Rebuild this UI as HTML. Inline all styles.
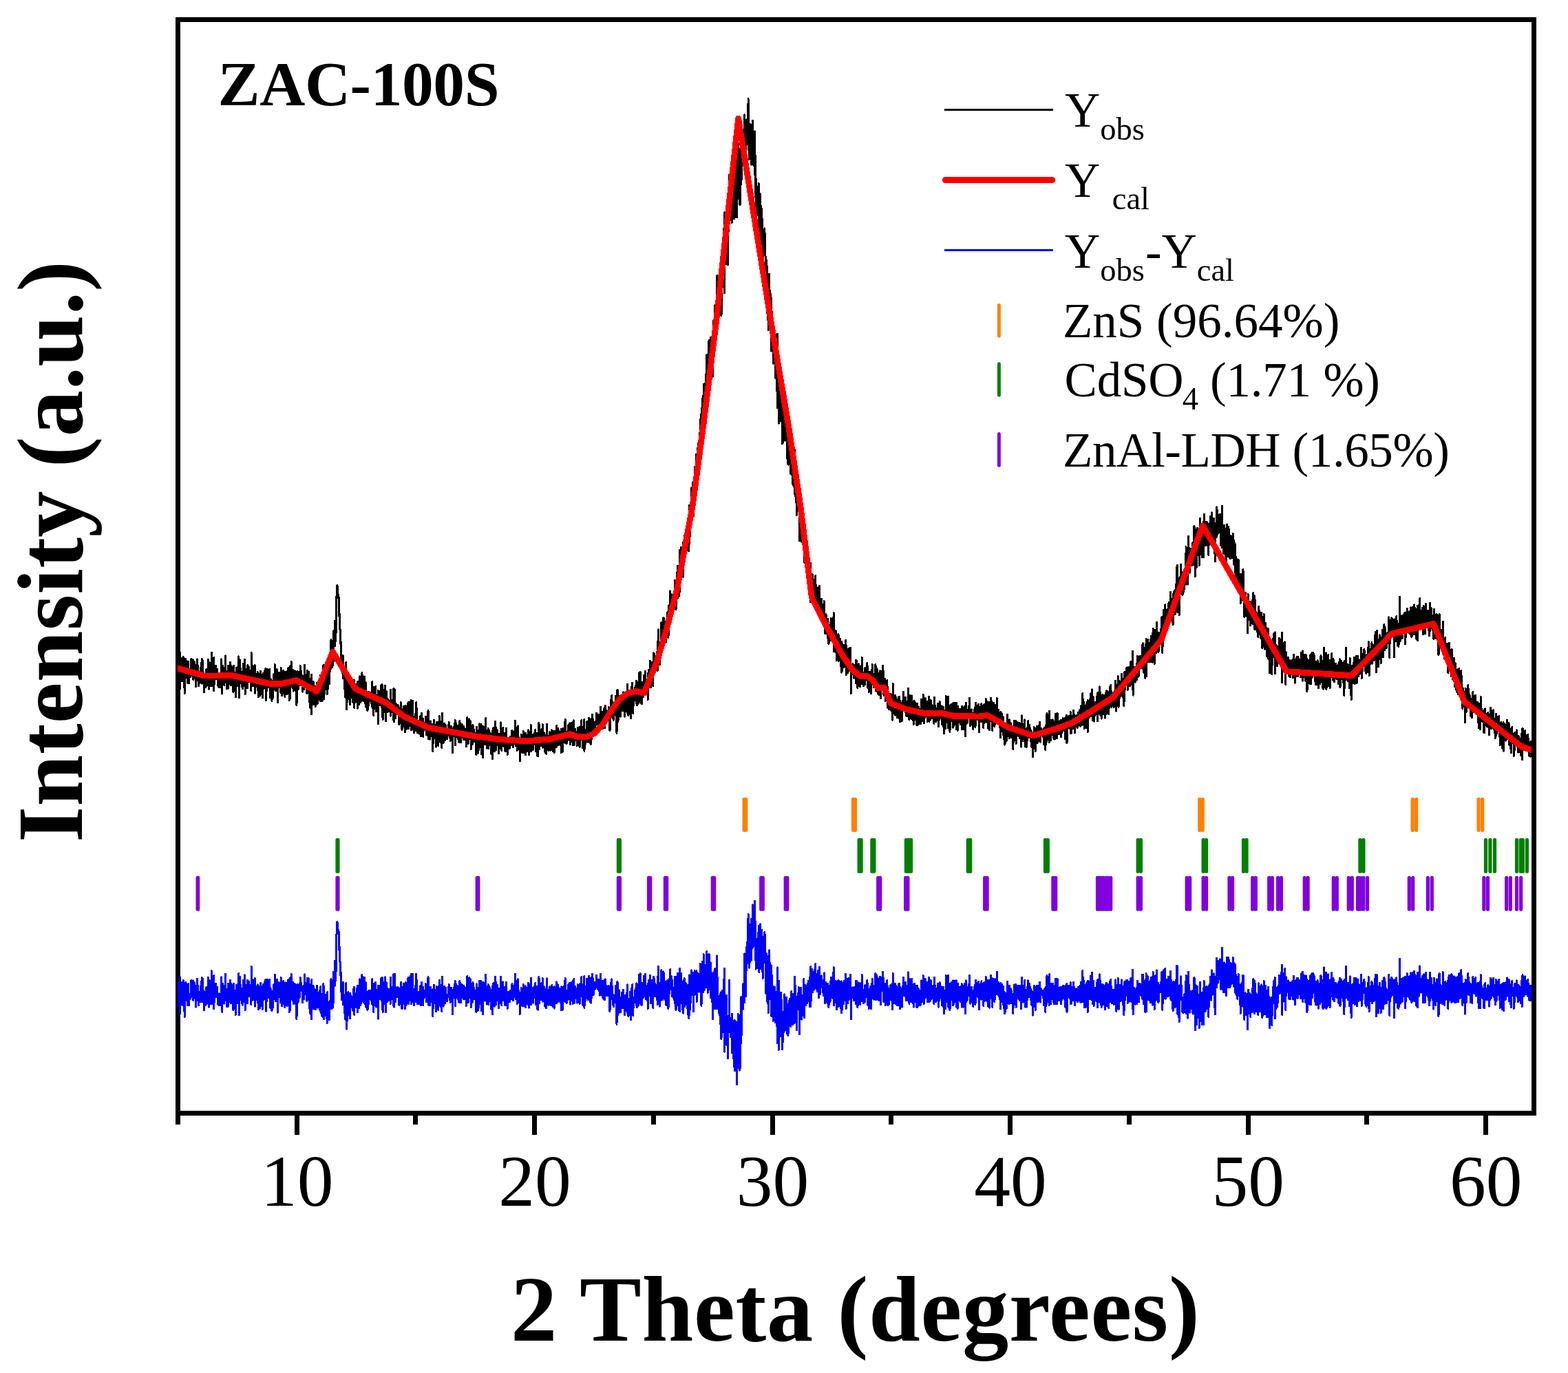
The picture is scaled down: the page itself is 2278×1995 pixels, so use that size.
<!DOCTYPE html>
<html lang="en"><head><meta charset="utf-8"><title>ZAC-100S Rietveld refinement</title>
<style>html,body{margin:0;padding:0;background:#fff}body{width:2278px;height:1995px;overflow:hidden}svg{display:block}text{font-family:"Liberation Serif","Times New Roman",serif;fill:#000}.b{font-weight:bold}</style></head><body>
<svg width="2278" height="1995" viewBox="0 0 2278 1995">
<rect x="0" y="0" width="2278" height="1995" fill="#fff"/>
<defs><clipPath id="cp"><rect x="258" y="29" width="1967" height="1588"/></clipPath></defs>
<rect x="258.5" y="28.5" width="1970" height="1589" fill="none" stroke="#000" stroke-width="7"/>
<g clip-path="url(#cp)" fill="none" stroke-linejoin="round" stroke-linecap="round" shape-rendering="crispEdges">
<polyline stroke="#000" stroke-width="3" points="258.2,954.2 258.5,987.9 258.9,959.2 259.2,968.9 259.6,971.4 259.9,961.9 260.3,954.8 260.6,978.9 261.0,976.6 261.3,948.0 261.7,1000.9 262.0,984.2 262.3,962.7 262.7,984.4 263.0,967.7 263.4,972.6 263.7,982.3 264.1,956.0 264.4,980.1 264.8,989.8 265.1,989.9 265.5,968.4 265.8,985.3 266.1,954.3 266.5,971.2 266.8,978.5 267.2,957.0 267.5,973.9 267.9,995.6 268.2,1007.7 268.6,983.8 268.9,983.9 269.3,962.4 269.6,960.1 269.9,957.8 270.3,981.9 270.6,984.4 271.0,967.7 271.3,960.6 271.7,977.5 272.0,980.0 272.4,973.0 272.7,992.3 273.1,975.6 273.4,975.7 273.7,961.4 274.1,978.3 274.4,992.8 274.8,976.1 275.1,976.2 275.5,981.1 275.8,978.8 276.2,983.7 276.5,983.8 276.9,983.9 277.2,967.2 277.5,981.7 277.9,957.8 278.2,979.5 278.6,962.8 278.9,977.3 279.3,982.2 279.6,972.7 280.0,980.0 280.3,958.5 280.7,968.2 281.0,987.5 281.3,963.6 281.7,985.3 282.0,961.4 282.4,966.3 282.7,964.0 283.1,978.5 283.4,985.8 283.8,966.7 284.1,976.3 284.5,998.0 284.8,974.1 285.1,969.4 285.5,983.9 285.8,976.8 286.2,969.7 286.5,957.8 286.9,989.1 287.2,972.4 287.6,979.7 287.9,967.8 288.3,996.7 288.6,989.5 288.9,992.0 289.3,977.7 289.6,985.0 290.0,992.3 290.3,992.4 290.7,985.3 291.0,980.6 291.4,975.9 291.7,971.1 292.1,968.8 292.4,985.7 292.7,978.6 293.1,957.1 293.4,978.8 293.8,993.2 294.1,978.9 294.5,959.8 294.8,979.1 295.2,991.2 295.5,984.1 295.9,976.9 296.2,1003.4 296.6,1005.9 296.9,979.6 297.2,991.6 297.6,986.8 297.9,991.6 298.3,998.8 298.6,991.6 299.0,982.0 299.3,974.8 299.7,972.4 300.0,982.0 300.4,996.4 300.7,986.8 301.0,982.0 301.4,984.4 301.7,982.0 302.1,989.2 302.4,967.6 302.8,958.0 303.1,977.2 303.5,967.6 303.8,1001.2 304.2,979.6 304.5,979.6 304.8,962.8 305.2,984.4 305.5,974.8 305.9,996.4 306.2,991.5 306.6,972.3 306.9,986.7 307.3,948.3 307.6,974.7 308.0,996.3 308.3,991.5 308.6,984.3 309.0,981.9 309.3,965.1 309.7,965.1 310.0,984.3 310.4,1003.5 310.7,955.5 311.1,989.1 311.4,989.1 311.8,993.9 312.1,972.3 312.4,974.7 312.8,981.9 313.1,969.9 313.5,967.5 313.8,969.9 314.2,981.9 314.5,986.7 314.9,981.9 315.2,981.8 315.6,974.6 315.9,972.2 316.2,996.2 316.6,981.8 316.9,981.8 317.3,993.8 317.6,996.2 318.0,998.6 318.3,986.6 318.7,981.8 319.0,984.2 319.4,984.2 319.7,998.6 320.0,984.2 320.4,989.0 320.7,981.8 321.1,998.6 321.4,957.8 321.8,986.5 322.1,991.3 322.5,967.3 322.8,1008.1 323.2,979.3 323.5,979.3 323.8,967.3 324.2,991.3 324.5,984.1 324.9,974.5 325.2,984.1 325.6,991.3 325.9,996.1 326.3,984.1 326.6,969.7 327.0,974.5 327.3,952.8 327.6,972.0 328.0,991.2 328.3,986.4 328.7,979.2 329.0,976.8 329.4,1000.8 329.7,984.0 330.1,993.6 330.4,986.4 330.8,974.4 331.1,1000.8 331.4,967.2 331.8,967.2 332.1,976.8 332.5,971.9 332.8,974.3 333.2,974.3 333.5,993.5 333.9,981.5 334.2,986.3 334.6,962.3 334.9,971.9 335.2,995.9 335.6,967.1 335.9,995.9 336.3,969.5 336.6,986.3 337.0,971.9 337.3,983.9 337.7,969.4 338.0,979.0 338.4,1003.1 338.7,976.7 339.0,1005.5 339.4,976.8 339.7,967.2 340.1,981.7 340.4,976.9 340.8,1003.3 341.1,991.4 341.5,996.2 341.8,989.1 342.2,1013.1 342.5,991.6 342.8,989.2 343.2,972.5 343.5,970.1 343.9,984.6 344.2,994.2 344.6,996.7 344.9,970.3 345.3,989.6 345.6,984.8 346.0,968.1 346.3,989.7 346.6,953.8 347.0,985.1 347.3,1013.9 347.7,970.8 348.0,982.9 348.4,958.9 348.7,973.4 349.1,992.6 349.4,971.1 349.8,983.2 350.1,978.5 350.4,978.5 350.8,985.8 351.1,988.3 351.5,997.9 351.8,993.2 352.2,976.5 352.5,1000.6 352.9,998.2 353.2,964.7 353.6,991.2 353.9,993.6 354.2,996.1 354.6,991.4 354.9,967.5 355.3,982.0 355.6,958.0 356.0,982.1 356.3,1008.6 356.7,991.9 357.0,994.4 357.4,977.6 357.7,972.9 358.0,973.0 358.4,987.5 358.7,975.6 359.1,978.0 359.4,999.7 359.8,966.2 360.1,968.7 360.5,978.4 360.8,983.3 361.2,983.3 361.5,969.0 361.8,988.3 362.2,983.6 362.5,990.9 362.9,974.2 363.2,988.7 363.6,988.7 363.9,979.2 364.3,984.1 364.6,979.4 365.0,1003.5 365.3,948.4 365.7,970.0 366.0,965.3 366.3,982.2 366.7,979.9 367.0,982.3 367.4,996.8 367.7,968.1 368.1,977.8 368.4,985.0 368.8,973.1 369.1,992.4 369.5,992.5 369.8,978.1 370.1,966.2 370.5,1007.1 370.8,992.7 371.2,992.8 371.5,988.1 371.9,988.2 372.2,997.8 372.6,988.3 372.9,981.2 373.3,998.1 373.6,988.5 373.9,979.0 374.3,976.7 374.6,1003.1 375.0,996.0 375.3,1012.9 375.7,981.8 376.0,979.4 376.4,993.9 376.7,1006.0 377.1,996.4 377.4,994.1 377.7,1011.0 378.1,979.8 378.4,975.1 378.8,980.0 379.1,984.9 379.5,994.5 379.8,1001.8 380.2,994.7 380.5,1009.1 380.9,980.4 381.2,1014.1 381.5,980.5 381.9,1004.6 382.2,978.3 382.6,995.1 382.9,990.4 383.3,997.7 383.6,1000.1 384.0,988.2 384.3,990.6 384.7,993.1 385.0,974.0 385.3,981.2 385.7,971.7 386.0,991.0 386.4,1017.4 386.7,1000.7 387.1,981.5 387.4,981.6 387.8,1003.3 388.1,986.5 388.5,972.2 388.8,979.4 389.1,979.5 389.5,979.6 389.8,998.8 390.2,991.7 390.5,974.9 390.9,984.6 391.2,977.4 391.6,977.5 391.9,972.7 392.3,1013.6 392.6,987.2 392.9,999.2 393.3,1001.6 393.6,987.2 394.0,999.2 394.3,999.2 394.7,994.4 395.0,1018.4 395.4,994.4 395.7,989.6 396.1,999.2 396.4,1013.6 396.7,1004.0 397.1,987.1 397.4,982.3 397.8,979.9 398.1,984.7 398.5,996.7 398.8,1001.5 399.2,965.5 399.5,991.9 399.9,977.5 400.2,999.1 400.5,1003.9 400.9,982.3 401.2,987.1 401.6,979.9 401.9,996.7 402.3,972.7 402.6,977.5 403.0,984.6 403.3,1006.2 403.7,1020.6 404.0,991.8 404.3,977.4 404.7,991.8 405.0,982.2 405.4,996.6 405.7,977.4 406.1,987.0 406.4,991.8 406.8,999.0 407.1,991.8 407.5,1006.2 407.8,994.2 408.1,970.2 408.5,1003.8 408.8,989.3 409.2,984.4 409.5,1010.8 409.9,979.5 410.2,991.4 410.6,981.7 410.9,1008.1 411.3,986.4 411.6,993.5 411.9,974.2 412.3,1007.8 412.6,978.9 413.0,1002.8 413.3,1005.1 413.7,1005.0 414.0,1012.2 414.4,976.1 414.7,995.2 415.1,992.7 415.4,995.0 415.7,1004.5 416.1,992.5 416.4,980.4 416.8,989.9 417.1,1009.0 417.5,975.3 417.8,989.6 418.2,977.5 418.5,1003.9 418.9,970.2 419.2,984.5 419.5,986.8 419.9,991.5 420.2,1017.8 420.6,1008.1 420.9,976.8 421.3,1015.1 421.6,974.2 422.0,966.9 422.3,969.2 422.7,990.7 423.0,995.4 423.3,961.7 423.7,992.8 424.0,985.6 424.4,997.5 424.7,983.0 425.1,999.7 425.4,994.8 425.8,973.1 426.1,1004.2 426.5,989.8 426.8,996.9 427.1,1001.6 427.5,975.2 427.8,987.1 428.2,977.4 428.5,975.0 428.9,989.3 429.2,991.6 429.6,1003.6 429.9,1003.5 430.3,986.7 430.6,977.0 430.9,1025.1 431.3,1013.2 431.6,984.5 432.0,975.0 432.3,982.3 432.7,989.6 433.0,1001.7 433.4,999.5 433.7,992.4 434.1,985.4 434.4,990.3 434.8,983.3 435.1,988.2 435.4,986.0 435.8,995.8 436.1,967.1 436.5,984.1 436.8,986.7 437.2,974.9 437.5,987.1 437.9,977.7 438.2,982.7 438.6,987.7 438.9,987.9 439.2,983.3 439.6,1005.1 439.9,993.3 440.3,995.9 440.6,993.7 441.0,984.4 441.3,982.2 441.7,1001.7 442.0,987.5 442.4,971.0 442.7,966.4 443.0,995.5 443.4,983.8 443.7,993.7 444.1,986.8 444.4,989.4 444.8,992.1 445.1,980.4 445.5,995.2 445.8,1007.4 446.2,1002.9 446.5,974.4 446.8,979.5 447.2,979.8 447.5,994.5 447.9,1006.8 448.2,1002.4 448.6,976.3 448.9,998.2 449.3,1008.1 449.6,994.0 450.0,1020.8 450.3,992.3 450.6,1014.2 451.0,1029.0 451.3,986.1 451.7,996.0 452.0,1008.4 452.4,1037.5 452.7,980.3 453.1,1009.4 453.4,1005.0 453.8,998.1 454.1,993.7 454.4,996.4 454.8,1001.6 455.1,989.9 455.5,1023.9 455.8,993.0 456.2,1000.6 456.5,998.6 456.9,1001.3 457.2,1006.5 457.6,997.2 457.9,1004.8 458.2,1026.7 458.6,1019.9 458.9,1005.9 459.3,1018.2 459.6,999.4 460.0,1011.7 460.3,992.6 460.7,994.5 461.0,998.8 461.4,1022.3 461.7,1009.7 462.0,1014.0 462.4,1008.6 462.7,1010.5 463.1,1009.9 463.4,1014.1 463.8,1006.3 464.1,991.3 464.5,993.1 464.8,1016.5 465.2,1018.2 465.5,1008.0 465.8,981.1 466.2,1018.9 466.5,1004.0 466.9,998.7 467.2,998.3 467.6,993.0 467.9,1019.0 468.3,1018.6 468.6,984.6 469.0,993.8 469.3,1000.6 469.6,1012.2 470.0,966.2 470.3,1006.7 470.7,1015.9 471.0,989.1 471.4,993.5 471.7,1007.5 472.1,997.4 472.4,975.2 472.8,977.0 473.1,978.9 473.4,973.4 473.8,989.6 474.1,981.7 474.5,988.3 474.8,997.2 475.2,1008.4 475.5,988.4 475.9,961.2 476.2,1001.2 476.6,981.1 476.9,997.0 477.2,976.9 477.6,985.4 477.9,977.1 478.3,978.2 478.6,993.7 479.0,965.9 479.3,976.4 479.7,974.9 480.0,966.0 480.4,940.3 480.7,972.2 481.0,929.6 481.4,944.5 481.7,954.6 482.1,964.6 482.4,969.7 482.8,965.3 483.1,960.8 483.5,946.8 483.8,966.9 484.2,943.7 484.5,961.3 484.8,916.5 485.2,931.5 485.5,933.7 485.9,937.6 486.2,902.3 486.6,938.4 486.9,935.5 487.3,927.3 487.6,904.2 488.0,923.3 488.3,885.4 488.6,890.9 489.0,866.3 489.3,857.8 489.7,851.4 490.0,850.5 490.4,862.7 490.7,867.2 491.1,868.9 491.4,865.0 491.8,864.7 492.1,867.7 492.4,894.8 492.8,882.4 493.1,894.6 493.5,913.8 493.8,900.1 494.2,926.3 494.5,935.3 494.9,926.9 495.2,939.6 495.6,961.2 495.9,953.6 496.2,959.7 496.6,974.7 496.9,958.4 497.3,954.0 497.6,971.2 498.0,978.6 498.3,952.4 498.7,986.0 499.0,976.4 499.4,978.6 499.7,973.4 500.0,984.9 500.4,1001.0 500.7,997.8 501.1,1001.5 501.4,988.3 501.8,1013.2 502.1,1011.6 502.5,995.4 502.8,962.4 503.2,996.6 503.5,1030.7 503.9,997.7 504.2,986.2 504.5,1020.2 504.9,991.9 505.2,1004.2 505.6,1009.4 505.9,980.9 506.3,1002.8 506.6,1015.1 507.0,996.2 507.3,1008.5 507.7,1001.6 508.0,1013.8 508.3,1023.7 508.7,988.0 509.0,1000.2 509.4,1007.7 509.7,996.0 510.1,993.8 510.4,998.9 510.8,1001.6 511.1,997.1 511.5,1009.4 511.8,1014.5 512.1,1014.8 512.5,1012.7 512.8,1020.2 513.2,989.3 513.5,1004.0 513.9,1009.1 514.2,1014.2 514.6,988.0 514.9,1029.1 515.3,998.1 515.6,1010.4 515.9,1017.8 516.3,1020.4 516.6,1001.2 517.0,1001.1 517.3,1013.0 517.7,1015.3 518.0,1017.6 518.4,1007.9 518.7,1000.6 519.1,990.9 519.4,1029.2 519.7,990.7 520.1,1014.6 520.4,1009.7 520.8,1016.8 521.1,1019.1 521.5,1023.8 521.8,1006.9 522.2,1011.7 522.5,982.8 522.9,1006.7 523.2,997.1 523.5,1004.2 523.9,1021.0 524.2,1008.9 524.6,1018.5 524.9,1004.1 525.3,1011.2 525.6,1001.6 526.0,977.6 526.3,999.3 526.7,1004.1 527.0,1008.9 527.3,1006.6 527.7,1004.2 528.0,1018.7 528.4,1014.0 528.7,1002.1 529.1,1016.6 529.4,983.1 529.8,1004.9 530.1,1005.0 530.5,1022.0 530.8,1000.5 531.1,991.1 531.5,1010.4 531.8,1027.4 532.2,1005.9 532.5,1008.5 532.9,1006.3 533.2,1008.8 533.6,1023.4 533.9,1033.1 534.3,1014.1 534.6,1009.4 534.9,1031.2 535.3,1012.1 535.6,1009.9 536.0,1005.2 536.3,1007.8 536.7,1012.7 537.0,1008.1 537.4,1015.4 537.7,1013.2 538.1,1018.2 538.4,1006.3 538.7,1008.9 539.1,1013.8 539.4,1011.6 539.8,1014.1 540.1,1026.3 540.5,1000.0 540.8,990.6 541.2,1021.9 541.5,1010.1 541.9,1029.4 542.2,1012.8 542.5,998.5 542.9,1039.5 543.2,1018.0 543.6,1008.6 543.9,1003.9 544.3,1020.9 544.6,1006.6 545.0,1018.8 545.3,1028.5 545.7,997.5 546.0,1009.6 546.3,1019.4 546.7,1034.0 547.0,1026.9 547.4,1010.3 547.7,1032.0 548.1,1010.5 548.4,1013.1 548.8,1020.4 549.1,1003.8 549.5,1051.9 549.8,1030.5 550.1,1018.6 550.5,1009.2 550.8,1004.5 551.2,1021.5 551.5,1024.0 551.9,1012.2 552.2,1014.7 552.6,1024.5 552.9,1017.4 553.3,996.0 553.6,1024.9 553.9,1020.3 554.3,1027.6 554.6,1008.6 555.0,994.4 555.3,1004.1 555.7,1021.1 556.0,1042.8 556.4,1045.4 556.7,1021.6 557.1,1002.5 557.4,1014.7 557.7,1024.5 558.1,1024.6 558.4,1020.0 558.8,1034.6 559.1,1010.7 559.5,996.5 559.8,1011.1 560.2,1008.9 560.5,1047.4 560.9,1018.8 561.2,1004.6 561.5,1028.8 561.9,1033.8 562.2,1022.0 562.6,1024.7 562.9,1034.5 563.3,1027.6 563.6,1015.8 564.0,1030.5 564.3,1033.1 564.7,1028.6 565.0,1033.6 565.3,1031.5 565.7,1022.1 566.0,1022.4 566.4,1032.3 566.7,1018.1 567.1,1037.6 567.4,1040.2 567.8,1002.1 568.1,1026.4 568.5,1017.0 568.8,1019.7 569.1,1029.6 569.5,1025.1 569.8,1034.9 570.2,1032.8 570.5,1033.1 570.9,1019.0 571.2,1024.0 571.6,1045.9 571.9,1000.6 572.3,1048.9 572.6,1022.8 573.0,1042.2 573.3,1001.7 573.6,1026.0 574.0,1040.7 574.3,1033.8 574.7,1043.6 575.0,1022.3 575.4,1025.0 575.7,1025.2 576.1,1037.5 576.4,1037.8 576.8,1030.8 577.1,1031.1 577.4,1031.4 577.8,1034.1 578.1,1024.7 578.5,1034.6 578.8,1032.5 579.2,1030.3 579.5,1028.2 579.9,1052.5 580.2,1028.7 580.6,1041.0 580.9,1050.9 581.2,1043.9 581.6,1037.0 581.9,1049.3 582.3,1020.7 582.6,1023.4 583.0,1033.2 583.3,1035.9 583.7,1038.6 584.0,1060.4 584.4,1058.3 584.7,1039.4 585.0,1042.0 585.4,1030.3 585.7,1042.5 586.1,1026.0 586.4,1055.0 586.8,1036.1 587.1,1048.3 587.5,1026.9 587.8,1055.9 588.2,1048.9 588.5,1063.4 588.8,1042.0 589.2,1025.4 589.5,1032.7 589.9,1028.1 590.2,1059.5 590.6,1035.6 590.9,1035.8 591.3,1050.4 591.6,1045.7 592.0,1048.3 592.3,1038.9 592.6,1022.2 593.0,1029.6 593.3,1020.2 593.7,1058.7 594.0,1054.1 594.4,1039.9 594.7,1052.0 595.1,1052.2 595.4,1052.4 595.8,1050.1 596.1,1055.1 596.4,1045.6 596.8,1021.8 597.1,1017.2 597.5,1060.5 597.8,1053.5 598.2,1020.1 598.5,1049.0 598.9,1037.2 599.2,1042.2 599.6,1018.3 599.9,1054.5 600.2,1047.4 600.6,1057.2 600.9,1059.8 601.3,1062.3 601.6,1064.9 602.0,1050.6 602.3,1050.8 602.7,1041.4 603.0,1053.5 603.4,1046.5 603.7,1037.0 604.0,1061.2 604.4,1056.6 604.7,1020.7 605.1,1030.5 605.4,1047.4 605.8,1035.6 606.1,1064.6 606.5,1052.7 606.8,1057.7 607.2,1060.2 607.5,1065.2 607.8,1048.5 608.2,1058.3 608.5,1053.6 608.9,1061.0 609.2,1058.7 609.6,1066.1 609.9,1056.6 610.3,1047.2 610.6,1054.5 611.0,1040.3 611.3,1054.8 611.6,1069.4 612.0,1045.5 612.3,1036.1 612.7,1053.0 613.0,1048.4 613.4,1053.3 613.7,1046.3 614.1,1053.6 614.4,1044.2 614.8,1070.7 615.1,1051.7 615.4,1059.0 615.8,1061.6 616.1,1052.1 616.5,1059.5 616.8,1052.4 617.2,1050.1 617.5,1052.7 617.9,1060.0 618.2,1041.0 618.6,1045.9 618.9,1048.5 619.2,1051.0 619.6,1067.9 619.9,1056.1 620.3,1053.8 620.6,1058.8 621.0,1068.5 621.3,1049.4 621.7,1068.7 622.0,1032.8 622.4,1047.3 622.7,1073.7 623.0,1073.8 623.4,1059.5 623.7,1052.3 624.1,1066.8 624.4,1052.4 624.8,1074.1 625.1,1069.4 625.5,1067.0 625.8,1047.9 626.2,1067.1 626.5,1055.2 626.8,1055.3 627.2,1052.9 627.5,1057.8 627.9,1062.6 628.2,1067.5 628.6,1067.6 628.9,1091.6 629.3,1055.7 629.6,1070.1 630.0,1051.0 630.3,1055.9 630.6,1046.3 631.0,1072.8 631.3,1060.8 631.7,1060.9 632.0,1058.5 632.4,1068.2 632.7,1053.9 633.1,1063.5 633.4,1085.2 633.8,1058.8 634.1,1054.1 634.4,1049.3 634.8,1068.6 635.1,1061.5 635.5,1051.9 635.8,1052.0 636.2,1059.2 636.5,1049.7 636.9,1083.3 637.2,1059.4 637.6,1059.4 637.9,1059.5 638.2,1040.4 638.6,1045.2 638.9,1057.3 639.3,1059.7 639.6,1047.8 640.0,1079.0 640.3,1064.7 640.7,1074.3 641.0,1072.0 641.4,1057.7 641.7,1086.5 642.1,1062.6 642.4,1041.0 642.7,1036.3 643.1,1060.3 643.4,1070.0 643.8,1062.8 644.1,1079.7 644.5,1058.1 644.8,1067.8 645.2,1070.3 645.5,1051.1 645.9,1065.6 646.2,1065.6 646.5,1072.9 646.9,1075.3 647.2,1073.0 647.6,1053.8 647.9,1070.7 648.3,1073.1 648.6,1063.6 649.0,1070.8 649.3,1070.9 649.7,1073.4 650.0,1063.8 650.3,1066.3 650.7,1063.9 651.0,1064.0 651.4,1056.8 651.7,1059.3 652.1,1049.7 652.4,1059.4 652.8,1069.0 653.1,1069.1 653.5,1071.5 653.8,1062.0 654.1,1076.4 654.5,1057.3 654.8,1071.7 655.2,1067.0 655.5,1055.1 655.9,1055.1 656.2,1072.0 656.6,1062.4 656.9,1064.9 657.3,1093.7 657.6,1069.8 657.9,1065.0 658.3,1069.9 658.6,1057.9 659.0,1062.8 659.3,1067.6 659.7,1055.7 660.0,1062.9 660.4,1063.0 660.7,1065.4 661.1,1046.3 661.4,1082.4 661.7,1063.2 662.1,1070.5 662.4,1053.7 662.8,1051.4 663.1,1063.4 663.5,1061.1 663.8,1070.7 664.2,1054.0 664.5,1054.0 664.9,1068.5 665.2,1070.9 665.5,1073.4 665.9,1063.8 666.2,1066.3 666.6,1056.8 666.9,1078.4 667.3,1076.1 667.6,1076.1 668.0,1047.4 668.3,1073.8 668.7,1057.1 669.0,1069.1 669.3,1069.2 669.7,1078.8 670.0,1062.1 670.4,1062.2 670.7,1055.0 671.1,1052.7 671.4,1071.9 671.8,1055.2 672.1,1072.0 672.5,1062.5 672.8,1060.1 673.1,1074.6 673.5,1074.6 673.8,1055.5 674.2,1065.2 674.5,1065.2 674.9,1072.5 675.2,1058.1 675.6,1060.6 675.9,1065.4 676.3,1072.7 676.6,1075.1 676.9,1060.8 677.3,1084.9 677.6,1070.5 678.0,1058.6 678.3,1051.4 678.7,1061.1 679.0,1041.9 679.4,1068.4 679.7,1073.3 680.1,1080.5 680.4,1071.0 680.7,1049.4 681.1,1063.9 681.4,1073.5 681.8,1044.8 682.1,1059.3 682.5,1073.7 682.8,1066.6 683.2,1047.4 683.5,1061.9 683.9,1066.7 684.2,1088.4 684.5,1062.1 684.9,1057.3 685.2,1069.4 685.6,1071.8 685.9,1074.3 686.3,1081.6 686.6,1067.2 687.0,1052.9 687.3,1067.3 687.7,1067.4 688.0,1077.1 688.3,1077.1 688.7,1060.4 689.0,1074.8 689.4,1077.3 689.7,1065.4 690.1,1077.4 690.4,1070.3 690.8,1070.3 691.1,1068.0 691.5,1077.6 691.8,1096.8 692.1,1070.5 692.5,1056.1 692.8,1065.8 693.2,1063.4 693.5,1073.1 693.9,1068.3 694.2,1094.8 694.6,1075.6 694.9,1087.7 695.3,1061.3 695.6,1066.2 695.9,1090.2 696.3,1051.9 696.6,1071.1 697.0,1054.4 697.3,1085.6 697.7,1054.5 698.0,1066.5 698.4,1066.6 698.7,1052.2 699.1,1095.5 699.4,1069.1 699.7,1086.0 700.1,1062.0 700.4,1054.9 700.8,1071.7 701.1,1071.8 701.5,1100.6 701.8,1059.9 702.2,1055.2 702.5,1062.4 702.9,1072.1 703.2,1076.9 703.5,1062.6 703.9,1067.4 704.2,1074.7 704.6,1081.9 704.9,1065.2 705.3,1072.5 705.6,1043.7 706.0,1060.6 706.3,1075.0 706.7,1070.3 707.0,1067.9 707.3,1087.2 707.7,1068.1 708.0,1060.9 708.4,1073.0 708.7,1073.0 709.1,1058.7 709.4,1080.3 709.8,1087.6 710.1,1066.1 710.5,1061.3 710.8,1071.0 711.2,1083.0 711.5,1066.3 711.8,1064.0 712.2,1066.4 712.5,1073.7 712.9,1073.7 713.2,1069.0 713.6,1083.5 713.9,1095.5 714.3,1066.8 714.6,1083.6 715.0,1074.1 715.3,1103.0 715.6,1062.2 716.0,1069.5 716.3,1074.3 716.7,1057.6 717.0,1069.6 717.4,1079.3 717.7,1057.8 718.1,1074.6 718.4,1091.5 718.8,1067.5 719.1,1062.8 719.4,1048.5 719.8,1072.5 720.1,1055.8 720.5,1079.8 720.8,1089.5 721.2,1080.0 721.5,1065.6 721.9,1080.1 722.2,1068.1 722.6,1061.0 722.9,1068.3 723.2,1075.5 723.6,1070.8 723.9,1078.0 724.3,1094.9 724.6,1080.6 725.0,1080.6 725.3,1066.3 725.7,1087.9 726.0,1078.4 726.4,1083.2 726.7,1066.5 727.0,1076.2 727.4,1049.8 727.7,1071.5 728.1,1066.7 728.4,1064.4 728.8,1090.8 729.1,1059.7 729.5,1071.8 729.8,1074.2 730.2,1079.1 730.5,1083.9 730.8,1057.6 731.2,1069.6 731.5,1067.3 731.9,1081.7 732.2,1084.2 732.6,1069.9 732.9,1069.9 733.3,1065.2 733.6,1079.6 734.0,1091.7 734.3,1079.7 734.6,1067.8 735.0,1067.8 735.3,1067.9 735.7,1058.3 736.0,1092.0 736.4,1075.2 736.7,1072.9 737.1,1096.9 737.4,1077.7 737.8,1089.8 738.1,1077.8 738.4,1087.4 738.8,1075.5 739.1,1073.1 739.5,1080.3 739.8,1082.7 740.2,1087.6 740.5,1078.0 740.9,1073.2 741.2,1070.8 741.6,1078.1 741.9,1070.9 742.2,1073.3 742.6,1080.5 742.9,1083.0 743.3,1080.6 743.6,1068.6 744.0,1061.5 744.3,1078.3 744.7,1078.3 745.0,1071.1 745.4,1078.4 745.7,1085.6 746.0,1073.6 746.4,1080.8 746.7,1066.5 747.1,1073.7 747.4,1068.9 747.8,1061.8 748.1,1081.0 748.5,1047.4 748.8,1076.2 749.2,1083.5 749.5,1081.1 749.8,1061.9 750.2,1078.7 750.5,1057.2 750.9,1066.8 751.2,1090.8 751.6,1078.9 751.9,1088.5 752.3,1064.5 752.6,1054.9 753.0,1069.4 753.3,1088.6 753.6,1086.2 754.0,1086.2 754.3,1074.3 754.7,1076.7 755.0,1074.3 755.4,1105.6 755.7,1076.8 756.1,1093.6 756.4,1074.4 756.8,1091.3 757.1,1067.3 757.4,1072.1 757.8,1081.7 758.1,1072.2 758.5,1072.2 758.8,1074.6 759.2,1072.2 759.5,1093.9 759.9,1089.1 760.2,1062.7 760.6,1093.9 760.9,1077.2 761.2,1077.2 761.6,1074.8 761.9,1086.8 762.3,1084.5 762.6,1072.5 763.0,1077.3 763.3,1065.3 763.7,1096.6 764.0,1070.2 764.4,1067.8 764.7,1070.2 765.0,1079.9 765.4,1084.7 765.7,1075.1 766.1,1077.5 766.4,1075.1 766.8,1091.9 767.1,1079.9 767.5,1060.7 767.8,1091.9 768.2,1082.3 768.5,1096.7 768.8,1072.7 769.2,1072.6 769.5,1075.0 769.9,1063.0 770.2,1075.0 770.6,1089.4 770.9,1084.6 771.3,1053.4 771.6,1091.8 772.0,1082.2 772.3,1087.0 772.6,1077.3 773.0,1079.7 773.3,1077.3 773.7,1077.3 774.0,1067.7 774.4,1089.3 774.7,1079.7 775.1,1082.1 775.4,1082.0 775.8,1074.8 776.1,1077.2 776.4,1065.2 776.8,1079.6 777.1,1079.6 777.5,1074.8 777.8,1060.3 778.2,1091.5 778.5,1074.7 778.9,1077.1 779.2,1074.7 779.6,1072.3 779.9,1072.3 780.3,1065.0 780.6,1072.2 780.9,1098.6 781.3,1089.0 781.6,1098.6 782.0,1072.2 782.3,1057.7 782.7,1062.5 783.0,1050.5 783.4,1088.9 783.7,1088.9 784.1,1079.3 784.4,1081.6 784.7,1081.6 785.1,1076.8 785.4,1084.0 785.8,1067.2 786.1,1072.0 786.5,1076.7 786.8,1059.9 787.2,1067.1 787.5,1081.5 787.9,1081.5 788.2,1052.6 788.5,1086.2 788.9,1081.4 789.2,1083.8 789.6,1076.6 789.9,1083.7 790.3,1064.5 790.6,1074.1 791.0,1066.9 791.3,1071.7 791.7,1088.4 792.0,1093.2 792.3,1076.4 792.7,1071.6 793.0,1083.6 793.4,1081.1 793.7,1095.5 794.1,1083.5 794.4,1052.3 794.8,1076.3 795.1,1073.8 795.5,1069.0 795.8,1078.6 796.1,1076.2 796.5,1073.7 796.8,1090.5 797.2,1080.9 797.5,1080.9 797.9,1078.4 798.2,1088.0 798.6,1063.9 798.9,1087.8 799.3,1073.4 799.6,1090.1 799.9,1090.0 800.3,1080.3 800.6,1070.7 801.0,1077.8 801.3,1080.1 801.7,1060.8 802.0,1072.8 802.4,1067.9 802.7,1089.4 803.1,1091.7 803.4,1067.6 803.7,1070.0 804.1,1062.7 804.4,1077.0 804.8,1084.1 805.1,1093.6 805.5,1062.3 805.8,1083.9 806.2,1074.2 806.5,1066.9 806.9,1071.6 807.2,1066.7 807.5,1078.6 807.9,1073.7 808.2,1085.7 808.6,1068.8 808.9,1054.3 809.3,1063.8 809.6,1078.1 810.0,1058.8 810.3,1065.9 810.7,1077.8 811.0,1058.5 811.3,1082.4 811.7,1077.5 812.0,1067.8 812.4,1072.5 812.7,1067.6 813.1,1067.5 813.4,1069.8 813.8,1072.1 814.1,1072.0 814.5,1064.7 814.8,1062.2 815.1,1093.3 815.5,1059.5 815.8,1069.0 816.2,1083.3 816.5,1080.8 816.9,1063.9 817.2,1092.6 817.6,1090.1 817.9,1068.4 818.3,1058.7 818.6,1077.8 818.9,1068.0 819.3,1067.9 819.6,1063.0 820.0,1065.3 820.3,1072.4 820.7,1079.5 821.0,1048.2 821.4,1045.7 821.7,1079.1 822.1,1062.2 822.4,1076.5 822.7,1071.6 823.1,1081.1 823.4,1078.6 823.8,1066.5 824.1,1066.4 824.5,1071.1 824.8,1075.7 825.2,1061.2 825.5,1053.9 825.9,1070.6 826.2,1068.1 826.5,1065.6 826.9,1058.3 827.2,1075.0 827.6,1050.9 827.9,1062.8 828.3,1081.9 828.6,1055.5 829.0,1072.3 829.3,1072.4 829.7,1072.4 830.0,1050.8 830.3,1077.3 830.7,1070.1 831.0,1072.6 831.4,1070.3 831.7,1067.9 832.1,1080.0 832.4,1082.5 832.8,1048.9 833.1,1061.0 833.5,1065.9 833.8,1046.8 834.1,1082.8 834.5,1061.3 834.8,1075.8 835.2,1071.0 835.5,1066.3 835.9,1059.1 836.2,1066.4 836.6,1071.2 836.9,1076.1 837.3,1066.5 837.6,1064.2 837.9,1066.6 838.3,1083.4 838.6,1071.5 839.0,1061.9 839.3,1057.1 839.7,1064.2 840.0,1059.4 840.4,1064.1 840.7,1083.2 841.1,1076.0 841.4,1071.1 841.7,1073.5 842.1,1085.4 842.4,1056.5 842.8,1073.3 843.1,1066.0 843.5,1070.7 843.8,1068.3 844.2,1065.8 844.5,1072.9 844.9,1046.4 845.2,1070.4 845.5,1075.1 845.9,1058.2 846.2,1058.2 846.6,1086.9 846.9,1058.0 847.3,1065.1 847.6,1060.3 848.0,1062.6 848.3,1060.1 848.7,1045.6 849.0,1091.2 849.4,1059.9 849.7,1071.8 850.0,1066.9 850.4,1081.3 850.7,1074.0 851.1,1078.7 851.4,1078.5 851.8,1075.9 852.1,1066.0 852.5,1075.3 852.8,1048.6 853.2,1074.7 853.5,1072.0 853.8,1066.9 854.2,1052.1 854.5,1078.2 854.9,1056.3 855.2,1070.3 855.6,1043.5 855.9,1060.0 856.3,1054.8 856.6,1054.4 857.0,1054.0 857.3,1080.1 857.6,1060.5 858.0,1064.9 858.3,1081.3 858.7,1044.9 859.0,1075.8 859.4,1056.2 859.7,1051.0 860.1,1053.0 860.4,1038.3 860.8,1042.7 861.1,1044.7 861.4,1051.6 861.8,1063.2 862.1,1067.7 862.5,1053.0 862.8,1059.8 863.2,1059.5 863.5,1052.0 863.9,1056.4 864.2,1048.8 864.6,1057.9 864.9,1050.3 865.2,1052.2 865.6,1054.2 865.9,1053.8 866.3,1043.8 866.6,1036.2 867.0,1050.2 867.3,1045.1 867.7,1044.7 868.0,1049.2 868.4,1041.7 868.7,1053.5 869.0,1053.2 869.4,1038.6 869.7,1052.8 870.1,1038.2 870.4,1054.8 870.8,1054.6 871.1,1047.3 871.5,1056.7 871.8,1059.0 872.2,1051.7 872.5,1027.6 872.8,1049.1 873.2,1049.1 873.5,1056.2 873.9,1037.0 874.2,1053.7 874.6,1051.3 874.9,1051.3 875.3,1034.4 875.6,1036.8 876.0,1058.4 876.3,1055.9 876.6,1046.1 877.0,1058.0 877.3,1048.3 877.7,1040.9 878.0,1028.8 878.4,1057.4 878.7,1042.9 879.1,1047.5 879.4,1025.7 879.8,1040.0 880.1,1047.0 880.4,1042.0 880.8,1037.0 881.1,1032.0 881.5,1046.2 881.8,1038.8 882.2,1038.6 882.5,1040.8 882.9,1035.7 883.2,1040.3 883.6,1035.2 883.9,1042.1 884.2,1027.4 884.6,1029.5 884.9,1041.2 885.3,1038.5 885.6,1042.9 886.0,1061.7 886.3,1046.9 886.7,1051.4 887.0,1043.8 887.4,1036.2 887.7,1028.6 888.0,1016.2 888.4,1020.7 888.7,1010.7 889.1,1024.8 889.4,1019.6 889.8,1026.5 890.1,1035.7 890.5,1030.5 890.8,1044.6 891.2,1044.2 891.5,1046.2 891.8,1043.5 892.2,1035.9 892.5,1028.3 892.9,1037.5 893.2,1029.9 893.6,1029.6 893.9,1036.4 894.3,1019.2 894.6,1011.6 895.0,1035.3 895.3,1049.3 895.6,1041.7 896.0,1065.4 896.3,1012.2 896.7,1021.4 897.0,1001.9 897.4,1018.3 897.7,1049.2 898.1,1046.4 898.4,1014.9 898.8,1021.8 899.1,1016.6 899.4,1011.5 899.8,1023.2 900.1,1020.5 900.5,1025.0 900.8,1027.3 901.2,1031.9 901.5,1041.3 901.9,1024.4 902.2,1021.8 902.6,1024.0 902.9,1028.6 903.2,1021.3 903.6,1011.5 903.9,1018.6 904.3,1032.8 904.6,1011.0 905.0,1032.5 905.3,1005.9 905.7,1029.8 906.0,1029.7 906.4,1019.9 906.7,1022.2 907.0,1019.7 907.4,1041.2 907.7,1017.1 908.1,1012.2 908.4,1026.4 908.8,1033.5 909.1,1026.2 909.5,1019.0 909.8,1033.3 910.2,1011.6 910.5,1011.5 910.8,1006.6 911.2,1035.3 911.5,994.4 911.9,1006.3 912.2,1023.0 912.6,1025.3 912.9,1039.7 913.3,1025.3 913.6,1015.7 914.0,1037.3 914.3,1032.4 914.6,1034.8 915.0,1032.3 915.3,1025.1 915.7,1003.4 916.0,1008.1 916.4,1044.0 916.7,1019.9 917.1,998.1 917.4,1019.5 917.8,1031.3 918.1,1023.9 918.5,1018.8 918.8,992.1 919.1,1018.2 919.5,1015.4 919.8,1036.7 920.2,1017.1 920.5,1016.7 920.9,1011.5 921.2,1013.4 921.6,1017.8 921.9,1010.1 922.3,1004.9 922.6,999.6 922.9,1015.9 923.3,1008.2 923.6,1007.7 924.0,995.2 924.3,1001.9 924.7,989.4 925.0,1022.6 925.4,1024.5 925.7,1014.5 926.1,1006.9 926.4,1013.7 926.7,991.7 927.1,993.7 927.4,1022.1 927.8,995.3 928.1,1006.9 928.5,999.4 928.8,977.4 929.2,998.7 929.5,1015.2 929.9,1019.7 930.2,976.2 930.5,985.5 930.9,997.2 931.2,1016.2 931.6,1018.4 931.9,1022.9 932.3,1022.8 932.6,998.6 933.0,991.2 933.3,1012.7 933.7,1000.6 934.0,1002.9 934.3,998.1 934.7,998.0 935.0,1012.4 935.4,990.9 935.7,981.3 936.1,995.1 936.4,1001.6 936.8,996.0 937.1,997.6 937.5,975.3 937.8,988.9 938.1,1009.7 938.5,994.5 938.8,988.9 939.2,1007.2 939.5,987.2 939.9,1003.2 940.2,995.1 940.6,996.7 940.9,1003.0 941.3,1016.5 941.6,1003.7 941.9,978.8 942.3,973.1 942.6,981.8 943.0,983.3 943.3,992.0 943.7,983.9 944.0,985.4 944.4,960.5 944.7,981.2 945.1,985.1 945.4,998.5 945.7,988.0 946.1,977.5 946.4,962.2 946.8,975.6 947.1,974.7 947.5,971.4 947.8,975.2 948.2,976.7 948.5,975.8 948.9,996.4 949.2,957.1 949.5,949.0 949.9,972.0 950.2,949.5 950.6,963.0 950.9,962.0 951.3,953.9 951.6,972.2 952.0,968.9 952.3,960.8 952.7,967.0 953.0,968.5 953.3,953.2 953.7,964.3 954.0,956.2 954.4,955.2 954.7,946.9 955.1,974.5 955.4,954.2 955.8,931.5 956.1,954.3 956.5,914.8 956.8,949.6 957.1,955.7 957.5,961.7 957.8,946.2 958.2,933.0 958.5,965.5 958.9,952.3 959.2,956.0 959.6,933.2 959.9,944.1 960.3,911.7 960.6,939.4 960.9,904.6 961.3,917.9 961.6,911.9 962.0,944.4 962.3,940.9 962.7,918.1 963.0,941.0 963.4,925.4 963.7,897.9 964.1,916.0 964.4,898.1 964.7,920.9 965.1,924.6 965.4,906.7 965.8,927.2 966.1,930.8 966.5,903.3 966.8,921.4 967.2,910.7 967.5,907.2 967.9,932.4 968.2,900.1 968.5,903.8 968.9,905.1 969.2,913.4 969.6,914.6 969.9,889.4 970.3,919.3 970.6,925.3 971.0,926.4 971.3,901.2 971.7,890.4 972.0,879.5 972.3,899.9 972.7,891.4 973.0,890.2 973.4,881.8 973.7,858.9 974.1,884.1 974.4,885.2 974.8,879.2 975.1,863.5 975.5,879.1 975.8,880.2 976.1,864.6 976.5,887.3 976.8,876.4 977.2,877.6 977.5,881.1 977.9,870.2 978.2,871.4 978.6,879.7 978.9,880.8 979.3,881.9 979.6,866.2 979.9,876.9 980.3,882.8 980.6,843.1 981.0,856.2 981.3,862.1 981.7,860.8 982.0,885.8 982.4,874.9 982.7,854.4 983.1,853.0 983.4,832.5 983.7,838.0 984.1,869.8 984.4,822.4 984.8,856.6 985.1,833.2 985.5,838.6 985.8,839.2 986.2,866.2 986.5,842.8 986.9,843.4 987.2,848.8 987.6,799.0 987.9,859.6 988.2,802.6 988.6,815.2 988.9,834.9 989.3,804.3 989.6,795.3 990.0,836.7 990.3,813.2 990.7,830.6 991.0,821.6 991.4,810.1 991.7,837.1 992.0,804.1 992.4,838.2 992.7,790.8 993.1,786.6 993.4,789.5 993.8,802.1 994.1,778.6 994.5,784.0 994.8,815.7 995.2,794.7 995.5,809.6 995.8,793.3 996.2,777.1 996.5,772.8 996.9,785.3 997.2,781.1 997.6,772.0 997.9,767.7 998.3,799.5 998.6,790.4 999.0,776.5 999.3,765.0 999.6,760.8 1000.0,799.7 1000.3,754.6 1000.7,800.6 1001.0,750.7 1001.4,734.3 1001.7,789.9 1002.1,751.9 1002.4,778.6 1002.8,757.3 1003.1,743.2 1003.4,762.7 1003.8,738.9 1004.1,748.8 1004.5,737.0 1004.8,708.4 1005.2,742.2 1005.5,723.2 1005.9,728.1 1006.2,735.1 1006.6,701.1 1006.9,731.9 1007.2,729.0 1007.6,750.1 1007.9,728.1 1008.3,715.6 1008.6,695.9 1009.0,705.0 1009.3,678.1 1009.7,706.5 1010.0,694.0 1010.4,686.3 1010.7,690.6 1011.0,694.9 1011.4,689.7 1011.7,660.4 1012.1,703.2 1012.4,676.3 1012.8,678.3 1013.1,670.6 1013.5,650.9 1013.8,669.6 1014.2,654.7 1014.5,644.5 1014.8,658.4 1015.2,665.1 1015.5,659.7 1015.9,649.6 1016.2,632.2 1016.6,634.0 1016.9,635.9 1017.3,608.9 1017.6,646.7 1018.0,629.4 1018.3,602.4 1018.6,649.9 1019.0,656.5 1019.3,593.5 1019.7,609.8 1020.0,594.9 1020.4,623.1 1020.7,579.4 1021.1,612.5 1021.4,607.2 1021.8,616.3 1022.1,558.2 1022.4,577.0 1022.8,583.7 1023.1,602.4 1023.5,582.7 1023.8,594.1 1024.2,584.0 1024.5,557.0 1024.9,568.5 1025.2,560.8 1025.6,558.0 1025.9,543.1 1026.2,573.9 1026.6,561.5 1026.9,515.5 1027.3,565.6 1027.6,536.5 1028.0,517.0 1028.3,564.8 1028.7,540.6 1029.0,545.3 1029.4,533.2 1029.7,530.7 1030.0,494.7 1030.4,542.7 1030.7,511.5 1031.1,523.6 1031.4,518.8 1031.8,499.7 1032.1,490.3 1032.5,509.6 1032.8,536.2 1033.2,495.6 1033.5,495.8 1033.8,505.6 1034.2,491.5 1034.5,527.7 1034.9,508.8 1035.2,547.5 1035.6,499.8 1035.9,538.5 1036.3,478.8 1036.6,493.5 1037.0,465.0 1037.3,474.9 1037.6,475.2 1038.0,492.3 1038.3,507.0 1038.7,471.4 1039.0,442.9 1039.4,472.0 1039.7,465.1 1040.1,458.1 1040.4,482.2 1040.8,487.0 1041.1,446.1 1041.4,443.6 1041.8,400.2 1042.1,440.9 1042.5,467.1 1042.8,428.4 1043.2,464.2 1043.5,456.7 1043.9,454.0 1044.2,451.3 1044.6,431.8 1044.9,453.1 1045.2,452.7 1045.6,433.2 1045.9,423.2 1046.3,449.2 1046.6,451.2 1047.0,402.8 1047.3,431.1 1047.7,411.5 1048.0,459.1 1048.4,396.2 1048.7,388.5 1049.0,378.5 1049.4,416.4 1049.7,370.3 1050.1,403.4 1050.4,376.5 1050.8,414.4 1051.1,416.3 1051.5,403.8 1051.8,331.4 1052.2,340.5 1052.5,308.8 1052.8,426.0 1053.2,351.1 1053.5,353.1 1053.9,359.8 1054.2,369.0 1054.6,344.6 1054.9,351.4 1055.3,346.2 1055.6,314.6 1056.0,383.9 1056.3,378.7 1056.7,337.6 1057.0,330.1 1057.3,375.4 1057.7,384.7 1058.0,326.9 1058.4,336.2 1058.7,312.0 1059.1,326.2 1059.4,254.1 1059.8,258.7 1060.1,321.0 1060.5,304.1 1060.8,316.0 1061.1,304.0 1061.5,315.9 1061.8,304.0 1062.2,292.0 1062.5,304.1 1062.9,275.5 1063.2,323.6 1063.6,263.9 1063.9,276.1 1064.3,305.3 1064.6,272.0 1064.9,301.3 1065.3,313.7 1065.6,295.1 1066.0,262.1 1066.3,318.0 1066.7,282.7 1067.0,245.1 1067.4,315.6 1067.7,271.1 1068.1,279.6 1068.4,285.8 1068.7,251.4 1069.1,284.2 1069.4,230.7 1069.8,237.3 1070.1,251.3 1070.5,316.0 1070.8,275.2 1071.2,289.5 1071.5,251.0 1071.9,274.9 1072.2,207.4 1072.5,252.6 1072.9,272.8 1073.2,248.4 1073.6,216.6 1073.9,224.7 1074.3,281.7 1074.6,296.6 1075.0,250.6 1075.3,297.5 1075.7,221.6 1076.0,263.2 1076.3,252.1 1076.7,267.9 1077.0,202.9 1077.4,260.7 1077.7,236.8 1078.1,210.7 1078.4,218.2 1078.8,223.3 1079.1,233.3 1079.5,202.5 1079.8,200.6 1080.1,222.7 1080.5,215.8 1080.8,228.2 1081.2,235.9 1081.5,166.9 1081.9,208.3 1082.2,213.8 1082.6,206.9 1082.9,178.3 1083.3,219.2 1083.6,240.8 1083.9,192.9 1084.3,173.9 1084.6,210.2 1085.0,191.7 1085.3,190.3 1085.7,194.2 1086.0,177.0 1086.4,186.8 1086.7,170.9 1087.1,143.8 1087.4,217.8 1087.7,200.6 1088.1,193.1 1088.4,231.3 1088.8,197.5 1089.1,228.5 1089.5,223.6 1089.8,199.5 1090.2,180.1 1090.5,223.0 1090.9,217.9 1091.2,239.2 1091.5,181.4 1091.9,217.1 1092.2,226.5 1092.6,231.0 1092.9,228.4 1093.3,235.3 1093.6,175.1 1094.0,225.2 1094.3,220.1 1094.7,200.5 1095.0,240.9 1095.3,231.0 1095.7,216.2 1096.0,213.4 1096.4,253.7 1096.7,190.9 1097.1,248.1 1097.4,226.1 1097.8,256.9 1098.1,299.8 1098.5,282.6 1098.8,260.7 1099.1,296.4 1099.5,308.1 1099.8,291.0 1100.2,312.4 1100.5,276.3 1100.9,288.2 1101.2,273.7 1101.6,271.3 1101.9,280.9 1102.3,266.6 1102.6,283.7 1102.9,339.4 1103.3,308.9 1103.6,290.5 1104.0,337.1 1104.3,335.8 1104.7,281.8 1105.0,295.1 1105.4,351.3 1105.7,318.8 1106.1,324.8 1106.4,311.6 1106.7,303.2 1107.1,357.3 1107.4,317.7 1107.8,350.1 1108.1,382.5 1108.5,357.2 1108.8,343.9 1109.2,366.5 1109.5,367.7 1109.9,349.7 1110.2,370.1 1110.5,340.2 1110.9,331.9 1111.2,362.0 1111.6,339.4 1111.9,367.2 1112.3,383.0 1112.6,394.0 1113.0,433.9 1113.3,377.7 1113.7,391.1 1114.0,394.9 1114.3,386.7 1114.7,455.2 1115.0,398.9 1115.4,414.6 1115.7,418.2 1116.1,479.4 1116.4,422.9 1116.8,416.8 1117.1,463.4 1117.5,426.0 1117.8,398.1 1118.1,470.9 1118.5,469.4 1118.8,422.1 1119.2,430.1 1119.5,459.6 1119.9,441.1 1120.2,432.2 1120.6,442.4 1120.9,510.2 1121.3,496.3 1121.6,453.6 1121.9,475.8 1122.3,485.9 1122.6,479.2 1123.0,486.9 1123.3,528.1 1123.7,480.6 1124.0,481.1 1124.4,498.4 1124.7,489.2 1125.1,497.0 1125.4,500.3 1125.8,491.6 1126.1,540.4 1126.4,505.3 1126.8,549.4 1127.1,507.0 1127.5,510.2 1127.8,537.4 1128.2,528.5 1128.5,555.6 1128.9,553.9 1129.2,592.9 1129.6,485.5 1129.9,529.3 1130.2,551.4 1130.6,551.8 1130.9,557.1 1131.3,615.1 1131.6,517.2 1132.0,580.1 1132.3,566.2 1132.7,573.8 1133.0,598.3 1133.4,577.2 1133.7,596.8 1134.0,611.6 1134.4,612.0 1134.7,552.4 1135.1,579.1 1135.4,567.4 1135.8,582.1 1136.1,596.7 1136.5,644.9 1136.8,592.2 1137.2,601.9 1137.5,606.7 1137.8,642.6 1138.2,604.1 1138.5,625.5 1138.9,634.8 1139.2,632.1 1139.6,583.6 1139.9,600.0 1140.3,640.2 1140.6,594.0 1141.0,624.5 1141.3,602.2 1141.6,639.9 1142.0,634.2 1142.3,604.6 1142.7,632.5 1143.0,617.2 1143.4,628.3 1143.7,665.7 1144.1,648.0 1144.4,651.8 1144.8,674.8 1145.1,649.8 1145.4,675.2 1145.8,657.4 1146.1,656.4 1146.5,646.0 1146.8,637.9 1147.2,637.1 1147.5,641.0 1147.9,669.1 1148.2,668.3 1148.6,645.9 1148.9,688.4 1149.2,654.2 1149.6,660.7 1149.9,643.4 1150.3,657.2 1150.6,690.3 1151.0,685.1 1151.3,665.5 1151.7,703.5 1152.0,681.5 1152.4,685.9 1152.7,704.8 1153.0,697.2 1153.4,684.9 1153.7,672.6 1154.1,717.9 1154.4,652.8 1154.8,686.1 1155.1,669.0 1155.5,692.7 1155.8,721.2 1156.2,701.7 1156.5,701.5 1156.8,710.8 1157.2,748.9 1157.5,739.1 1157.9,722.0 1158.2,707.3 1158.6,714.2 1158.9,730.7 1159.3,720.8 1159.6,725.3 1160.0,713.0 1160.3,707.9 1160.6,714.7 1161.0,740.7 1161.3,723.6 1161.7,785.6 1162.0,751.5 1162.4,755.9 1162.7,765.0 1163.1,731.0 1163.4,730.7 1163.8,749.7 1164.1,766.3 1164.4,766.2 1164.8,787.6 1165.1,785.1 1165.5,782.5 1165.8,787.2 1166.2,775.0 1166.5,786.8 1166.9,769.9 1167.2,769.7 1167.6,796.0 1167.9,755.0 1168.2,807.7 1168.6,817.1 1168.9,781.0 1169.3,802.5 1169.6,795.2 1170.0,780.7 1170.3,804.6 1170.7,809.3 1171.0,818.8 1171.4,799.4 1171.7,808.9 1172.0,799.0 1172.4,827.6 1172.7,812.9 1173.1,829.4 1173.4,807.5 1173.8,821.6 1174.1,809.2 1174.5,813.6 1174.8,844.4 1175.2,824.8 1175.5,829.1 1175.8,843.1 1176.2,821.0 1176.5,866.2 1176.9,827.3 1177.2,834.0 1177.6,874.4 1177.9,818.7 1178.3,871.0 1178.6,853.8 1179.0,858.1 1179.3,836.1 1179.6,855.5 1180.0,834.3 1180.3,868.2 1180.7,849.5 1181.0,842.7 1181.4,845.6 1181.7,851.0 1182.1,868.5 1182.4,862.0 1182.8,845.9 1183.1,844.3 1183.4,842.6 1183.8,869.8 1184.1,865.9 1184.5,845.1 1184.8,836.4 1185.2,861.2 1185.5,854.9 1185.9,870.2 1186.2,861.5 1186.6,869.7 1186.9,877.8 1187.2,881.1 1187.6,865.3 1187.9,878.3 1188.3,862.4 1188.6,853.8 1189.0,874.0 1189.3,889.4 1189.7,895.2 1190.0,874.6 1190.4,851.6 1190.7,881.5 1191.0,875.3 1191.4,888.3 1191.7,894.1 1192.1,873.5 1192.4,872.1 1192.8,877.9 1193.1,874.2 1193.5,870.4 1193.8,888.2 1194.2,877.2 1194.5,882.9 1194.9,883.9 1195.2,880.1 1195.5,897.8 1195.9,884.4 1196.2,890.1 1196.6,905.5 1196.9,892.0 1197.3,873.7 1197.6,889.0 1198.0,889.8 1198.3,907.5 1198.7,920.4 1199.0,902.1 1199.3,898.2 1199.7,920.6 1200.0,892.7 1200.4,907.9 1200.7,911.2 1201.1,904.9 1201.4,903.3 1201.8,909.0 1202.1,926.6 1202.5,915.5 1202.8,899.6 1203.1,912.4 1203.5,922.9 1203.8,935.7 1204.2,922.2 1204.5,915.9 1204.9,933.5 1205.2,927.2 1205.6,918.4 1205.9,907.3 1206.3,917.7 1206.6,930.6 1206.9,905.0 1207.3,898.6 1207.6,928.3 1208.0,900.3 1208.3,905.9 1208.7,921.1 1209.0,919.6 1209.4,925.2 1209.7,928.4 1210.1,934.0 1210.4,925.2 1210.7,916.4 1211.1,890.7 1211.4,946.7 1211.8,940.3 1212.1,938.7 1212.5,932.2 1212.8,921.0 1213.2,938.5 1213.5,932.0 1213.9,916.0 1214.2,947.9 1214.5,917.4 1214.9,930.1 1215.2,959.6 1215.6,926.7 1215.9,941.7 1216.3,952.0 1216.6,940.7 1217.0,922.1 1217.3,934.7 1217.7,940.2 1218.0,921.6 1218.3,960.6 1218.7,946.8 1219.0,952.2 1219.4,948.0 1219.7,951.0 1220.1,942.0 1220.4,928.1 1220.8,955.1 1221.1,948.5 1221.5,968.2 1221.8,932.8 1222.1,950.2 1222.5,977.1 1222.8,932.1 1223.2,935.0 1223.5,954.7 1223.9,974.4 1224.2,936.4 1224.6,953.7 1224.9,949.4 1225.3,945.0 1225.6,950.3 1225.9,969.9 1226.3,956.0 1226.6,937.2 1227.0,947.3 1227.3,957.3 1227.7,938.6 1228.0,948.6 1228.4,951.4 1228.7,930.3 1229.1,981.1 1229.4,938.4 1229.7,960.4 1230.1,956.1 1230.4,951.7 1230.8,976.1 1231.1,962.2 1231.5,950.6 1231.8,977.5 1232.2,968.3 1232.5,949.6 1232.9,942.8 1233.2,974.4 1233.5,962.9 1233.9,946.5 1234.2,971.0 1234.6,947.4 1234.9,957.5 1235.3,955.5 1235.6,941.6 1236.0,975.6 1236.3,1007.3 1236.7,976.5 1237.0,972.2 1237.3,965.4 1237.7,968.3 1238.0,973.5 1238.4,978.6 1238.7,964.5 1239.1,971.9 1239.4,967.4 1239.8,977.3 1240.1,982.4 1240.5,985.1 1240.8,966.2 1241.1,966.5 1241.5,981.2 1241.8,969.5 1242.2,972.2 1242.5,979.7 1242.9,980.1 1243.2,992.4 1243.6,959.1 1243.9,988.2 1244.3,969.3 1244.6,984.0 1244.9,960.3 1245.3,975.0 1245.6,970.5 1246.0,999.6 1246.3,966.3 1246.7,993.0 1247.0,969.3 1247.4,964.8 1247.7,981.9 1248.1,991.8 1248.4,980.1 1248.7,987.6 1249.1,983.1 1249.4,980.9 1249.8,998.0 1250.1,981.5 1250.5,991.2 1250.8,967.2 1251.2,979.2 1251.5,993.7 1251.9,976.9 1252.2,955.4 1252.5,991.4 1252.9,989.0 1253.2,977.1 1253.6,984.3 1253.9,977.2 1254.3,986.8 1254.6,996.5 1255.0,986.9 1255.3,982.1 1255.7,977.4 1256.0,979.8 1256.3,975.0 1256.7,994.3 1257.0,970.3 1257.4,975.2 1257.7,987.2 1258.1,987.2 1258.4,984.9 1258.8,977.7 1259.1,984.9 1259.5,965.7 1259.8,963.4 1260.1,968.3 1260.5,987.6 1260.8,999.8 1261.2,978.4 1261.5,976.2 1261.9,981.2 1262.2,1005.4 1262.6,986.4 1262.9,986.7 1263.3,977.3 1263.6,992.0 1264.0,1001.8 1264.3,987.7 1264.6,976.0 1265.0,1002.7 1265.3,986.1 1265.7,1008.0 1266.0,974.6 1266.4,984.4 1266.7,991.8 1267.1,965.6 1267.4,989.8 1267.8,994.9 1268.1,988.0 1268.4,993.1 1268.8,991.1 1269.1,979.4 1269.5,999.0 1269.8,980.1 1270.2,987.6 1270.5,980.7 1270.9,997.8 1271.2,986.1 1271.6,986.4 1271.9,965.1 1272.2,989.4 1272.6,1004.0 1272.9,968.3 1273.3,997.3 1273.6,992.7 1274.0,971.4 1274.3,988.4 1274.7,1005.3 1275.0,993.5 1275.4,998.5 1275.7,1008.2 1276.0,989.0 1276.4,1003.1 1276.7,978.8 1277.1,983.3 1277.4,1009.4 1277.8,1009.1 1278.1,1004.0 1278.5,974.9 1278.8,989.0 1279.2,981.5 1279.5,1014.9 1279.8,976.2 1280.2,976.0 1280.5,983.0 1280.9,994.7 1281.2,982.5 1281.6,987.1 1281.9,994.2 1282.3,989.2 1282.6,967.5 1283.0,974.5 1283.3,1008.1 1283.6,988.8 1284.0,1010.3 1284.3,1005.5 1284.7,1003.5 1285.0,992.1 1285.4,1009.6 1285.7,986.3 1286.1,1018.3 1286.4,1000.0 1286.8,1001.0 1287.1,990.1 1287.4,991.1 1287.8,994.7 1288.1,993.5 1288.5,989.9 1288.8,988.7 1289.2,1004.4 1289.5,1017.7 1289.9,1028.6 1290.2,1015.5 1290.6,1007.1 1290.9,1015.5 1291.2,1031.0 1291.6,1013.0 1291.9,1023.8 1292.3,1017.8 1292.6,1016.5 1293.0,1010.4 1293.3,1025.9 1293.7,1010.2 1294.0,1008.8 1294.4,1024.0 1294.7,1031.7 1295.0,1032.1 1295.4,1032.5 1295.7,1018.5 1296.1,1021.3 1296.4,1036.1 1296.8,1046.1 1297.1,993.6 1297.5,1037.2 1297.8,1027.9 1298.2,1023.4 1298.5,1016.4 1298.8,1019.1 1299.2,1012.1 1299.5,1029.1 1299.9,1014.8 1300.2,1024.6 1300.6,1010.3 1300.9,1039.2 1301.3,1034.6 1301.6,1013.1 1302.0,1032.5 1302.3,1023.0 1302.6,1015.9 1303.0,1028.1 1303.3,1035.4 1303.7,1042.7 1304.0,1030.9 1304.4,1040.6 1304.7,1035.9 1305.1,1036.0 1305.4,1038.6 1305.8,1012.3 1306.1,1024.4 1306.4,1043.8 1306.8,1012.7 1307.1,1020.0 1307.5,1048.9 1307.8,1017.9 1308.2,1030.0 1308.5,1032.5 1308.9,1025.4 1309.2,1040.0 1309.6,1037.7 1309.9,1021.0 1310.2,1047.5 1310.6,1021.3 1310.9,1023.8 1311.3,1028.7 1311.6,1031.2 1312.0,1017.0 1312.3,1031.5 1312.7,1005.2 1313.0,1024.5 1313.4,1019.9 1313.7,1022.4 1314.0,1029.7 1314.4,1032.2 1314.7,1022.8 1315.1,1030.1 1315.4,1013.4 1315.8,1025.5 1316.1,1040.1 1316.5,1023.4 1316.8,1025.8 1317.2,1030.7 1317.5,1040.4 1317.8,1035.7 1318.2,1028.6 1318.5,1019.1 1318.9,1033.5 1319.2,1000.0 1319.6,1036.1 1319.9,1021.8 1320.3,1038.7 1320.6,1031.5 1321.0,1046.0 1321.3,1024.5 1321.6,1010.2 1322.0,1031.9 1322.3,1027.2 1322.7,1029.6 1323.0,1044.1 1323.4,1022.6 1323.7,1039.5 1324.1,1042.0 1324.4,1044.4 1324.8,1010.9 1325.1,1032.6 1325.4,1025.5 1325.8,1030.4 1326.1,1023.2 1326.5,1028.1 1326.8,1042.6 1327.2,1052.3 1327.5,1040.4 1327.9,1018.8 1328.2,1045.3 1328.6,1019.0 1328.9,1028.7 1329.2,1045.6 1329.6,1026.4 1329.9,1040.9 1330.3,1031.4 1330.6,1021.9 1331.0,1036.4 1331.3,1026.8 1331.7,1053.3 1332.0,1053.4 1332.4,1051.1 1332.7,1022.3 1333.1,1053.6 1333.4,1036.9 1333.7,1039.4 1334.1,1037.0 1334.4,1027.5 1334.8,1034.8 1335.1,1044.5 1335.5,1051.7 1335.8,1039.8 1336.2,1035.1 1336.5,1030.4 1336.9,1030.4 1337.2,1052.1 1337.5,1042.6 1337.9,1037.8 1338.2,1016.3 1338.6,1016.4 1338.9,1042.9 1339.3,1042.9 1339.6,1047.8 1340.0,1038.3 1340.3,1028.7 1340.7,1016.8 1341.0,1026.4 1341.3,1009.6 1341.7,1038.5 1342.0,1040.9 1342.4,1050.5 1342.7,1016.9 1343.1,1019.4 1343.4,1043.4 1343.8,1038.6 1344.1,1014.6 1344.5,1029.0 1344.8,1036.3 1345.1,1031.5 1345.5,1038.7 1345.8,1036.3 1346.2,1029.2 1346.5,1041.2 1346.9,1034.0 1347.2,1048.4 1347.6,1019.6 1347.9,1034.1 1348.3,1029.3 1348.6,1034.1 1348.9,1041.3 1349.3,1043.7 1349.6,1012.6 1350.0,1048.6 1350.3,1041.4 1350.7,1041.4 1351.0,1036.6 1351.4,1046.3 1351.7,1041.5 1352.1,1017.5 1352.4,1029.5 1352.7,1034.3 1353.1,1032.0 1353.4,1032.0 1353.8,1044.0 1354.1,1024.8 1354.5,1027.2 1354.8,1024.9 1355.2,1036.9 1355.5,1041.7 1355.9,1027.3 1356.2,1041.7 1356.5,1029.7 1356.9,1051.4 1357.2,1013.0 1357.6,1037.0 1357.9,1049.0 1358.3,1032.2 1358.6,1024.9 1359.0,1027.3 1359.3,1041.7 1359.7,1029.6 1360.0,1048.8 1360.3,1036.7 1360.7,1029.5 1361.0,1031.9 1361.4,1041.4 1361.7,1046.2 1362.1,1027.0 1362.4,1022.1 1362.8,1022.1 1363.1,1041.2 1363.5,1055.6 1363.8,1029.1 1364.1,1043.5 1364.5,1031.5 1364.8,1045.8 1365.2,1019.4 1365.5,1043.4 1365.9,1021.7 1366.2,1026.5 1366.6,1038.5 1366.9,1033.6 1367.3,1036.0 1367.6,1040.8 1367.9,1038.5 1368.3,1052.9 1368.6,1043.4 1369.0,1026.6 1369.3,1036.3 1369.7,1029.2 1370.0,1031.6 1370.4,1055.7 1370.7,1027.0 1371.1,1051.1 1371.4,1053.6 1371.7,1065.7 1372.1,1036.9 1372.4,1039.4 1372.8,1039.5 1373.1,1032.4 1373.5,1056.5 1373.8,1059.0 1374.2,1011.1 1374.5,1032.8 1374.9,1049.7 1375.2,1025.8 1375.5,1030.8 1375.9,1038.1 1376.2,1038.2 1376.6,1035.9 1376.9,1036.0 1377.3,1057.7 1377.6,1012.2 1378.0,1033.9 1378.3,1026.8 1378.7,1041.2 1379.0,1034.1 1379.3,1043.8 1379.7,1039.1 1380.0,1063.2 1380.4,1024.9 1380.7,1034.6 1381.1,1049.1 1381.4,1034.8 1381.8,1042.1 1382.1,1022.9 1382.5,1047.0 1382.8,1037.5 1383.1,1044.8 1383.5,1030.5 1383.8,1032.9 1384.2,1030.6 1384.5,1057.1 1384.9,1021.1 1385.2,1045.1 1385.6,1042.7 1385.9,1054.7 1386.3,1042.7 1386.6,1028.3 1386.9,1045.2 1387.3,1021.2 1387.6,1052.4 1388.0,1038.0 1388.3,1030.8 1388.7,1033.2 1389.0,1045.2 1389.4,1021.2 1389.7,1059.6 1390.1,1033.2 1390.4,1057.2 1390.7,1042.8 1391.1,1062.0 1391.4,1026.1 1391.8,1050.1 1392.1,1040.5 1392.5,1033.3 1392.8,1050.1 1393.2,1038.1 1393.5,1030.9 1393.9,1038.1 1394.2,1030.9 1394.5,1038.1 1394.9,1040.5 1395.2,1052.5 1395.6,1038.1 1395.9,1030.9 1396.3,1047.8 1396.6,1035.8 1397.0,1028.6 1397.3,1026.2 1397.7,1059.8 1398.0,1038.2 1398.3,1057.4 1398.7,1028.6 1399.0,1028.6 1399.4,1059.8 1399.7,1038.2 1400.1,1038.2 1400.4,1038.2 1400.8,1028.6 1401.1,1050.2 1401.5,1026.3 1401.8,1047.9 1402.2,1028.7 1402.5,1069.5 1402.8,1047.9 1403.2,1052.7 1403.5,1021.5 1403.9,1043.1 1404.2,1033.5 1404.6,1031.1 1404.9,1031.1 1405.3,1050.3 1405.6,1040.7 1406.0,1033.5 1406.3,1033.5 1406.6,1033.5 1407.0,1033.4 1407.3,1035.8 1407.7,1026.2 1408.0,1028.6 1408.4,1014.2 1408.7,1040.6 1409.1,1045.4 1409.4,1033.4 1409.8,1055.0 1410.1,1031.0 1410.4,1040.6 1410.8,1052.6 1411.1,1042.9 1411.5,1030.9 1411.8,1042.9 1412.2,1035.7 1412.5,1052.5 1412.9,1047.7 1413.2,1038.1 1413.6,1045.3 1413.9,1059.6 1414.2,1052.4 1414.6,1050.0 1414.9,1038.0 1415.3,1033.2 1415.6,1030.8 1416.0,1049.9 1416.3,1028.3 1416.7,1045.1 1417.0,1057.1 1417.4,1021.1 1417.7,1042.6 1418.0,1028.2 1418.4,1037.8 1418.7,1045.0 1419.1,1028.1 1419.4,1025.7 1419.8,1035.3 1420.1,1042.5 1420.5,1035.2 1420.8,1028.0 1421.2,1047.2 1421.5,1027.9 1421.8,1023.1 1422.2,1039.8 1422.5,1063.7 1422.9,1032.5 1423.2,1037.2 1423.6,1027.5 1423.9,1032.3 1424.3,1027.4 1424.6,1041.7 1425.0,1032.0 1425.3,1029.5 1425.6,1048.7 1426.0,1022.2 1426.3,1048.5 1426.7,1036.4 1427.0,1029.1 1427.4,1038.7 1427.7,1033.8 1428.1,1040.9 1428.4,1036.0 1428.8,1057.5 1429.1,1050.2 1429.4,1050.1 1429.8,1023.6 1430.1,1033.1 1430.5,1049.8 1430.8,1044.9 1431.2,1037.6 1431.5,1035.0 1431.9,1049.2 1432.2,1015.4 1432.6,1027.2 1432.9,1019.8 1433.2,1048.4 1433.6,1019.4 1433.9,1033.5 1434.3,1050.1 1434.6,1030.6 1435.0,1037.6 1435.3,1035.1 1435.7,1042.2 1436.0,1058.8 1436.4,1020.3 1436.7,1034.5 1437.0,1051.2 1437.4,1060.7 1437.7,1031.7 1438.1,1048.4 1438.4,1041.1 1438.8,1041.0 1439.1,1016.9 1439.5,1014.4 1439.8,1035.9 1440.2,1031.1 1440.5,1031.0 1440.8,1019.0 1441.2,1050.1 1441.5,1030.9 1441.9,1062.1 1442.2,1031.0 1442.6,1038.2 1442.9,1040.7 1443.3,1028.7 1443.6,1021.6 1444.0,1026.6 1444.3,1033.9 1444.6,1029.3 1445.0,1055.9 1445.3,1029.7 1445.7,1042.0 1446.0,1044.7 1446.4,1037.9 1446.7,1024.0 1447.1,1041.2 1447.4,1046.6 1447.8,1039.9 1448.1,1038.1 1448.4,1014.7 1448.8,1027.4 1449.1,1037.7 1449.5,1043.2 1449.8,1048.7 1450.2,1039.9 1450.5,1045.4 1450.9,1031.8 1451.2,1051.8 1451.6,1052.6 1451.9,1043.8 1452.2,1056.6 1452.6,1045.5 1452.9,1043.9 1453.3,1047.1 1453.6,1071.9 1454.0,1034.3 1454.3,1054.3 1454.7,1047.9 1455.0,1053.4 1455.4,1037.4 1455.7,1062.1 1456.0,1062.8 1456.4,1053.9 1456.7,1052.1 1457.1,1057.5 1457.4,1067.7 1457.8,1041.9 1458.1,1073.6 1458.5,1057.2 1458.8,1069.6 1459.2,1050.8 1459.5,1082.3 1459.8,1063.3 1460.2,1080.4 1460.5,1054.1 1460.9,1054.3 1461.2,1073.7 1461.6,1069.0 1461.9,1066.8 1462.3,1076.5 1462.6,1067.0 1463.0,1059.9 1463.3,1043.2 1463.6,1038.5 1464.0,1069.8 1464.3,1069.9 1464.7,1053.1 1465.0,1070.0 1465.4,1060.4 1465.7,1062.8 1466.1,1072.4 1466.4,1045.9 1466.8,1067.5 1467.1,1069.9 1467.4,1060.2 1467.8,1065.0 1468.1,1050.5 1468.5,1064.9 1468.8,1069.6 1469.2,1071.9 1469.5,1055.1 1469.9,1071.8 1470.2,1067.0 1470.6,1069.3 1470.9,1062.1 1471.3,1069.2 1471.6,1064.4 1471.9,1088.3 1472.3,1059.5 1472.6,1073.8 1473.0,1061.8 1473.3,1047.3 1473.7,1066.5 1474.0,1076.1 1474.4,1071.2 1474.7,1071.2 1475.1,1054.4 1475.4,1066.4 1475.7,1047.2 1476.1,1080.8 1476.4,1078.4 1476.8,1052.0 1477.1,1056.9 1477.5,1049.7 1477.8,1054.6 1478.2,1057.0 1478.5,1049.9 1478.9,1057.2 1479.2,1069.2 1479.5,1059.7 1479.9,1069.5 1480.2,1060.0 1480.6,1064.9 1480.9,1050.6 1481.3,1072.3 1481.6,1050.9 1482.0,1060.6 1482.3,1051.1 1482.7,1068.0 1483.0,1053.7 1483.3,1070.7 1483.7,1085.2 1484.0,1068.5 1484.4,1039.8 1484.7,1073.5 1485.1,1066.5 1485.4,1071.4 1485.8,1069.1 1486.1,1076.4 1486.5,1076.5 1486.8,1064.6 1487.1,1052.8 1487.5,1064.9 1487.8,1074.6 1488.2,1045.9 1488.5,1067.6 1488.9,1046.1 1489.2,1077.4 1489.6,1084.8 1489.9,1075.3 1490.3,1061.0 1490.6,1075.5 1490.9,1080.4 1491.3,1085.3 1491.6,1080.6 1492.0,1078.3 1492.3,1056.8 1492.7,1066.6 1493.0,1071.5 1493.4,1066.8 1493.7,1047.7 1494.1,1067.0 1494.4,1059.9 1494.7,1069.6 1495.1,1072.1 1495.4,1053.0 1495.8,1060.3 1496.1,1070.0 1496.5,1058.1 1496.8,1067.8 1497.2,1060.7 1497.5,1060.8 1497.9,1077.7 1498.2,1068.2 1498.5,1063.5 1498.9,1085.2 1499.2,1066.1 1499.6,1068.6 1499.9,1068.7 1500.3,1100.0 1500.6,1076.1 1501.0,1078.4 1501.3,1066.4 1501.7,1078.3 1502.0,1080.6 1502.3,1056.5 1502.7,1073.2 1503.0,1085.1 1503.4,1087.4 1503.7,1070.5 1504.1,1092.1 1504.4,1060.8 1504.8,1079.9 1505.1,1075.0 1505.5,1058.1 1505.8,1079.6 1506.1,1055.5 1506.5,1060.2 1506.8,1067.3 1507.2,1055.2 1507.5,1079.1 1507.9,1062.2 1508.2,1054.9 1508.6,1069.2 1508.9,1066.7 1509.3,1057.0 1509.6,1061.7 1509.9,1076.0 1510.3,1075.9 1510.6,1049.4 1511.0,1078.1 1511.3,1078.0 1511.7,1077.9 1512.0,1061.0 1512.4,1058.5 1512.7,1065.6 1513.1,1060.7 1513.4,1063.0 1513.7,1060.5 1514.1,1062.8 1514.4,1060.3 1514.8,1067.4 1515.1,1067.3 1515.5,1062.3 1515.8,1059.8 1516.2,1081.3 1516.5,1074.0 1516.9,1069.1 1517.2,1057.0 1517.5,1071.3 1517.9,1064.0 1518.2,1071.1 1518.6,1066.2 1518.9,1090.1 1519.3,1063.5 1519.6,1053.8 1520.0,1075.3 1520.3,1075.2 1520.7,1077.5 1521.0,1036.6 1521.3,1053.3 1521.7,1055.6 1522.0,1045.9 1522.4,1065.0 1522.7,1069.6 1523.1,1074.3 1523.4,1071.8 1523.8,1062.1 1524.1,1078.8 1524.5,1064.3 1524.8,1033.0 1525.1,1059.3 1525.5,1054.4 1525.8,1066.3 1526.2,1056.6 1526.5,1058.8 1526.9,1075.5 1527.2,1053.8 1527.6,1046.5 1527.9,1063.2 1528.3,1067.9 1528.6,1058.2 1528.9,1060.5 1529.3,1053.2 1529.6,1045.9 1530.0,1053.0 1530.3,1048.1 1530.7,1072.0 1531.0,1057.5 1531.4,1074.1 1531.7,1057.2 1532.1,1049.9 1532.4,1061.8 1532.7,1061.7 1533.1,1073.6 1533.4,1037.4 1533.8,1054.1 1534.1,1063.6 1534.5,1051.5 1534.8,1058.6 1535.2,1056.0 1535.5,1072.7 1535.9,1070.2 1536.2,1036.5 1536.5,1041.2 1536.9,1048.3 1537.2,1057.7 1537.6,1055.2 1537.9,1052.7 1538.3,1064.6 1538.6,1066.9 1539.0,1057.2 1539.3,1054.6 1539.7,1056.9 1540.0,1047.2 1540.4,1066.3 1540.7,1066.2 1541.0,1046.8 1541.4,1070.7 1541.7,1056.2 1542.1,1065.7 1542.4,1056.0 1542.8,1053.5 1543.1,1062.9 1543.5,1046.0 1543.8,1053.1 1544.2,1043.4 1544.5,1060.1 1544.8,1052.7 1545.2,1052.6 1545.5,1050.1 1545.9,1062.0 1546.2,1057.1 1546.6,1052.1 1546.9,1049.6 1547.3,1073.5 1547.6,1071.0 1548.0,1042.1 1548.3,1065.9 1548.6,1058.6 1549.0,1056.1 1549.3,1058.4 1549.7,1039.1 1550.0,1079.7 1550.4,1074.8 1550.7,1053.1 1551.1,1053.0 1551.4,1055.2 1551.8,1045.5 1552.1,1057.4 1552.4,1052.5 1552.8,1040.4 1553.1,1047.4 1553.5,1044.9 1553.8,1044.8 1554.2,1047.1 1554.5,1058.9 1554.9,1046.8 1555.2,1034.7 1555.6,1065.8 1555.9,1044.0 1556.2,1065.4 1556.6,1053.2 1556.9,1055.4 1557.3,1040.8 1557.6,1050.2 1558.0,1045.2 1558.3,1049.8 1558.7,1054.4 1559.0,1044.6 1559.4,1058.8 1559.7,1032.2 1560.0,1036.8 1560.4,1053.4 1560.7,1053.2 1561.1,1060.2 1561.4,1064.8 1561.8,1052.6 1562.1,1054.8 1562.5,1049.7 1562.8,1049.5 1563.2,1044.5 1563.5,1046.7 1563.8,1039.3 1564.2,1043.9 1564.5,1055.7 1564.9,1050.7 1565.2,1057.7 1565.6,1040.7 1565.9,1040.5 1566.3,1049.9 1566.6,1035.3 1567.0,1035.1 1567.3,1051.7 1567.6,1041.9 1568.0,1053.6 1568.3,1043.8 1568.7,1038.8 1569.0,1031.4 1569.4,1055.2 1569.7,1040.6 1570.1,1033.2 1570.4,1025.8 1570.8,1028.0 1571.1,1037.4 1571.4,1054.0 1571.8,1032.2 1572.1,1044.0 1572.5,1043.8 1572.8,1007.5 1573.2,1026.5 1573.5,1047.9 1573.9,1016.5 1574.2,1052.3 1574.6,1040.1 1574.9,1020.7 1575.2,1058.9 1575.6,1037.1 1575.9,1056.1 1576.3,1041.5 1576.6,1029.3 1577.0,1050.7 1577.3,1057.7 1577.7,1050.3 1578.0,1023.7 1578.4,1042.7 1578.7,1023.3 1579.0,1030.3 1579.4,1051.7 1579.7,1020.3 1580.1,1063.3 1580.4,1017.5 1580.8,1019.6 1581.1,1043.4 1581.5,1033.6 1581.8,1033.4 1582.2,1023.6 1582.5,1042.6 1582.8,1037.6 1583.2,1032.6 1583.5,1025.2 1583.9,1015.4 1584.2,1032.0 1584.6,1007.8 1584.9,1024.4 1585.3,1038.6 1585.6,1040.8 1586.0,1028.6 1586.3,1001.9 1586.6,1037.7 1587.0,1042.3 1587.3,1032.5 1587.7,1046.7 1588.0,1041.7 1588.4,1012.7 1588.7,1026.9 1589.1,1024.3 1589.4,1048.1 1589.8,1043.1 1590.1,1030.9 1590.4,1035.5 1590.8,1040.1 1591.1,1020.7 1591.5,1027.7 1591.8,1027.5 1592.2,1024.9 1592.5,1024.7 1592.9,1031.7 1593.2,1012.3 1593.6,1014.5 1593.9,1035.9 1594.2,1045.3 1594.6,1047.5 1594.9,1006.5 1595.3,1030.3 1595.6,1015.7 1596.0,1020.2 1596.3,1022.4 1596.7,1029.4 1597.0,1031.6 1597.4,997.8 1597.7,1019.2 1598.0,1038.2 1598.4,1026.0 1598.7,1006.6 1599.1,1013.6 1599.4,1015.8 1599.8,1034.8 1600.1,1044.2 1600.5,1010.4 1600.8,1029.4 1601.2,1019.6 1601.5,1029.0 1601.8,1019.2 1602.2,1009.4 1602.5,1014.0 1602.9,1013.8 1603.2,1037.6 1603.6,1013.3 1603.9,1027.5 1604.3,1010.5 1604.6,1012.7 1605.0,1022.1 1605.3,1014.7 1605.6,1043.3 1606.0,1035.9 1606.3,1006.9 1606.7,1025.9 1607.0,1037.7 1607.4,1003.9 1607.7,1013.2 1608.1,1037.0 1608.4,1008.0 1608.8,1024.6 1609.1,1017.2 1609.5,1019.4 1609.8,1004.8 1610.1,1016.6 1610.5,1011.6 1610.8,1037.7 1611.2,1023.1 1611.5,1018.1 1611.9,1015.5 1612.2,1024.9 1612.6,998.3 1612.9,1002.9 1613.3,1005.0 1613.6,1004.8 1613.9,995.0 1614.3,1021.2 1614.6,1009.0 1615.0,1028.0 1615.3,1013.3 1615.7,1008.3 1616.0,1017.7 1616.4,1017.5 1616.7,1010.1 1617.1,1019.3 1617.4,1026.1 1617.7,1006.5 1618.1,1027.8 1618.4,1008.2 1618.8,1022.2 1619.1,1009.8 1619.5,1004.7 1619.8,1013.9 1620.2,996.7 1620.5,989.1 1620.9,1007.9 1621.2,1005.2 1621.5,995.2 1621.9,1033.2 1622.2,1011.2 1622.6,998.8 1622.9,1012.9 1623.3,1012.5 1623.6,1000.1 1624.0,1002.1 1624.3,982.5 1624.7,1006.2 1625.0,1027.4 1625.3,1017.4 1625.7,1014.6 1626.0,995.0 1626.4,989.8 1626.7,1013.5 1627.1,1005.9 1627.4,998.3 1627.8,997.9 1628.1,1011.9 1628.5,1006.7 1628.8,994.3 1629.1,998.8 1629.5,979.2 1629.8,983.6 1630.2,1004.8 1630.5,992.4 1630.9,987.2 1631.2,1001.2 1631.6,1012.8 1631.9,986.1 1632.3,992.9 1632.6,992.5 1632.9,1025.7 1633.3,1006.1 1633.6,998.5 1634.0,976.5 1634.3,1002.5 1634.7,999.7 1635.0,989.7 1635.4,982.1 1635.7,986.5 1636.1,971.7 1636.4,985.8 1636.7,985.4 1637.1,980.2 1637.4,987.0 1637.8,969.8 1638.1,1003.0 1638.5,985.8 1638.8,973.4 1639.2,997.0 1639.5,994.2 1639.9,981.8 1640.2,969.4 1640.5,985.8 1640.9,992.6 1641.2,992.2 1641.6,996.6 1641.9,996.1 1642.3,966.9 1642.6,985.7 1643.0,961.3 1643.3,994.5 1643.7,986.8 1644.0,993.6 1644.3,981.2 1644.7,980.7 1645.0,973.1 1645.4,946.3 1645.7,977.0 1646.1,1010.2 1646.4,995.3 1646.8,975.7 1647.1,982.4 1647.5,982.0 1647.8,969.5 1648.1,976.3 1648.5,980.6 1648.8,970.6 1649.2,982.1 1649.5,991.2 1649.9,986.0 1650.2,978.3 1650.6,970.6 1650.9,982.2 1651.3,964.9 1651.6,964.4 1651.9,988.0 1652.3,965.9 1652.6,953.4 1653.0,981.7 1653.3,978.8 1653.7,983.2 1654.0,968.3 1654.4,982.2 1654.7,967.3 1655.1,954.8 1655.4,963.9 1655.7,970.6 1656.1,953.3 1656.4,962.5 1656.8,969.2 1657.1,959.1 1657.5,965.8 1657.8,962.9 1658.2,952.8 1658.5,966.7 1658.9,968.6 1659.2,936.9 1659.5,953.2 1659.9,971.9 1660.2,966.6 1660.6,934.9 1660.9,963.2 1661.3,977.1 1661.6,969.4 1662.0,968.8 1662.3,956.3 1662.7,958.2 1663.0,940.9 1663.3,957.2 1663.7,985.5 1664.0,953.8 1664.4,943.7 1664.7,960.0 1665.1,928.3 1665.4,983.0 1665.8,960.9 1666.1,948.3 1666.5,947.8 1666.8,940.1 1667.1,951.6 1667.5,951.1 1667.8,929.0 1668.2,962.1 1668.5,944.8 1668.9,934.7 1669.2,960.6 1669.6,957.7 1669.9,940.3 1670.3,937.4 1670.6,960.9 1670.9,941.2 1671.3,947.9 1671.6,961.7 1672.0,927.6 1672.3,924.7 1672.7,931.3 1673.0,935.6 1673.4,942.2 1673.7,953.7 1674.1,933.9 1674.4,962.2 1674.7,942.4 1675.1,913.0 1675.4,938.9 1675.8,947.9 1676.1,952.1 1676.5,927.5 1676.8,934.2 1677.2,964.8 1677.5,937.8 1677.9,922.8 1678.2,915.0 1678.6,928.9 1678.9,937.9 1679.2,918.1 1679.6,948.7 1679.9,921.8 1680.3,904.4 1680.6,939.8 1681.0,929.6 1681.3,926.7 1681.7,945.3 1682.0,920.7 1682.4,936.9 1682.7,919.6 1683.0,947.8 1683.4,925.7 1683.7,925.1 1684.1,931.8 1684.4,924.0 1684.8,930.7 1685.1,920.5 1685.5,929.6 1685.8,921.9 1686.2,914.1 1686.5,928.0 1686.8,927.5 1687.2,905.2 1687.5,913.8 1687.9,896.1 1688.2,919.2 1688.6,927.8 1688.9,948.5 1689.3,918.8 1689.6,927.5 1690.0,931.4 1690.3,920.8 1690.6,886.3 1691.0,902.3 1691.3,913.4 1691.7,912.5 1692.0,909.2 1692.4,893.9 1692.7,878.7 1693.1,909.0 1693.4,920.2 1693.8,895.3 1694.1,908.9 1694.4,893.7 1694.8,897.6 1695.1,892.0 1695.5,910.4 1695.8,885.6 1696.2,899.2 1696.5,907.9 1696.9,895.1 1697.2,877.5 1697.6,898.3 1697.9,890.4 1698.2,875.2 1698.6,888.8 1698.9,885.6 1699.3,899.2 1699.6,881.6 1700.0,890.5 1700.3,896.9 1700.7,860.1 1701.0,900.1 1701.4,885.0 1701.7,869.8 1702.0,885.8 1702.4,897.1 1702.7,872.3 1703.1,873.9 1703.4,899.6 1703.8,901.2 1704.1,907.6 1704.5,877.9 1704.8,862.7 1705.2,861.8 1705.5,870.6 1705.8,860.1 1706.2,880.9 1706.5,892.0 1706.9,857.5 1707.2,892.7 1707.6,858.2 1707.9,859.7 1708.3,849.2 1708.6,877.2 1709.0,866.7 1709.3,865.8 1709.6,824.1 1710.0,854.4 1710.3,867.9 1710.7,821.4 1711.0,890.1 1711.4,865.2 1711.7,876.2 1712.1,853.7 1712.4,872.0 1712.8,875.9 1713.1,894.1 1713.4,840.4 1713.8,885.1 1714.1,838.5 1714.5,854.4 1714.8,846.3 1715.2,847.8 1715.5,820.5 1715.9,846.0 1716.2,830.8 1716.6,844.3 1716.9,850.6 1717.2,847.3 1717.6,844.1 1717.9,864.8 1718.3,849.6 1718.6,851.1 1719.0,862.3 1719.3,839.8 1719.7,841.4 1720.0,850.2 1720.4,834.9 1720.7,855.7 1721.0,828.5 1721.4,832.4 1721.7,834.0 1722.1,828.4 1722.4,832.4 1722.8,824.4 1723.1,794.8 1723.5,849.2 1723.8,824.3 1724.2,840.3 1724.5,813.1 1724.8,836.3 1725.2,806.7 1725.5,849.1 1725.9,824.3 1726.2,818.7 1726.6,779.5 1726.9,788.3 1727.3,813.9 1727.6,810.7 1728.0,809.9 1728.3,811.5 1728.6,832.3 1729.0,809.9 1729.3,809.1 1729.7,803.5 1730.0,797.8 1730.4,818.6 1730.7,805.8 1731.1,807.4 1731.4,816.2 1731.8,810.6 1732.1,821.7 1732.4,820.9 1732.8,788.9 1733.1,795.2 1733.5,820.8 1733.8,800.8 1734.2,814.3 1734.5,789.5 1734.9,764.6 1735.2,766.1 1735.6,789.3 1735.9,793.2 1736.2,837.9 1736.6,810.6 1736.9,809.7 1737.3,811.2 1737.6,769.4 1738.0,797.3 1738.3,794.0 1738.7,824.2 1739.0,782.5 1739.4,767.1 1739.7,792.6 1740.0,786.8 1740.4,790.6 1740.7,792.1 1741.1,788.7 1741.4,775.7 1741.8,777.2 1742.1,821.8 1742.5,772.8 1742.8,791.1 1743.2,766.1 1743.5,753.2 1743.8,795.4 1744.2,782.4 1744.5,800.7 1744.9,795.0 1745.2,779.6 1745.6,764.3 1745.9,806.6 1746.3,774.5 1746.6,809.6 1747.0,784.7 1747.3,786.2 1747.7,781.3 1748.0,778.8 1748.3,769.1 1748.7,809.8 1749.0,756.9 1749.4,747.2 1749.7,778.3 1750.1,761.5 1750.4,787.8 1750.8,768.5 1751.1,792.5 1751.5,773.2 1751.8,758.8 1752.1,766.0 1752.5,782.7 1752.8,761.1 1753.2,758.7 1753.5,768.3 1753.9,777.9 1754.2,792.4 1754.6,778.0 1754.9,785.1 1755.3,768.3 1755.6,801.9 1755.9,806.6 1756.3,760.9 1756.6,775.2 1757.0,770.3 1757.3,777.4 1757.7,765.3 1758.0,760.4 1758.4,750.6 1758.7,762.5 1759.1,769.6 1759.4,786.2 1759.7,778.9 1760.1,764.3 1760.4,759.4 1760.8,744.8 1761.1,780.7 1761.5,770.9 1761.8,778.0 1762.2,780.3 1762.5,777.8 1762.9,768.1 1763.2,763.2 1763.5,753.5 1763.9,758.2 1764.2,774.9 1764.6,803.7 1764.9,760.5 1765.3,772.5 1765.6,815.7 1766.0,770.1 1766.3,762.9 1766.7,767.8 1767.0,763.1 1767.3,736.8 1767.7,780.2 1768.0,739.5 1768.4,758.9 1768.7,761.6 1769.1,776.2 1769.4,764.5 1769.8,760.0 1770.1,755.6 1770.5,772.8 1770.8,763.6 1771.1,759.3 1771.5,747.8 1771.8,757.9 1772.2,772.9 1772.5,747.1 1772.9,774.1 1773.2,774.7 1773.6,792.1 1773.9,761.5 1774.3,759.7 1774.6,772.3 1774.9,768.1 1775.3,735.2 1775.6,795.8 1776.0,779.6 1776.3,780.2 1776.7,764.0 1777.0,783.9 1777.4,774.9 1777.7,804.3 1778.1,790.6 1778.4,803.2 1778.7,763.0 1779.1,768.5 1779.4,776.3 1779.8,774.6 1780.1,808.8 1780.5,790.1 1780.8,769.0 1781.2,781.5 1781.5,815.6 1781.9,782.6 1782.2,797.5 1782.5,762.0 1782.9,779.3 1783.2,787.1 1783.6,785.2 1783.9,790.5 1784.3,795.9 1784.6,808.4 1785.0,765.8 1785.3,792.7 1785.7,802.8 1786.0,796.2 1786.3,811.1 1786.7,792.5 1787.0,788.3 1787.4,781.8 1787.7,811.3 1788.1,778.5 1788.4,791.3 1788.8,797.0 1789.1,810.0 1789.5,796.5 1789.8,788.0 1790.1,810.7 1790.5,785.4 1790.8,793.7 1791.2,775.7 1791.5,810.6 1791.9,809.4 1792.2,784.3 1792.6,807.2 1792.9,820.5 1793.3,802.6 1793.6,789.6 1793.9,815.0 1794.3,825.9 1794.6,791.3 1795.0,833.5 1795.3,820.5 1795.7,836.3 1796.0,808.9 1796.4,839.1 1796.7,830.8 1797.1,839.4 1797.4,831.1 1797.7,846.8 1798.1,828.9 1798.4,827.8 1798.8,819.5 1799.1,813.5 1799.5,838.7 1799.8,832.7 1800.2,838.6 1800.5,837.4 1800.9,848.2 1801.2,844.5 1801.5,836.0 1801.9,856.3 1802.2,876.6 1802.6,834.5 1802.9,842.8 1803.3,858.3 1803.6,840.2 1804.0,867.8 1804.3,842.5 1804.7,836.4 1805.0,842.3 1805.3,872.2 1805.7,827.7 1806.0,860.1 1806.4,830.0 1806.7,871.9 1807.1,868.1 1807.4,874.0 1807.8,896.7 1808.1,864.2 1808.5,884.4 1808.8,878.3 1809.1,884.1 1809.5,861.2 1809.8,888.6 1810.2,868.0 1810.5,895.3 1810.9,889.0 1811.2,877.9 1811.6,886.0 1811.9,886.8 1812.3,882.9 1812.6,919.7 1812.9,870.1 1813.3,863.7 1813.6,864.5 1814.0,879.6 1814.3,885.1 1814.7,895.4 1815.0,900.9 1815.4,889.6 1815.7,890.2 1816.1,874.1 1816.4,903.5 1816.8,908.9 1817.1,887.9 1817.4,900.5 1817.8,881.9 1818.1,892.1 1818.5,895.1 1818.8,905.3 1819.2,872.3 1819.5,894.5 1819.9,907.1 1820.2,900.5 1820.6,905.9 1820.9,860.9 1821.2,885.5 1821.6,890.9 1821.9,886.7 1822.3,865.7 1822.6,914.3 1823.0,902.9 1823.3,872.3 1823.7,894.4 1824.0,902.2 1824.4,914.8 1824.7,913.0 1825.0,889.6 1825.4,895.0 1825.7,907.5 1826.1,917.7 1826.4,899.1 1826.8,897.3 1827.1,914.6 1827.5,908.0 1827.8,925.4 1828.2,914.0 1828.5,921.7 1828.8,881.5 1829.2,889.3 1829.5,887.4 1829.9,900.0 1830.2,915.0 1830.6,908.5 1830.9,918.8 1831.3,902.6 1831.6,927.3 1832.0,925.6 1832.3,890.3 1832.6,900.5 1833.0,908.4 1833.3,928.2 1833.7,928.9 1834.0,941.6 1834.4,896.6 1834.7,921.3 1835.1,919.5 1835.4,915.4 1835.8,918.4 1836.1,892.7 1836.4,926.9 1836.8,915.6 1837.1,906.6 1837.5,943.3 1837.8,915.1 1838.2,927.7 1838.5,916.4 1838.9,905.0 1839.2,920.0 1839.6,932.7 1839.9,914.1 1840.2,936.3 1840.6,953.8 1840.9,947.2 1841.3,926.2 1841.6,919.6 1842.0,944.2 1842.3,913.7 1842.7,919.1 1843.0,958.1 1843.4,939.5 1843.7,942.5 1844.0,931.1 1844.4,974.9 1844.7,977.9 1845.1,935.3 1845.4,950.3 1845.8,936.4 1846.1,946.5 1846.5,958.9 1846.8,959.3 1847.2,938.1 1847.5,948.0 1847.8,979.5 1848.2,955.7 1848.5,963.2 1848.9,951.4 1849.2,941.9 1849.6,927.7 1849.9,930.2 1850.3,920.8 1850.6,928.1 1851.0,933.0 1851.3,954.7 1851.6,921.1 1852.0,950.0 1852.3,918.9 1852.7,979.0 1853.0,935.8 1853.4,945.5 1853.7,967.2 1854.1,940.9 1854.4,945.8 1854.8,945.9 1855.1,953.2 1855.4,938.9 1855.8,967.9 1856.1,960.9 1856.5,946.7 1856.8,961.3 1857.2,944.8 1857.5,940.3 1857.9,945.4 1858.2,953.0 1858.6,927.0 1858.9,944.2 1859.2,954.3 1859.6,935.6 1859.9,953.0 1860.3,934.5 1860.6,954.3 1861.0,950.2 1861.3,955.7 1861.7,942.0 1862.0,928.2 1862.4,919.3 1862.7,992.0 1863.0,935.1 1863.4,945.3 1863.7,934.0 1864.1,975.5 1864.4,966.6 1864.8,969.7 1865.1,943.9 1865.5,973.4 1865.8,950.1 1866.2,977.1 1866.5,961.0 1866.8,932.9 1867.2,962.4 1867.5,953.4 1867.9,994.9 1868.2,947.6 1868.6,962.6 1868.9,963.3 1869.3,956.4 1869.6,956.6 1870.0,966.4 1870.3,971.4 1870.6,962.0 1871.0,964.6 1871.3,967.2 1871.7,955.4 1872.0,965.2 1872.4,967.8 1872.7,982.4 1873.1,977.8 1873.4,975.6 1873.8,980.6 1874.1,959.2 1874.4,983.5 1874.8,964.5 1875.1,967.0 1875.5,964.7 1875.8,979.1 1876.2,962.4 1876.5,976.9 1876.9,964.9 1877.2,962.6 1877.6,974.7 1877.9,957.9 1878.2,984.4 1878.6,960.5 1878.9,962.9 1879.3,984.6 1879.6,951.0 1880.0,982.3 1880.3,970.4 1880.7,970.4 1881.0,972.9 1881.4,958.5 1881.7,992.2 1882.0,977.8 1882.4,977.9 1882.7,980.4 1883.1,982.8 1883.4,973.3 1883.8,958.9 1884.1,954.2 1884.5,954.2 1884.8,963.9 1885.2,983.1 1885.5,954.4 1885.9,966.4 1886.2,978.5 1886.5,966.6 1886.9,966.6 1887.2,957.1 1887.6,973.9 1887.9,964.4 1888.3,962.0 1888.6,966.9 1889.0,976.6 1889.3,983.8 1889.7,957.5 1890.0,976.7 1890.3,957.6 1890.7,948.0 1891.0,962.5 1891.4,972.2 1891.7,969.8 1892.1,977.1 1892.4,945.9 1892.8,989.2 1893.1,982.0 1893.5,979.7 1893.8,951.0 1894.1,977.4 1894.5,965.5 1894.8,965.5 1895.2,972.8 1895.5,951.3 1895.9,984.9 1896.2,985.0 1896.6,982.6 1896.9,989.9 1897.3,951.5 1897.6,968.4 1897.9,968.5 1898.3,956.5 1898.6,983.0 1899.0,1004.6 1899.3,959.1 1899.7,980.8 1900.0,973.6 1900.4,976.1 1900.7,973.7 1901.1,981.0 1901.4,966.6 1901.7,969.1 1902.1,993.2 1902.4,974.0 1902.8,974.1 1903.1,952.5 1903.5,979.0 1903.8,981.5 1904.2,976.7 1904.5,993.6 1904.9,950.4 1905.2,984.1 1905.5,952.9 1905.9,960.2 1906.2,948.3 1906.6,984.3 1906.9,972.4 1907.3,967.6 1907.6,974.9 1908.0,948.5 1908.3,965.4 1908.7,977.4 1909.0,965.5 1909.3,972.8 1909.7,953.6 1910.0,975.3 1910.4,970.5 1910.7,977.8 1911.1,994.6 1911.4,975.5 1911.8,965.9 1912.1,978.0 1912.5,961.3 1912.8,994.9 1913.1,973.4 1913.5,973.4 1913.8,980.7 1914.2,959.1 1914.5,973.6 1914.9,971.2 1915.2,1000.1 1915.6,992.9 1915.9,997.8 1916.3,976.2 1916.6,976.3 1916.9,988.3 1917.3,966.8 1917.6,964.4 1918.0,993.3 1918.3,981.3 1918.7,981.4 1919.0,952.6 1919.4,969.5 1919.7,969.5 1920.1,967.2 1920.4,979.2 1920.7,962.5 1921.1,960.1 1921.4,998.6 1921.8,981.8 1922.1,962.7 1922.5,1001.1 1922.8,982.0 1923.2,979.6 1923.5,941.3 1923.9,994.1 1924.2,977.3 1924.5,991.8 1924.9,996.6 1925.2,960.7 1925.6,999.1 1925.9,987.2 1926.3,977.6 1926.6,948.8 1927.0,1001.7 1927.3,980.1 1927.7,985.0 1928.0,963.4 1928.3,985.1 1928.7,985.1 1929.0,997.1 1929.4,966.0 1929.7,951.6 1930.1,970.8 1930.4,966.1 1930.8,980.5 1931.1,975.8 1931.5,980.6 1931.8,992.6 1932.1,999.9 1932.5,978.3 1932.8,959.1 1933.2,978.4 1933.5,976.0 1933.9,976.0 1934.2,976.1 1934.6,978.5 1934.9,949.7 1935.3,983.4 1935.6,983.4 1935.9,981.0 1936.3,976.3 1936.6,988.3 1937.0,957.1 1937.3,976.3 1937.7,983.6 1938.0,971.6 1938.4,976.4 1938.7,990.9 1939.1,976.5 1939.4,966.9 1939.7,971.7 1940.1,981.4 1940.4,964.6 1940.8,976.6 1941.1,971.8 1941.5,979.0 1941.8,986.3 1942.2,986.3 1942.5,979.1 1942.9,981.5 1943.2,986.4 1943.5,967.2 1943.9,979.2 1944.2,964.8 1944.6,993.7 1944.9,979.3 1945.3,962.5 1945.6,972.1 1946.0,986.5 1946.3,981.8 1946.7,957.8 1947.0,998.6 1947.3,981.8 1947.7,981.9 1948.0,974.7 1948.4,967.5 1948.7,960.3 1949.1,979.6 1949.4,977.2 1949.8,974.8 1950.1,986.8 1950.5,982.0 1950.8,965.3 1951.1,972.5 1951.5,991.7 1951.8,962.9 1952.2,1003.8 1952.5,972.6 1952.9,1011.0 1953.2,984.6 1953.6,960.6 1953.9,984.7 1954.3,979.9 1954.6,975.1 1955.0,979.9 1955.3,979.9 1955.6,941.6 1956.0,987.2 1956.3,975.2 1956.7,980.0 1957.0,987.3 1957.4,980.1 1957.7,965.7 1958.1,989.7 1958.4,975.3 1958.8,982.6 1959.1,970.6 1959.4,977.8 1959.8,968.2 1960.1,999.4 1960.5,965.9 1960.8,992.3 1961.2,956.3 1961.5,982.7 1961.9,975.5 1962.2,992.4 1962.6,982.8 1962.9,1006.8 1963.2,1016.4 1963.6,973.2 1963.9,987.3 1964.3,967.8 1964.6,967.5 1965.0,979.2 1965.3,988.5 1965.7,985.8 1966.0,975.9 1966.4,992.4 1966.7,963.3 1967.0,965.4 1967.4,974.7 1967.7,955.2 1968.1,993.3 1968.4,973.8 1968.8,971.1 1969.1,980.4 1969.5,958.4 1969.8,972.5 1970.2,953.0 1970.5,971.9 1970.8,976.4 1971.2,992.8 1971.5,973.3 1971.9,989.8 1972.2,972.6 1972.6,953.1 1972.9,981.6 1973.3,971.6 1973.6,964.1 1974.0,983.0 1974.3,958.6 1974.6,965.5 1975.0,979.5 1975.3,979.2 1975.7,962.0 1976.0,973.7 1976.4,968.5 1976.7,975.4 1977.1,965.4 1977.4,941.1 1977.8,962.3 1978.1,986.0 1978.4,956.8 1978.8,963.7 1979.1,975.3 1979.5,962.9 1979.8,950.6 1980.2,964.6 1980.5,961.8 1980.9,951.9 1981.2,961.1 1981.6,946.3 1981.9,943.6 1982.2,948.0 1982.6,959.6 1982.9,961.7 1983.3,954.1 1983.6,975.3 1984.0,967.8 1984.3,960.2 1984.7,974.2 1985.0,978.6 1985.4,968.7 1985.7,951.5 1986.0,970.3 1986.4,972.3 1986.7,962.3 1987.1,954.8 1987.4,961.6 1987.8,961.2 1988.1,932.0 1988.5,977.2 1988.8,955.3 1989.2,981.3 1989.5,954.5 1989.8,944.5 1990.2,965.7 1990.5,955.7 1990.9,965.0 1991.2,947.8 1991.6,947.4 1991.9,942.2 1992.3,941.8 1992.6,955.8 1993.0,933.8 1993.3,952.7 1993.6,964.3 1994.0,937.5 1994.3,946.7 1994.7,939.1 1995.0,943.5 1995.4,950.3 1995.7,957.1 1996.1,959.2 1996.4,937.2 1996.8,956.0 1997.1,938.8 1997.4,931.2 1997.8,933.2 1998.1,918.4 1998.5,944.4 1998.8,920.1 1999.2,946.1 1999.5,976.9 1999.9,930.9 2000.2,916.0 2000.6,946.8 2000.9,927.2 2001.2,941.2 2001.6,940.7 2001.9,942.7 2002.3,968.7 2002.6,944.2 2003.0,941.4 2003.3,936.1 2003.7,928.5 2004.0,930.5 2004.4,922.8 2004.7,948.8 2005.0,933.9 2005.4,945.5 2005.7,940.3 2006.1,963.8 2006.4,934.6 2006.8,943.7 2007.1,926.5 2007.5,950.0 2007.8,930.4 2008.2,932.4 2008.5,915.1 2008.8,938.7 2009.2,955.0 2009.5,949.8 2009.9,915.8 2010.2,941.7 2010.6,919.7 2010.9,907.3 2011.3,911.6 2011.6,944.8 2012.0,925.2 2012.3,912.7 2012.6,931.5 2013.0,931.1 2013.3,923.5 2013.7,932.6 2014.0,920.2 2014.4,941.4 2014.7,936.2 2015.1,923.8 2015.4,928.2 2015.8,935.0 2016.1,922.6 2016.4,929.4 2016.8,921.8 2017.1,916.6 2017.5,897.0 2017.8,903.8 2018.2,908.2 2018.5,919.9 2018.9,955.5 2019.2,907.1 2019.6,913.9 2019.9,901.6 2020.2,913.2 2020.6,915.3 2020.9,926.9 2021.3,897.8 2021.6,923.8 2022.0,918.7 2022.3,911.3 2022.7,899.1 2023.0,901.3 2023.4,913.1 2023.7,922.5 2024.1,912.7 2024.4,905.3 2024.7,919.5 2025.1,900.1 2025.4,923.9 2025.8,955.0 2026.1,906.8 2026.5,928.2 2026.8,899.2 2027.2,913.4 2027.5,920.4 2027.9,929.8 2028.2,912.8 2028.5,931.9 2028.9,895.7 2029.2,909.9 2029.6,912.1 2029.9,914.3 2030.3,909.4 2030.6,938.0 2031.0,906.6 2031.3,925.6 2031.7,918.3 2032.0,939.7 2032.3,908.3 2032.7,920.2 2033.0,917.6 2033.4,867.0 2033.7,917.3 2034.1,924.3 2034.4,931.4 2034.8,895.2 2035.1,907.1 2035.5,926.1 2035.8,894.8 2036.1,899.4 2036.5,918.5 2036.8,918.3 2037.2,927.8 2037.5,925.2 2037.9,913.1 2038.2,893.8 2038.6,900.9 2038.9,907.9 2039.3,915.0 2039.6,910.1 2039.9,919.6 2040.3,897.8 2040.6,902.5 2041.0,890.4 2041.3,935.9 2041.7,907.0 2042.0,921.3 2042.4,925.9 2042.7,913.8 2043.1,906.5 2043.4,901.6 2043.7,903.9 2044.1,884.6 2044.4,901.3 2044.8,917.9 2045.1,910.6 2045.5,917.7 2045.8,917.6 2046.2,917.5 2046.5,907.8 2046.9,910.1 2047.2,919.6 2047.5,902.7 2047.9,888.2 2048.2,916.8 2048.6,907.1 2048.9,921.4 2049.3,897.3 2049.6,882.8 2050.0,904.3 2050.3,897.0 2050.7,892.1 2051.0,925.6 2051.3,908.7 2051.7,889.4 2052.0,882.1 2052.4,903.6 2052.7,913.1 2053.1,908.2 2053.4,920.1 2053.8,908.0 2054.1,910.3 2054.5,879.0 2054.8,922.1 2055.1,895.6 2055.5,917.1 2055.8,883.4 2056.2,890.5 2056.5,919.2 2056.9,885.5 2057.2,907.0 2057.6,897.3 2057.9,928.5 2058.3,909.2 2058.6,921.1 2058.9,901.8 2059.3,880.1 2059.6,930.4 2060.0,894.3 2060.3,903.8 2060.7,901.3 2061.0,879.7 2061.4,913.2 2061.7,896.3 2062.1,877.0 2062.4,881.7 2062.7,869.6 2063.1,891.2 2063.4,898.3 2063.8,888.6 2064.1,900.5 2064.5,895.7 2064.8,907.6 2065.2,900.3 2065.5,897.8 2065.9,890.5 2066.2,883.3 2066.5,888.0 2066.9,904.7 2067.2,892.7 2067.6,921.4 2067.9,911.7 2068.3,880.5 2068.6,906.8 2069.0,916.3 2069.3,889.9 2069.7,916.2 2070.0,889.7 2070.3,920.9 2070.7,906.4 2071.0,896.8 2071.4,877.6 2071.7,899.1 2072.1,889.5 2072.4,903.9 2072.8,887.1 2073.1,906.4 2073.5,892.0 2073.8,908.8 2074.1,911.3 2074.5,901.7 2074.8,906.6 2075.2,916.2 2075.5,887.5 2075.9,909.2 2076.2,904.5 2076.6,923.8 2076.9,897.5 2077.3,914.4 2077.6,876.1 2077.9,917.0 2078.3,907.5 2078.6,905.2 2079.0,912.5 2079.3,883.8 2079.7,898.4 2080.0,903.3 2080.4,896.2 2080.7,894.0 2081.1,915.7 2081.4,901.5 2081.7,899.2 2082.1,901.7 2082.4,921.1 2082.8,928.7 2083.1,919.7 2083.5,910.8 2083.8,885.1 2084.2,897.7 2084.5,893.6 2084.9,894.4 2085.2,923.9 2085.5,900.6 2085.9,927.8 2086.2,911.7 2086.6,907.7 2086.9,908.5 2087.3,892.5 2087.6,907.7 2088.0,925.3 2088.3,923.7 2088.7,917.4 2089.0,925.4 2089.3,919.1 2089.7,924.7 2090.0,952.0 2090.4,921.6 2090.7,896.1 2091.1,892.2 2091.4,912.3 2091.8,925.1 2092.1,938.0 2092.5,924.5 2092.8,927.8 2093.2,935.9 2093.5,915.2 2093.8,928.1 2094.2,933.8 2094.5,925.0 2094.9,921.1 2095.2,938.8 2095.6,946.9 2095.9,935.8 2096.3,903.1 2096.6,925.6 2097.0,931.3 2097.3,944.2 2097.6,933.0 2098.0,933.9 2098.3,954.0 2098.7,957.3 2099.0,943.8 2099.4,927.9 2099.7,926.4 2100.1,953.7 2100.4,935.3 2100.8,945.8 2101.1,944.3 2101.4,950.0 2101.8,953.3 2102.1,935.0 2102.5,940.7 2102.8,953.5 2103.2,952.0 2103.5,936.1 2103.9,977.8 2104.2,935.5 2104.6,970.0 2104.9,934.8 2105.2,969.3 2105.6,934.2 2105.9,971.1 2106.3,962.4 2106.6,970.5 2107.0,952.1 2107.3,965.0 2107.7,965.9 2108.0,966.8 2108.4,958.1 2108.7,983.0 2109.0,943.0 2109.4,948.7 2109.7,949.6 2110.1,986.5 2110.4,958.6 2110.8,961.8 2111.1,962.7 2111.5,968.4 2111.8,971.7 2112.2,967.7 2112.5,956.6 2112.8,981.4 2113.2,977.4 2113.5,997.4 2113.9,983.8 2114.2,977.4 2114.6,963.8 2114.9,981.4 2115.3,989.4 2115.6,1002.2 2116.0,988.6 2116.3,994.3 2116.6,992.7 2117.0,1005.5 2117.3,1001.5 2117.7,987.9 2118.0,972.0 2118.4,1008.8 2118.7,990.4 2119.1,981.7 2119.4,975.3 2119.8,971.4 2120.1,996.2 2120.4,992.3 2120.8,998.0 2121.1,1010.8 2121.5,990.1 2121.8,1000.6 2122.2,991.9 2122.5,990.3 2122.9,974.4 2123.2,992.1 2123.6,1014.6 2123.9,996.2 2124.2,1006.7 2124.6,1007.6 2124.9,1030.1 2125.3,1023.8 2125.6,1000.6 2126.0,1003.9 2126.3,1021.6 2126.7,1012.9 2127.0,1013.8 2127.4,1026.6 2127.7,1020.0 2128.0,1015.6 2128.4,1049.6 2128.7,1018.8 2129.1,1000.0 2129.4,1019.6 2129.8,1017.6 2130.1,1034.8 2130.5,1020.9 2130.8,1009.3 2131.2,1021.7 2131.5,1002.9 2131.8,1012.9 2132.2,1022.9 2132.5,1009.0 2132.9,995.0 2133.2,1007.4 2133.6,1010.2 2133.9,1027.4 2134.3,1015.9 2134.6,1021.1 2135.0,1009.5 2135.3,1021.9 2135.6,1015.1 2136.0,1030.0 2136.3,1025.6 2136.7,1040.4 2137.0,1031.2 2137.4,1019.6 2137.7,1015.3 2138.1,1027.7 2138.4,1032.9 2138.8,1042.9 2139.1,1019.3 2139.4,1012.5 2139.8,1005.7 2140.1,1015.7 2140.5,1025.8 2140.8,1023.8 2141.2,1024.2 2141.5,1026.9 2141.9,1032.1 2142.2,1010.9 2142.6,1030.5 2142.9,1028.5 2143.2,1028.9 2143.6,1026.9 2143.9,1010.4 2144.3,1037.2 2144.6,1025.6 2145.0,1030.7 2145.3,1035.9 2145.7,1033.8 2146.0,1036.6 2146.4,1036.9 2146.7,1022.9 2147.0,1020.8 2147.4,1042.7 2147.7,1026.3 2148.1,1057.8 2148.4,1022.1 2148.8,1036.8 2149.1,1034.7 2149.5,1039.8 2149.8,1025.7 2150.2,1040.4 2150.5,1059.9 2150.8,1031.4 2151.2,1012.4 2151.5,1043.9 2151.9,1041.8 2152.2,1044.5 2152.6,1030.4 2152.9,1042.6 2153.3,1047.7 2153.6,1033.6 2154.0,1041.1 2154.3,1046.2 2154.6,1048.9 2155.0,1037.1 2155.3,1042.2 2155.7,1061.7 2156.0,1064.4 2156.4,1031.0 2156.7,1064.9 2157.1,1038.8 2157.4,1053.5 2157.8,1029.8 2158.1,1042.0 2158.4,1037.5 2158.8,1052.2 2159.1,1045.3 2159.5,1047.9 2159.8,1048.2 2160.2,1046.1 2160.5,1056.0 2160.9,1046.6 2161.2,1044.5 2161.6,1040.0 2161.9,1035.5 2162.3,1040.5 2162.6,1050.4 2162.9,1057.9 2163.3,1046.2 2163.6,1068.0 2164.0,1061.1 2164.3,1049.4 2164.7,1052.0 2165.0,1047.5 2165.4,1028.6 2165.7,1057.7 2166.1,1050.7 2166.4,1031.8 2166.7,1058.5 2167.1,1044.3 2167.4,1047.0 2167.8,1032.9 2168.1,1049.9 2168.5,1055.0 2168.8,1045.7 2169.2,1050.7 2169.5,1031.8 2169.9,1058.5 2170.2,1051.5 2170.5,1051.8 2170.9,1059.3 2171.2,1064.3 2171.6,1052.6 2171.9,1062.4 2172.3,1072.3 2172.6,1043.8 2173.0,1056.0 2173.3,1037.1 2173.7,1059.0 2174.0,1068.8 2174.3,1054.7 2174.7,1042.9 2175.0,1050.4 2175.4,1060.3 2175.7,1041.3 2176.1,1041.6 2176.4,1061.0 2176.8,1042.1 2177.1,1059.1 2177.5,1047.4 2177.8,1040.5 2178.1,1067.1 2178.5,1069.8 2178.8,1050.8 2179.2,1082.3 2179.5,1060.9 2179.9,1066.0 2180.2,1061.4 2180.6,1049.7 2180.9,1071.6 2181.3,1062.2 2181.6,1067.3 2181.9,1062.7 2182.3,1058.2 2182.6,1087.2 2183.0,1065.9 2183.3,1058.9 2183.7,1068.8 2184.0,1049.8 2184.4,1066.9 2184.7,1091.1 2185.1,1057.8 2185.4,1070.0 2185.7,1051.1 2186.1,1065.7 2186.4,1075.5 2186.8,1054.2 2187.1,1056.8 2187.5,1076.3 2187.8,1069.3 2188.2,1072.0 2188.5,1072.2 2188.9,1053.3 2189.2,1048.7 2189.5,1046.5 2189.9,1073.2 2190.2,1051.8 2190.6,1049.7 2190.9,1061.9 2191.3,1067.0 2191.6,1072.0 2192.0,1050.6 2192.3,1082.1 2192.7,1058.3 2193.0,1070.5 2193.3,1068.4 2193.7,1059.0 2194.0,1073.7 2194.4,1073.9 2194.7,1081.3 2195.1,1091.2 2195.4,1093.8 2195.8,1082.0 2196.1,1077.5 2196.5,1068.1 2196.8,1056.3 2197.1,1075.8 2197.5,1066.4 2197.8,1069.0 2198.2,1069.3 2198.5,1076.7 2198.9,1069.7 2199.2,1098.8 2199.6,1082.2 2199.9,1068.0 2200.3,1077.8 2200.6,1090.1 2200.9,1063.9 2201.3,1078.5 2201.6,1069.1 2202.0,1076.6 2202.3,1072.0 2202.7,1077.0 2203.0,1082.0 2203.4,1082.3 2203.7,1060.9 2204.1,1085.1 2204.4,1078.1 2204.7,1071.2 2205.1,1076.2 2205.4,1093.2 2205.8,1076.6 2206.1,1069.6 2206.5,1086.7 2206.8,1077.3 2207.2,1087.1 2207.5,1082.5 2207.9,1092.3 2208.2,1073.4 2208.5,1076.0 2208.9,1090.6 2209.2,1098.0 2209.6,1083.8 2209.9,1093.6 2210.3,1086.6 2210.6,1082.0 2211.0,1065.3 2211.3,1103.8 2211.7,1094.3 2212.0,1058.4 2212.3,1089.7 2212.7,1075.3 2213.0,1073.0 2213.4,1075.5 2213.7,1090.0 2214.1,1082.9 2214.4,1080.6 2214.8,1080.6 2215.1,1078.3 2215.5,1088.0 2215.8,1061.7 2216.1,1069.0 2216.5,1081.0 2216.8,1071.5 2217.2,1083.6 2217.5,1078.9 2217.9,1086.1 2218.2,1081.4 2218.6,1088.7 2218.9,1084.0 2219.3,1091.2 2219.6,1079.3 2219.9,1067.4 2220.3,1084.2 2220.6,1084.3 2221.0,1079.6 2221.3,1094.0 2221.7,1089.3 2222.0,1099.0 2222.4,1079.8 2222.7,1079.9 2223.1,1089.6 2223.4,1099.2 2223.7,1077.7 2224.1,1089.8 2224.4,1085.0 2224.8,1082.7 2225.1,1094.8 2225.5,1094.8 2225.8,1092.5 2226.2,1080.5"/>
<polyline stroke="#f00" stroke-width="8.8" points="257.0,970.6 297.0,982.0 338.0,981.8 392.5,993.5 408.5,993.5 430.8,988.6 460.2,1004.5 483.4,947.1 516.4,1000.8 561.6,1021.6 587.2,1041.2 621.5,1057.0 689.9,1069.8 736.7,1075.4 766.0,1076.6 797.8,1074.2 828.3,1066.8 839.3,1070.5 851.5,1071.0 863.7,1065.6 876.0,1052.2 888.2,1032.6 900.4,1015.5 912.6,1007.0 924.8,1004.5 935.8,1007.0 954.2,961.7 968.8,912.9 983.5,856.7 1006.0,736.0 1023.0,609.0 1040.2,470.0 1072.7,172.0 1120.5,470.0 1146.0,621.6 1163.0,736.0 1179.3,868.0 1198.9,907.0 1223.3,951.0 1238.0,973.0 1250.2,982.8 1260.0,982.8 1267.3,987.7 1275.9,1000.0 1284.4,998.7 1294.2,1022.0 1316.2,1030.5 1340.6,1036.0 1357.7,1037.0 1367.5,1036.0 1384.6,1040.3 1421.3,1041.0 1434.7,1039.5 1465.2,1057.0 1500.7,1068.9 1531.2,1059.8 1555.7,1051.3 1580.1,1036.6 1616.7,1013.6 1687.0,930.0 1747.3,763.6 1869.0,975.7 1963.5,981.6 2022.0,921.0 2082.6,906.4 2127.5,1019.7 2210.5,1085.0 2226.0,1090.3"/>
<polyline stroke="#00f" stroke-width="3" points="258.2,1427.2 258.5,1460.8 258.9,1432.0 259.2,1441.6 259.6,1444.0 259.9,1434.4 260.3,1427.2 260.6,1451.2 261.0,1448.8 261.3,1420.0 261.7,1472.8 262.0,1456.0 262.3,1434.4 262.7,1456.0 263.0,1439.2 263.4,1444.0 263.7,1453.6 264.1,1427.2 264.4,1451.2 264.8,1460.8 265.1,1460.8 265.5,1439.2 265.8,1456.0 266.1,1424.8 266.5,1441.6 266.8,1448.8 267.2,1427.2 267.5,1444.0 267.9,1465.6 268.2,1477.6 268.6,1453.6 268.9,1453.6 269.3,1432.0 269.6,1429.6 269.9,1427.2 270.3,1451.2 270.6,1453.6 271.0,1436.8 271.3,1429.6 271.7,1446.4 272.0,1448.8 272.4,1441.6 272.7,1460.8 273.1,1444.0 273.4,1444.0 273.7,1429.6 274.1,1446.4 274.4,1460.8 274.8,1444.0 275.1,1444.0 275.5,1448.8 275.8,1446.4 276.2,1451.2 276.5,1451.2 276.9,1451.2 277.2,1434.4 277.5,1448.8 277.9,1424.8 278.2,1446.4 278.6,1429.6 278.9,1444.0 279.3,1448.8 279.6,1439.2 280.0,1446.4 280.3,1424.8 280.7,1434.4 281.0,1453.6 281.3,1429.6 281.7,1451.2 282.0,1427.2 282.4,1432.0 282.7,1429.6 283.1,1444.0 283.4,1451.2 283.8,1432.0 284.1,1441.6 284.5,1463.2 284.8,1439.2 285.1,1434.4 285.5,1448.8 285.8,1441.6 286.2,1434.4 286.5,1422.4 286.9,1453.6 287.2,1436.8 287.6,1444.0 287.9,1432.0 288.3,1460.8 288.6,1453.6 288.9,1456.0 289.3,1441.6 289.6,1448.8 290.0,1456.0 290.3,1456.0 290.7,1448.8 291.0,1444.0 291.4,1439.2 291.7,1434.4 292.1,1432.0 292.4,1448.8 292.7,1441.6 293.1,1420.0 293.4,1441.6 293.8,1456.0 294.1,1441.6 294.5,1422.4 294.8,1441.6 295.2,1453.6 295.5,1446.4 295.9,1439.2 296.2,1465.6 296.6,1468.0 296.9,1441.6 297.2,1453.6 297.6,1448.8 297.9,1453.6 298.3,1460.8 298.6,1453.6 299.0,1444.0 299.3,1436.8 299.7,1434.4 300.0,1444.0 300.4,1458.4 300.7,1448.8 301.0,1444.0 301.4,1446.4 301.7,1444.0 302.1,1451.2 302.4,1429.6 302.8,1420.0 303.1,1439.2 303.5,1429.6 303.8,1463.2 304.2,1441.6 304.5,1441.6 304.8,1424.8 305.2,1446.4 305.5,1436.8 305.9,1458.4 306.2,1453.6 306.6,1434.4 306.9,1448.8 307.3,1410.4 307.6,1436.8 308.0,1458.4 308.3,1453.6 308.6,1446.4 309.0,1444.0 309.3,1427.2 309.7,1427.2 310.0,1446.4 310.4,1465.6 310.7,1417.6 311.1,1451.2 311.4,1451.2 311.8,1456.0 312.1,1434.4 312.4,1436.8 312.8,1444.0 313.1,1432.0 313.5,1429.5 313.8,1431.9 314.2,1443.9 314.5,1448.7 314.9,1443.9 315.2,1443.9 315.6,1436.7 315.9,1434.3 316.2,1458.3 316.6,1443.9 316.9,1443.9 317.3,1455.9 317.6,1458.3 318.0,1460.7 318.3,1448.7 318.7,1443.9 319.0,1446.3 319.4,1446.3 319.7,1460.7 320.0,1446.3 320.4,1451.1 320.7,1443.9 321.1,1460.7 321.4,1419.9 321.8,1448.7 322.1,1453.5 322.5,1429.5 322.8,1470.3 323.2,1441.5 323.5,1441.4 323.8,1429.4 324.2,1453.4 324.5,1446.2 324.9,1436.6 325.2,1446.2 325.6,1453.4 325.9,1458.2 326.3,1446.2 326.6,1431.8 327.0,1436.6 327.3,1415.0 327.6,1434.2 328.0,1453.4 328.3,1448.6 328.7,1441.4 329.0,1439.0 329.4,1463.0 329.7,1446.2 330.1,1455.8 330.4,1448.6 330.8,1436.6 331.1,1462.9 331.4,1429.3 331.8,1429.3 332.1,1438.9 332.5,1434.1 332.8,1436.5 333.2,1436.5 333.5,1455.7 333.9,1443.7 334.2,1448.5 334.6,1424.5 334.9,1434.1 335.2,1458.1 335.6,1429.3 335.9,1458.1 336.3,1431.7 336.6,1448.5 337.0,1434.1 337.3,1446.0 337.7,1431.6 338.0,1441.2 338.4,1465.2 338.7,1438.8 339.0,1467.6 339.4,1438.8 339.7,1429.2 340.1,1443.6 340.4,1438.8 340.8,1465.2 341.1,1453.2 341.5,1458.0 341.8,1450.8 342.2,1474.8 342.5,1453.2 342.8,1450.8 343.2,1433.9 343.5,1431.5 343.9,1445.9 344.2,1455.5 344.6,1457.9 344.9,1431.5 345.3,1450.7 345.6,1445.9 346.0,1429.1 346.3,1450.7 346.6,1414.7 347.0,1445.9 347.3,1474.7 347.7,1431.5 348.0,1443.5 348.4,1419.4 348.7,1433.8 349.1,1453.0 349.4,1431.4 349.8,1443.4 350.1,1438.6 350.4,1438.6 350.8,1445.8 351.1,1448.2 351.5,1457.8 351.8,1453.0 352.2,1436.2 352.5,1460.2 352.9,1457.8 353.2,1424.2 353.6,1450.5 353.9,1452.9 354.2,1455.3 354.6,1450.5 354.9,1426.5 355.3,1440.9 355.6,1416.9 356.0,1440.9 356.3,1467.3 356.7,1450.5 357.0,1452.9 357.4,1436.1 357.7,1431.3 358.0,1431.3 358.4,1445.6 358.7,1433.6 359.1,1436.0 359.4,1457.6 359.8,1424.0 360.1,1426.4 360.5,1436.0 360.8,1440.8 361.2,1440.8 361.5,1426.4 361.8,1445.6 362.2,1440.8 362.5,1448.0 362.9,1431.2 363.2,1445.5 363.6,1445.5 363.9,1435.9 364.3,1440.7 364.6,1435.9 365.0,1459.9 365.3,1404.7 365.7,1426.3 366.0,1421.5 366.3,1438.3 366.7,1435.9 367.0,1438.3 367.4,1452.7 367.7,1423.8 368.1,1433.4 368.4,1440.6 368.8,1428.6 369.1,1447.8 369.5,1447.8 369.8,1433.4 370.1,1421.4 370.5,1462.2 370.8,1447.8 371.2,1447.8 371.5,1443.0 371.9,1443.0 372.2,1452.6 372.6,1442.9 372.9,1435.7 373.3,1452.5 373.6,1442.9 373.9,1433.3 374.3,1430.9 374.6,1457.3 375.0,1450.1 375.3,1466.9 375.7,1435.7 376.0,1433.3 376.4,1447.7 376.7,1459.7 377.1,1450.0 377.4,1447.6 377.7,1464.4 378.1,1433.2 378.4,1428.4 378.8,1433.2 379.1,1438.0 379.5,1447.6 379.8,1454.8 380.2,1447.6 380.5,1462.0 380.9,1433.2 381.2,1466.8 381.5,1433.2 381.9,1457.1 382.2,1430.7 382.6,1447.5 382.9,1442.7 383.3,1449.9 383.6,1452.3 384.0,1440.3 384.3,1442.7 384.7,1445.1 385.0,1425.9 385.3,1433.1 385.7,1423.5 386.0,1442.7 386.4,1469.1 386.7,1452.2 387.1,1433.0 387.4,1433.0 387.8,1454.6 388.1,1437.8 388.5,1423.4 388.8,1430.6 389.1,1430.6 389.5,1430.6 389.8,1449.8 390.2,1442.6 390.5,1425.8 390.9,1435.4 391.2,1428.2 391.6,1428.2 391.9,1423.3 392.3,1464.1 392.6,1437.7 392.9,1449.7 393.3,1452.1 393.6,1437.7 394.0,1449.7 394.3,1449.7 394.7,1444.9 395.0,1468.9 395.4,1444.9 395.7,1440.1 396.1,1449.7 396.4,1464.1 396.7,1454.5 397.1,1437.6 397.4,1432.8 397.8,1430.4 398.1,1435.2 398.5,1447.2 398.8,1452.0 399.2,1416.0 399.5,1442.4 399.9,1428.0 400.2,1449.6 400.5,1454.4 400.9,1432.8 401.2,1437.6 401.6,1430.4 401.9,1447.2 402.3,1423.2 402.6,1428.0 403.0,1435.1 403.3,1456.7 403.7,1471.1 404.0,1442.3 404.3,1427.9 404.7,1442.3 405.0,1432.7 405.4,1447.1 405.7,1427.9 406.1,1437.5 406.4,1442.3 406.8,1449.5 407.1,1442.3 407.5,1456.7 407.8,1444.7 408.1,1420.7 408.5,1454.3 408.8,1439.9 409.2,1435.0 409.5,1461.4 409.9,1430.2 410.2,1442.2 410.6,1432.6 410.9,1459.0 411.3,1437.4 411.6,1444.6 411.9,1425.4 412.3,1459.0 412.6,1430.2 413.0,1454.2 413.3,1456.6 413.7,1456.6 414.0,1463.8 414.4,1427.8 414.7,1447.0 415.1,1444.6 415.4,1447.0 415.7,1456.6 416.1,1444.6 416.4,1432.6 416.8,1442.1 417.1,1461.3 417.5,1427.7 417.8,1442.1 418.2,1430.1 418.5,1456.5 418.9,1422.9 419.2,1437.3 419.5,1439.7 419.9,1444.5 420.2,1470.9 420.6,1461.3 420.9,1430.1 421.3,1468.5 421.6,1427.7 422.0,1420.5 422.3,1422.9 422.7,1444.5 423.0,1449.3 423.3,1415.7 423.7,1446.9 424.0,1439.7 424.4,1451.7 424.7,1437.3 425.1,1454.1 425.4,1449.3 425.8,1427.7 426.1,1458.9 426.5,1444.5 426.8,1451.6 427.1,1456.4 427.5,1430.0 427.8,1442.0 428.2,1432.4 428.5,1430.0 428.9,1444.4 429.2,1446.8 429.6,1458.8 429.9,1458.8 430.3,1442.0 430.6,1432.4 430.9,1480.4 431.3,1468.4 431.6,1439.6 432.0,1430.0 432.3,1437.2 432.7,1444.4 433.0,1456.4 433.4,1454.0 433.7,1446.8 434.1,1439.6 434.4,1444.4 434.8,1437.2 435.1,1442.0 435.4,1439.6 435.8,1449.2 436.1,1420.4 436.5,1437.2 436.8,1439.6 437.2,1427.6 437.5,1439.6 437.9,1430.0 438.2,1434.8 438.6,1439.6 438.9,1439.6 439.2,1434.8 439.6,1456.4 439.9,1444.4 440.3,1446.8 440.6,1444.4 441.0,1434.8 441.3,1432.4 441.7,1451.7 442.0,1437.3 442.4,1420.5 442.7,1415.8 443.0,1444.6 443.4,1432.7 443.7,1442.3 444.1,1435.2 444.4,1437.6 444.8,1440.1 445.1,1428.2 445.5,1442.6 445.8,1454.7 446.2,1450.0 446.5,1421.3 446.8,1426.2 447.2,1426.3 447.5,1440.8 447.9,1452.9 448.2,1448.2 448.6,1421.9 448.9,1443.6 449.3,1453.3 449.6,1439.1 450.0,1465.6 450.3,1436.9 450.6,1458.6 451.0,1473.2 451.3,1430.1 451.7,1439.9 452.0,1452.0 452.4,1481.0 452.7,1423.5 453.1,1452.5 453.4,1447.8 453.8,1440.8 454.1,1436.2 454.4,1438.7 454.8,1443.7 455.1,1431.9 455.5,1465.6 455.8,1434.6 456.2,1442.0 456.5,1439.8 456.9,1442.4 457.2,1447.4 457.6,1437.9 457.9,1445.3 458.2,1467.1 458.6,1460.1 458.9,1445.9 459.3,1458.1 459.6,1439.1 460.0,1451.3 460.3,1432.3 460.7,1434.9 461.0,1439.9 461.4,1464.1 461.7,1452.4 462.0,1457.4 462.4,1452.8 462.7,1455.4 463.1,1455.6 463.4,1460.6 463.8,1453.6 464.1,1439.4 464.5,1442.1 464.8,1466.3 465.2,1468.9 465.5,1459.6 465.8,1433.5 466.2,1472.2 466.5,1458.2 466.9,1453.8 467.2,1454.2 467.6,1449.9 467.9,1476.7 468.3,1477.2 468.6,1444.2 469.0,1454.3 469.3,1462.0 469.6,1474.6 470.0,1429.5 470.3,1470.9 470.7,1481.0 471.0,1455.2 471.4,1460.5 471.7,1475.5 472.1,1466.4 472.4,1445.3 472.8,1448.2 473.1,1451.1 473.4,1446.7 473.8,1463.9 474.1,1457.1 474.5,1464.7 474.8,1474.6 475.2,1486.9 475.5,1467.9 475.9,1441.7 476.2,1482.7 476.6,1463.6 476.9,1480.4 477.2,1461.2 477.6,1470.6 477.9,1463.2 478.3,1465.2 478.6,1481.6 479.0,1454.6 479.3,1465.9 479.7,1465.2 480.0,1457.1 480.4,1432.1 480.7,1464.7 481.0,1422.7 481.4,1438.3 481.7,1449.0 482.1,1459.6 482.4,1465.3 482.8,1461.3 483.1,1457.3 483.5,1443.6 483.8,1463.4 484.2,1440.0 484.5,1457.3 484.8,1412.1 485.2,1426.7 485.5,1428.6 485.9,1432.1 486.2,1396.4 486.6,1432.1 486.9,1428.8 487.3,1420.2 487.6,1396.6 488.0,1415.3 488.3,1376.9 488.6,1382.0 489.0,1356.9 489.3,1347.9 489.7,1341.0 490.0,1339.5 490.4,1351.3 490.7,1355.2 491.1,1356.4 491.4,1352.0 491.8,1351.1 492.1,1353.5 492.4,1380.0 492.8,1367.1 493.1,1378.7 493.5,1397.3 493.8,1383.0 494.2,1408.6 494.5,1416.9 494.9,1407.9 495.2,1420.0 495.6,1441.1 495.9,1432.7 496.2,1438.2 496.6,1452.6 496.9,1435.7 497.3,1430.6 497.6,1447.1 498.0,1453.9 498.3,1427.0 498.7,1460.0 499.0,1449.7 499.4,1451.2 499.7,1445.4 500.0,1456.2 500.4,1471.7 500.7,1467.7 501.1,1470.8 501.4,1456.9 501.8,1481.2 502.1,1478.8 502.5,1462.0 502.8,1428.3 503.2,1461.8 503.5,1495.3 503.9,1461.6 504.2,1449.4 504.5,1482.8 504.9,1453.8 505.2,1465.5 505.6,1470.1 505.9,1441.0 506.3,1462.3 506.6,1474.1 507.0,1454.6 507.3,1466.2 507.7,1458.7 508.0,1470.4 508.3,1479.7 508.7,1443.4 509.0,1455.0 509.4,1461.9 509.7,1449.6 510.1,1446.9 510.4,1451.4 510.8,1453.5 511.1,1448.4 511.5,1460.2 511.8,1464.7 512.1,1464.5 512.5,1461.9 512.8,1468.8 513.2,1437.4 513.5,1451.5 513.9,1456.1 514.2,1460.6 514.6,1434.0 514.9,1474.5 515.3,1443.0 515.6,1454.7 515.9,1461.7 516.3,1463.8 516.6,1444.3 517.0,1444.0 517.3,1455.7 517.7,1457.9 518.0,1460.0 518.4,1450.1 518.7,1442.6 519.1,1432.7 519.4,1470.9 519.7,1432.2 520.1,1455.9 520.4,1450.9 520.8,1457.8 521.1,1459.9 521.5,1464.5 521.8,1447.4 522.2,1452.0 522.5,1422.9 522.9,1446.7 523.2,1436.9 523.5,1443.9 523.9,1460.4 524.2,1448.2 524.6,1457.6 524.9,1443.1 525.3,1450.1 525.6,1440.3 526.0,1416.2 526.3,1437.6 526.7,1442.3 527.0,1446.9 527.3,1444.4 527.7,1441.9 528.0,1456.2 528.4,1451.4 528.7,1439.3 529.1,1453.7 529.4,1420.0 529.8,1441.6 530.1,1441.6 530.5,1458.4 530.8,1436.8 531.1,1427.2 531.5,1446.4 531.8,1463.2 532.2,1441.6 532.5,1444.0 532.9,1441.6 533.2,1444.0 533.6,1458.4 533.9,1468.0 534.3,1448.8 534.6,1444.0 534.9,1465.6 535.3,1446.4 535.6,1444.0 536.0,1439.2 536.3,1441.6 536.7,1446.4 537.0,1441.6 537.4,1448.8 537.7,1446.4 538.1,1451.2 538.4,1439.2 538.7,1441.6 539.1,1446.4 539.4,1444.0 539.8,1446.4 540.1,1458.4 540.5,1432.0 540.8,1422.4 541.2,1453.6 541.5,1441.6 541.9,1460.8 542.2,1444.0 542.5,1429.6 542.9,1470.4 543.2,1448.8 543.6,1439.2 543.9,1434.4 544.3,1451.2 544.6,1436.8 545.0,1448.8 545.3,1458.4 545.7,1427.2 546.0,1439.2 546.3,1448.8 546.7,1463.2 547.0,1456.0 547.4,1439.2 547.7,1460.8 548.1,1439.2 548.4,1441.6 548.8,1448.8 549.1,1432.0 549.5,1480.0 549.8,1458.4 550.1,1446.4 550.5,1436.8 550.8,1432.0 551.2,1448.8 551.5,1451.2 551.9,1439.2 552.2,1441.6 552.6,1451.2 552.9,1444.0 553.3,1422.4 553.6,1451.2 553.9,1446.4 554.3,1453.6 554.6,1434.4 555.0,1420.0 555.3,1429.6 555.7,1446.4 556.0,1468.0 556.4,1470.4 556.7,1446.4 557.1,1427.2 557.4,1439.2 557.7,1448.8 558.1,1448.8 558.4,1444.0 558.8,1458.4 559.1,1434.4 559.5,1420.0 559.8,1434.4 560.2,1432.0 560.5,1470.4 560.9,1441.6 561.2,1427.2 561.5,1451.2 561.9,1456.0 562.2,1444.0 562.6,1446.4 562.9,1456.0 563.3,1448.8 563.6,1436.8 564.0,1451.2 564.3,1453.6 564.7,1448.8 565.0,1453.6 565.3,1451.2 565.7,1441.6 566.0,1441.6 566.4,1451.2 566.7,1436.8 567.1,1456.0 567.4,1458.4 567.8,1420.0 568.1,1444.0 568.5,1434.4 568.8,1436.8 569.1,1446.4 569.5,1441.6 569.8,1451.2 570.2,1448.8 570.5,1448.8 570.9,1434.4 571.2,1439.2 571.6,1460.8 571.9,1415.2 572.3,1463.2 572.6,1436.8 573.0,1456.0 573.3,1415.2 573.6,1439.2 574.0,1453.6 574.3,1446.4 574.7,1456.0 575.0,1434.4 575.4,1436.8 575.7,1436.8 576.1,1448.8 576.4,1448.8 576.8,1441.6 577.1,1441.6 577.4,1441.6 577.8,1444.0 578.1,1434.4 578.5,1444.0 578.8,1441.6 579.2,1439.2 579.5,1436.8 579.9,1460.8 580.2,1436.8 580.6,1448.8 580.9,1458.4 581.2,1451.2 581.6,1444.0 581.9,1456.0 582.3,1427.2 582.6,1429.6 583.0,1439.2 583.3,1441.6 583.7,1444.0 584.0,1465.6 584.4,1463.2 584.7,1444.0 585.0,1446.4 585.4,1434.4 585.7,1446.4 586.1,1429.6 586.4,1458.4 586.8,1439.2 587.1,1451.2 587.5,1429.6 587.8,1458.4 588.2,1451.2 588.5,1465.6 588.8,1444.0 589.2,1427.2 589.5,1434.4 589.9,1429.6 590.2,1460.8 590.6,1436.8 590.9,1436.8 591.3,1451.2 591.6,1446.4 592.0,1448.8 592.3,1439.2 592.6,1422.4 593.0,1429.6 593.3,1420.0 593.7,1458.4 594.0,1453.6 594.4,1439.2 594.7,1451.2 595.1,1451.2 595.4,1451.2 595.8,1448.8 596.1,1453.6 596.4,1444.0 596.8,1420.0 597.1,1415.2 597.5,1458.4 597.8,1451.2 598.2,1417.6 598.5,1446.4 598.9,1434.4 599.2,1439.2 599.6,1415.2 599.9,1451.2 600.2,1444.0 600.6,1453.6 600.9,1456.0 601.3,1458.4 601.6,1460.8 602.0,1446.4 602.3,1446.4 602.7,1436.8 603.0,1448.8 603.4,1441.6 603.7,1432.0 604.0,1456.0 604.4,1451.2 604.7,1415.2 605.1,1424.8 605.4,1441.6 605.8,1429.6 606.1,1458.4 606.5,1446.4 606.8,1451.2 607.2,1453.6 607.5,1458.4 607.8,1441.6 608.2,1451.2 608.5,1446.3 608.9,1453.5 609.2,1451.1 609.6,1458.3 609.9,1448.7 610.3,1439.1 610.6,1446.3 611.0,1431.9 611.3,1446.3 611.6,1460.7 612.0,1436.7 612.3,1427.1 612.7,1443.9 613.0,1439.1 613.4,1443.9 613.7,1436.7 614.1,1443.9 614.4,1434.3 614.8,1460.7 615.1,1441.4 615.4,1448.6 615.8,1451.0 616.1,1441.4 616.5,1448.6 616.8,1441.4 617.2,1439.0 617.5,1441.4 617.9,1448.6 618.2,1429.4 618.6,1434.2 618.9,1436.6 619.2,1439.0 619.6,1455.8 619.9,1443.7 620.3,1441.3 620.6,1446.1 621.0,1455.7 621.3,1436.5 621.7,1455.7 622.0,1419.7 622.4,1434.1 622.7,1460.5 623.0,1460.5 623.4,1446.1 623.7,1438.9 624.1,1453.2 624.4,1438.8 624.8,1460.4 625.1,1455.6 625.5,1453.2 625.8,1434.0 626.2,1453.2 626.5,1441.2 626.8,1441.2 627.2,1438.8 627.5,1443.6 627.9,1448.3 628.2,1453.1 628.6,1453.1 628.9,1477.1 629.3,1441.1 629.6,1455.5 630.0,1436.3 630.3,1441.1 630.6,1431.5 631.0,1457.9 631.3,1445.8 631.7,1445.8 632.0,1443.4 632.4,1453.0 632.7,1438.6 633.1,1448.2 633.4,1469.8 633.8,1443.4 634.1,1438.6 634.4,1433.7 634.8,1452.9 635.1,1445.7 635.5,1436.1 635.8,1436.1 636.2,1443.3 636.5,1433.7 636.9,1467.3 637.2,1443.3 637.6,1443.2 637.9,1443.2 638.2,1424.0 638.6,1428.8 638.9,1440.8 639.3,1443.2 639.6,1431.2 640.0,1462.4 640.3,1448.0 640.7,1457.5 641.0,1455.1 641.4,1440.7 641.7,1469.5 642.1,1445.5 642.4,1423.9 642.7,1419.1 643.1,1443.1 643.4,1452.7 643.8,1445.4 644.1,1462.2 644.5,1440.6 644.8,1450.2 645.2,1452.6 645.5,1433.4 645.9,1447.8 646.2,1447.8 646.5,1454.9 646.9,1457.3 647.2,1454.9 647.6,1435.7 647.9,1452.5 648.3,1454.9 648.6,1445.3 649.0,1452.5 649.3,1452.5 649.7,1454.8 650.0,1445.2 650.3,1447.6 650.7,1445.2 651.0,1445.2 651.4,1438.0 651.7,1440.4 652.1,1430.8 652.4,1440.4 652.8,1449.9 653.1,1449.9 653.5,1452.3 653.8,1442.7 654.1,1457.1 654.5,1437.9 654.8,1452.3 655.2,1447.5 655.5,1435.5 655.9,1435.4 656.2,1452.2 656.6,1442.6 656.9,1445.0 657.3,1473.8 657.6,1449.8 657.9,1445.0 658.3,1449.8 658.6,1437.8 659.0,1442.5 659.3,1447.3 659.7,1435.3 660.0,1442.5 660.4,1442.5 660.7,1444.9 661.1,1425.7 661.4,1461.7 661.7,1442.5 662.1,1449.7 662.4,1432.8 662.8,1430.4 663.1,1442.4 663.5,1440.0 663.8,1449.6 664.2,1432.8 664.5,1432.8 664.9,1447.2 665.2,1449.6 665.5,1452.0 665.9,1442.4 666.2,1444.7 666.6,1435.1 666.9,1456.7 667.3,1454.3 667.6,1454.3 668.0,1425.5 668.3,1451.9 668.7,1435.1 669.0,1447.1 669.3,1447.1 669.7,1456.7 670.0,1439.9 670.4,1439.8 670.7,1432.6 671.1,1430.2 671.4,1449.4 671.8,1432.6 672.1,1449.4 672.5,1439.8 672.8,1437.4 673.1,1451.8 673.5,1451.8 673.8,1432.6 674.2,1442.2 674.5,1442.2 674.9,1449.4 675.2,1434.9 675.6,1437.3 675.9,1442.1 676.3,1449.3 676.6,1451.7 676.9,1437.3 677.3,1461.3 677.6,1446.9 678.0,1434.9 678.3,1427.7 678.7,1437.3 679.0,1418.1 679.4,1444.5 679.7,1449.3 680.1,1456.5 680.4,1446.9 680.7,1425.3 681.1,1439.7 681.4,1449.3 681.8,1420.4 682.1,1434.8 682.5,1449.2 682.8,1442.0 683.2,1422.8 683.5,1437.2 683.9,1442.0 684.2,1463.6 684.5,1437.2 684.9,1432.4 685.2,1444.4 685.6,1446.8 685.9,1449.2 686.3,1456.4 686.6,1442.0 687.0,1427.6 687.3,1442.0 687.7,1442.0 688.0,1451.6 688.3,1451.6 688.7,1434.8 689.0,1449.2 689.4,1451.6 689.7,1439.6 690.1,1451.6 690.4,1444.4 690.8,1444.4 691.1,1442.0 691.5,1451.6 691.8,1470.8 692.1,1444.4 692.5,1430.0 692.8,1439.6 693.2,1437.2 693.5,1446.8 693.9,1442.0 694.2,1468.4 694.6,1449.2 694.9,1461.2 695.3,1434.8 695.6,1439.7 695.9,1463.7 696.3,1425.3 696.6,1444.5 697.0,1427.7 697.3,1458.9 697.7,1427.7 698.0,1439.7 698.4,1439.7 698.7,1425.3 699.1,1468.5 699.4,1442.1 699.7,1458.9 700.1,1435.0 700.4,1427.8 700.8,1444.6 701.1,1444.6 701.5,1473.4 701.8,1432.6 702.2,1427.8 702.5,1435.0 702.9,1444.6 703.2,1449.5 703.5,1435.1 703.9,1439.9 704.2,1447.1 704.6,1454.3 704.9,1437.5 705.3,1444.7 705.6,1416.0 706.0,1432.8 706.3,1447.2 706.7,1442.4 707.0,1440.0 707.3,1459.2 707.7,1440.0 708.0,1432.9 708.4,1444.9 708.7,1444.9 709.1,1430.5 709.4,1452.1 709.8,1459.3 710.1,1437.8 710.5,1433.0 710.8,1442.6 711.2,1454.6 711.5,1437.8 711.8,1435.4 712.2,1437.9 712.5,1445.1 712.9,1445.1 713.2,1440.3 713.6,1454.7 713.9,1466.7 714.3,1438.0 714.6,1454.8 715.0,1445.2 715.3,1474.0 715.6,1433.2 716.0,1440.4 716.3,1445.3 716.7,1428.5 717.0,1440.5 717.4,1450.1 717.7,1428.5 718.1,1445.4 718.4,1462.2 718.8,1438.2 719.1,1433.4 719.4,1419.0 719.8,1443.0 720.1,1426.3 720.5,1450.3 720.8,1459.9 721.2,1450.3 721.5,1435.9 721.9,1450.4 722.2,1438.4 722.6,1431.2 722.9,1438.4 723.2,1445.6 723.6,1440.9 723.9,1448.1 724.3,1464.9 724.6,1450.5 725.0,1450.5 725.3,1436.1 725.7,1457.8 726.0,1448.2 726.4,1453.0 726.7,1436.2 727.0,1445.8 727.4,1419.5 727.7,1441.1 728.1,1436.3 728.4,1433.9 728.8,1460.3 729.1,1429.1 729.5,1441.2 729.8,1443.6 730.2,1448.4 730.5,1453.2 730.8,1426.8 731.2,1438.8 731.5,1436.5 731.9,1450.9 732.2,1453.3 732.6,1438.9 732.9,1438.9 733.3,1434.1 733.6,1448.6 734.0,1460.6 734.3,1448.6 734.6,1436.6 735.0,1436.6 735.3,1436.6 735.7,1427.0 736.0,1460.7 736.4,1443.9 736.7,1441.5 737.1,1465.5 737.4,1446.3 737.8,1458.3 738.1,1446.3 738.4,1455.9 738.8,1444.0 739.1,1441.6 739.5,1448.8 739.8,1451.2 740.2,1456.0 740.5,1446.4 740.9,1441.6 741.2,1439.2 741.6,1446.5 741.9,1439.3 742.2,1441.7 742.6,1448.9 742.9,1451.3 743.3,1448.9 743.6,1436.9 744.0,1429.7 744.3,1446.5 744.7,1446.6 745.0,1439.4 745.4,1446.6 745.7,1453.8 746.0,1441.8 746.4,1449.0 746.7,1434.6 747.1,1441.8 747.4,1437.1 747.8,1429.9 748.1,1449.1 748.5,1415.5 748.8,1444.3 749.2,1451.5 749.5,1449.1 749.8,1429.9 750.2,1446.8 750.5,1425.2 750.9,1434.8 751.2,1458.8 751.6,1446.8 751.9,1456.4 752.3,1432.4 752.6,1422.8 753.0,1437.3 753.3,1456.5 753.6,1454.1 754.0,1454.1 754.3,1442.1 754.7,1444.5 755.0,1442.1 755.4,1473.3 755.7,1444.6 756.1,1461.4 756.4,1442.2 756.8,1459.0 757.1,1435.0 757.4,1439.8 757.8,1449.4 758.1,1439.8 758.5,1439.9 758.8,1442.3 759.2,1439.9 759.5,1461.5 759.9,1456.7 760.2,1430.3 760.6,1461.5 760.9,1444.7 761.2,1444.8 761.6,1442.4 761.9,1454.4 762.3,1452.0 762.6,1440.0 763.0,1444.8 763.3,1432.8 763.7,1464.0 764.0,1437.7 764.4,1435.3 764.7,1437.7 765.0,1447.3 765.4,1452.1 765.7,1442.5 766.1,1444.9 766.4,1442.6 766.8,1459.4 767.1,1447.4 767.5,1428.2 767.8,1459.4 768.2,1449.8 768.5,1464.2 768.8,1440.2 769.2,1440.2 769.5,1442.7 769.9,1430.7 770.2,1442.7 770.6,1457.1 770.9,1452.3 771.3,1421.1 771.6,1459.5 772.0,1449.9 772.3,1454.8 772.6,1445.2 773.0,1447.6 773.3,1445.2 773.7,1445.2 774.0,1435.6 774.4,1457.2 774.7,1447.6 775.1,1450.1 775.4,1450.1 775.8,1442.9 776.1,1445.3 776.4,1433.3 776.8,1447.7 777.1,1447.7 777.5,1442.9 777.8,1428.5 778.2,1459.8 778.5,1443.0 778.9,1445.4 779.2,1443.0 779.6,1440.6 779.9,1440.6 780.3,1433.4 780.6,1440.6 780.9,1467.0 781.3,1457.5 781.6,1467.1 782.0,1440.7 782.3,1426.3 782.7,1431.1 783.0,1419.1 783.4,1457.5 783.7,1457.5 784.1,1447.9 784.4,1450.3 784.7,1450.4 785.1,1445.6 785.4,1452.8 785.8,1436.0 786.1,1440.8 786.5,1445.6 786.8,1428.8 787.2,1436.0 787.5,1450.4 787.9,1450.4 788.2,1421.6 788.5,1455.3 788.9,1450.5 789.2,1452.9 789.6,1445.7 789.9,1452.9 790.3,1433.7 790.6,1443.3 791.0,1436.1 791.3,1440.9 791.7,1457.7 792.0,1462.5 792.3,1445.7 792.7,1441.0 793.0,1453.0 793.4,1450.6 793.7,1465.0 794.1,1453.0 794.4,1421.8 794.8,1445.8 795.1,1443.4 795.5,1438.6 795.8,1448.2 796.1,1445.8 796.5,1443.4 796.8,1460.2 797.2,1450.6 797.5,1450.7 797.9,1448.3 798.2,1457.9 798.6,1433.9 798.9,1457.9 799.3,1443.5 799.6,1460.3 799.9,1460.3 800.3,1450.7 800.6,1441.1 801.0,1448.3 801.3,1450.7 801.7,1431.5 802.0,1443.5 802.4,1438.7 802.7,1460.3 803.1,1462.7 803.4,1438.7 803.7,1441.1 804.1,1433.9 804.4,1448.4 804.8,1455.6 805.1,1465.2 805.5,1434.0 805.8,1455.6 806.2,1446.0 806.5,1438.8 806.9,1443.6 807.2,1438.8 807.5,1450.8 807.9,1446.0 808.2,1458.0 808.6,1441.2 808.9,1426.8 809.3,1436.4 809.6,1450.8 810.0,1431.6 810.3,1438.8 810.7,1450.8 811.0,1431.6 811.3,1455.6 811.7,1450.8 812.0,1441.2 812.4,1446.0 812.7,1441.2 813.1,1441.2 813.4,1443.6 813.8,1446.0 814.1,1446.0 814.5,1438.8 814.8,1436.4 815.1,1467.6 815.5,1434.0 815.8,1443.6 816.2,1457.9 816.5,1455.5 816.9,1438.7 817.2,1467.5 817.6,1465.1 817.9,1443.5 818.3,1433.8 818.6,1453.0 818.9,1443.4 819.3,1443.4 819.6,1438.5 820.0,1440.9 820.3,1448.1 820.7,1455.3 821.0,1424.0 821.4,1421.6 821.7,1455.2 822.1,1438.3 822.4,1452.7 822.7,1447.9 823.1,1457.4 823.4,1455.0 823.8,1442.9 824.1,1442.9 824.5,1447.7 824.8,1452.4 825.2,1438.0 825.5,1430.7 825.9,1447.5 826.2,1445.0 826.5,1442.6 826.9,1435.3 827.2,1452.1 827.6,1428.0 827.9,1440.0 828.3,1459.1 828.6,1432.7 829.0,1449.4 829.3,1449.4 829.7,1449.3 830.0,1427.6 830.3,1454.0 830.7,1446.7 831.0,1449.1 831.4,1446.6 831.7,1444.1 832.1,1456.1 832.4,1458.4 832.8,1424.8 833.1,1436.7 833.5,1441.4 833.8,1422.2 834.1,1458.1 834.5,1436.4 834.8,1450.8 835.2,1445.9 835.5,1441.0 835.9,1433.7 836.2,1440.9 836.6,1445.6 836.9,1450.3 837.3,1440.7 837.6,1438.2 837.9,1440.5 838.3,1457.2 838.6,1445.1 839.0,1435.5 839.3,1430.6 839.7,1437.7 840.0,1432.8 840.4,1437.6 840.7,1456.7 841.1,1449.4 841.4,1444.5 841.7,1446.8 842.1,1458.8 842.4,1429.9 842.8,1446.6 843.1,1439.3 843.5,1444.0 843.8,1441.5 844.2,1439.1 844.5,1446.2 844.9,1419.7 845.2,1443.6 845.5,1448.3 845.9,1431.4 846.2,1431.4 846.6,1460.1 846.9,1431.2 847.3,1438.3 847.6,1433.4 848.0,1435.7 848.3,1433.2 848.7,1418.7 849.0,1464.3 849.4,1433.0 849.7,1444.9 850.0,1440.0 850.4,1454.3 850.7,1447.0 851.1,1451.7 851.4,1451.5 851.8,1449.0 852.1,1439.2 852.5,1448.7 852.8,1422.1 853.2,1448.3 853.5,1445.8 853.8,1440.8 854.2,1426.2 854.5,1452.4 854.9,1430.6 855.2,1444.8 855.6,1418.1 855.9,1434.7 856.3,1429.7 856.6,1429.5 857.0,1429.3 857.3,1455.4 857.6,1436.0 858.0,1440.6 858.3,1457.2 858.7,1420.9 859.0,1451.9 859.4,1432.5 859.7,1427.5 860.1,1429.7 860.4,1415.1 860.8,1419.7 861.1,1421.9 861.4,1428.9 861.8,1440.7 862.1,1445.3 862.5,1430.8 862.8,1437.8 863.2,1437.7 863.5,1430.3 863.9,1435.0 864.2,1427.7 864.6,1437.2 864.9,1429.9 865.2,1432.2 865.6,1434.5 865.9,1434.5 866.3,1424.8 866.6,1417.6 867.0,1432.0 867.3,1427.2 867.7,1427.2 868.0,1432.1 868.4,1425.0 868.7,1437.1 869.0,1437.2 869.4,1423.0 869.7,1437.5 870.1,1423.3 870.4,1440.3 870.8,1440.5 871.1,1433.6 871.5,1443.4 871.8,1446.1 872.2,1439.2 872.5,1415.5 872.8,1437.4 873.2,1437.7 873.5,1445.2 873.9,1426.4 874.2,1443.5 874.6,1441.5 874.9,1441.8 875.3,1425.4 875.6,1428.2 876.0,1450.2 876.3,1448.2 876.6,1438.9 877.0,1451.3 877.3,1442.1 877.7,1435.3 878.0,1423.7 878.4,1452.9 878.7,1438.9 879.1,1444.1 879.4,1422.9 879.8,1437.7 880.1,1445.3 880.4,1440.9 880.8,1436.4 881.1,1432.0 881.5,1446.8 881.8,1439.9 882.2,1440.3 882.5,1443.0 882.9,1438.5 883.2,1443.6 883.6,1439.1 883.9,1446.6 884.2,1432.5 884.6,1435.1 884.9,1447.4 885.3,1445.2 885.6,1450.2 886.0,1469.6 886.3,1455.4 886.7,1460.3 887.0,1453.3 887.4,1446.3 887.7,1439.2 888.0,1427.4 888.4,1432.4 888.7,1422.9 889.1,1437.5 889.4,1432.8 889.8,1440.2 890.1,1449.9 890.5,1445.3 890.8,1459.8 891.2,1460.0 891.5,1462.5 891.8,1460.2 892.2,1453.2 892.5,1446.1 892.9,1455.8 893.2,1448.8 893.6,1448.9 893.9,1456.2 894.3,1439.5 894.6,1432.5 895.0,1456.6 895.3,1471.1 895.6,1464.0 896.0,1488.2 896.3,1435.5 896.7,1445.2 897.0,1426.1 897.4,1443.0 897.7,1474.3 898.1,1472.0 898.4,1441.0 898.8,1448.3 899.1,1443.6 899.4,1438.9 899.8,1451.0 900.1,1448.7 900.5,1453.6 900.8,1456.1 901.2,1461.0 901.5,1470.7 901.9,1454.0 902.2,1451.7 902.6,1454.2 902.9,1459.2 903.2,1452.1 903.6,1442.6 903.9,1449.9 904.3,1464.4 904.6,1442.9 905.0,1464.6 905.3,1438.3 905.7,1462.4 906.0,1462.5 906.4,1453.0 906.7,1455.6 907.0,1453.3 907.4,1475.0 907.7,1451.1 908.1,1446.5 908.4,1461.0 908.8,1468.3 909.1,1461.2 909.5,1454.2 909.8,1468.7 910.2,1447.2 910.5,1447.3 910.8,1442.6 911.2,1471.5 911.5,1430.9 911.9,1443.0 912.2,1459.8 912.6,1462.3 912.9,1476.8 913.3,1462.5 913.6,1453.0 914.0,1474.6 914.3,1469.9 914.6,1472.3 915.0,1470.0 915.3,1462.8 915.7,1441.2 916.0,1446.0 916.4,1482.0 916.7,1457.9 917.1,1436.2 917.4,1457.7 917.8,1469.6 918.1,1462.2 918.5,1457.2 918.8,1430.6 919.1,1456.8 919.5,1454.1 919.8,1475.4 920.2,1455.9 920.5,1455.6 920.9,1450.4 921.2,1452.4 921.6,1456.9 921.9,1449.3 922.3,1444.0 922.6,1438.8 922.9,1455.2 923.3,1447.6 923.6,1447.1 924.0,1434.6 924.3,1441.4 924.7,1428.9 925.0,1462.0 925.4,1464.0 925.7,1453.9 926.1,1446.2 926.4,1452.9 926.7,1430.8 927.1,1432.8 927.4,1461.1 927.8,1434.2 928.1,1445.8 928.5,1438.1 928.8,1416.1 929.2,1437.3 929.5,1453.7 929.9,1458.1 930.2,1414.5 930.5,1423.7 930.9,1435.4 931.2,1454.2 931.6,1456.3 931.9,1460.8 932.3,1460.5 932.6,1436.3 933.0,1428.8 933.3,1450.2 933.7,1438.0 934.0,1440.3 934.3,1435.4 934.7,1435.3 935.0,1449.6 935.4,1427.9 935.7,1418.3 936.1,1432.6 936.4,1439.8 936.8,1434.9 937.1,1437.3 937.5,1415.6 937.8,1430.0 938.1,1451.5 938.5,1437.1 938.8,1432.3 939.2,1451.4 939.5,1432.2 939.9,1448.9 940.2,1441.7 940.6,1444.0 940.9,1451.2 941.3,1465.5 941.6,1453.5 941.9,1429.5 942.3,1424.6 942.6,1434.2 943.0,1436.6 943.3,1446.1 943.7,1438.9 944.0,1441.2 944.4,1417.2 944.7,1438.8 945.1,1443.5 945.4,1457.9 945.7,1448.3 946.1,1438.6 946.4,1424.2 946.8,1438.6 947.1,1438.6 947.5,1436.1 947.8,1440.9 948.2,1443.3 948.5,1443.2 948.9,1464.8 949.2,1426.4 949.5,1419.2 949.9,1443.1 950.2,1421.5 950.6,1435.9 950.9,1435.9 951.3,1428.7 951.6,1447.8 952.0,1445.4 952.3,1438.2 952.7,1445.4 953.0,1447.8 953.3,1433.4 953.7,1445.3 954.0,1438.1 954.4,1438.1 954.7,1430.9 955.1,1459.7 955.4,1440.5 955.8,1418.9 956.1,1442.9 956.5,1404.4 956.8,1440.4 957.1,1447.6 957.5,1454.8 957.8,1440.4 958.2,1428.4 958.5,1462.0 958.9,1450.0 959.2,1454.8 959.6,1433.2 959.9,1445.2 960.3,1414.0 960.6,1442.8 960.9,1409.2 961.3,1423.6 961.6,1418.8 962.0,1452.5 962.3,1450.1 962.7,1428.5 963.0,1452.5 963.4,1438.2 963.7,1411.8 964.1,1431.0 964.4,1414.3 964.7,1438.3 965.1,1443.1 965.4,1426.4 965.8,1448.0 966.1,1452.9 966.5,1426.5 966.8,1445.8 967.2,1436.2 967.5,1433.9 967.9,1460.4 968.2,1429.2 968.5,1434.1 968.9,1436.5 969.2,1446.2 969.6,1448.7 969.9,1424.7 970.3,1456.0 970.6,1463.2 971.0,1465.7 971.3,1441.8 971.7,1432.2 972.0,1422.7 972.3,1444.4 972.7,1437.2 973.0,1437.3 973.4,1430.2 973.7,1408.6 974.1,1435.1 974.4,1437.5 974.8,1432.8 975.1,1418.5 975.5,1435.3 975.8,1437.8 976.1,1423.4 976.5,1447.5 976.8,1438.0 977.2,1440.4 977.5,1445.3 977.9,1435.7 978.2,1438.2 978.6,1447.8 978.9,1450.3 979.3,1452.7 979.6,1438.3 979.9,1450.4 980.3,1457.6 980.6,1419.2 981.0,1433.7 981.3,1440.9 981.7,1440.9 982.0,1467.3 982.4,1457.8 982.7,1438.6 983.1,1438.6 983.4,1419.4 983.7,1426.6 984.1,1460.2 984.4,1414.6 984.8,1450.6 985.1,1429.0 985.5,1436.2 985.8,1438.6 986.2,1467.4 986.5,1445.8 986.9,1448.2 987.2,1455.4 987.6,1407.4 987.9,1469.8 988.2,1414.6 988.6,1429.0 988.9,1450.6 989.3,1421.8 989.6,1414.6 990.0,1457.8 990.3,1436.2 990.7,1455.4 991.0,1448.2 991.4,1438.6 991.7,1467.4 992.0,1436.2 992.4,1472.2 992.7,1426.6 993.1,1424.2 993.4,1429.0 993.8,1443.4 994.1,1421.8 994.5,1429.0 994.8,1462.6 995.2,1443.4 995.5,1460.2 995.8,1445.8 996.2,1431.4 996.5,1429.0 996.9,1443.4 997.2,1441.0 997.6,1433.8 997.9,1431.4 998.3,1465.0 998.6,1457.8 999.0,1445.8 999.3,1436.2 999.6,1433.8 1000.0,1474.6 1000.3,1431.4 1000.7,1479.3 1001.0,1431.3 1001.4,1416.8 1001.7,1474.3 1002.1,1438.1 1002.4,1466.8 1002.8,1447.4 1003.1,1435.2 1003.4,1456.5 1003.8,1434.7 1004.1,1446.4 1004.5,1436.6 1004.8,1409.9 1005.2,1445.6 1005.5,1428.5 1005.9,1435.4 1006.2,1444.6 1006.6,1413.1 1006.9,1446.4 1007.2,1446.0 1007.6,1469.7 1007.9,1450.2 1008.3,1440.2 1008.6,1423.1 1009.0,1434.7 1009.3,1410.4 1009.7,1441.2 1010.0,1431.3 1010.4,1426.2 1010.7,1433.1 1011.0,1440.0 1011.4,1437.3 1011.7,1410.6 1012.1,1455.9 1012.4,1431.7 1012.8,1436.2 1013.1,1431.1 1013.5,1414.0 1013.8,1435.3 1014.2,1422.9 1014.5,1415.4 1014.8,1431.9 1015.2,1441.1 1015.5,1438.4 1015.9,1430.8 1016.2,1416.1 1016.6,1420.5 1016.9,1425.0 1017.3,1400.6 1017.6,1441.0 1018.0,1426.3 1018.3,1401.9 1018.6,1452.0 1019.0,1461.2 1019.3,1400.9 1019.7,1419.8 1020.0,1407.4 1020.4,1438.3 1020.7,1397.2 1021.1,1432.9 1021.4,1430.2 1021.8,1441.9 1022.1,1386.5 1022.4,1407.8 1022.8,1417.2 1023.1,1438.5 1023.5,1421.5 1023.8,1435.7 1024.2,1428.4 1024.5,1404.2 1024.9,1418.5 1025.2,1413.6 1025.6,1413.5 1025.9,1401.4 1026.2,1434.9 1026.6,1425.3 1026.9,1382.1 1027.3,1434.9 1027.6,1408.6 1028.0,1392.0 1028.3,1442.5 1028.7,1421.1 1029.0,1428.6 1029.4,1419.3 1029.7,1419.6 1030.0,1386.3 1030.4,1437.1 1030.7,1408.7 1031.1,1423.5 1031.4,1421.6 1031.8,1405.3 1032.1,1398.6 1032.5,1420.8 1032.8,1450.1 1033.2,1412.3 1033.5,1415.3 1033.8,1428.0 1034.2,1416.6 1034.5,1455.7 1034.9,1439.5 1035.2,1481.0 1035.6,1436.1 1035.9,1477.6 1036.3,1420.7 1036.6,1438.2 1037.0,1412.6 1037.3,1425.3 1037.6,1428.4 1038.0,1448.3 1038.3,1465.9 1038.7,1433.0 1039.0,1407.3 1039.4,1439.2 1039.7,1435.1 1040.1,1431.0 1040.4,1458.1 1040.8,1466.0 1041.1,1428.3 1041.4,1428.9 1041.8,1388.8 1042.1,1432.6 1042.5,1462.1 1042.8,1426.8 1043.2,1465.8 1043.5,1461.7 1043.9,1462.4 1044.2,1463.1 1044.6,1447.0 1044.9,1471.8 1045.2,1474.9 1045.6,1458.9 1045.9,1452.4 1046.3,1482.0 1046.6,1487.5 1047.0,1442.7 1047.3,1474.7 1047.7,1458.6 1048.0,1509.8 1048.4,1450.6 1048.7,1446.6 1049.0,1440.2 1049.4,1481.8 1049.7,1439.4 1050.1,1476.1 1050.4,1452.9 1050.8,1494.5 1051.1,1500.1 1051.5,1491.3 1051.8,1422.6 1052.2,1435.4 1052.5,1407.4 1052.8,1528.2 1053.2,1457.1 1053.5,1462.7 1053.9,1473.2 1054.2,1486.0 1054.6,1465.3 1054.9,1475.7 1055.3,1474.2 1055.6,1446.2 1056.0,1519.1 1056.3,1517.6 1056.7,1480.0 1057.0,1476.1 1057.3,1525.0 1057.7,1537.8 1058.0,1483.5 1058.4,1496.3 1058.7,1475.6 1059.1,1493.3 1059.4,1424.5 1059.8,1432.6 1060.1,1498.2 1060.5,1484.7 1060.8,1499.9 1061.1,1491.1 1061.5,1506.4 1061.8,1497.6 1062.2,1488.9 1062.5,1504.1 1062.9,1478.6 1063.2,1529.9 1063.6,1473.1 1063.9,1488.4 1064.3,1520.5 1064.6,1490.2 1064.9,1522.3 1065.3,1537.6 1065.6,1521.8 1066.0,1491.5 1066.3,1550.1 1066.7,1517.4 1067.0,1482.4 1067.4,1555.5 1067.7,1513.5 1068.1,1524.5 1068.4,1533.1 1068.7,1500.9 1069.1,1536.1 1069.4,1484.8 1069.8,1493.5 1070.1,1509.4 1070.5,1575.7 1070.8,1536.3 1071.2,1552.1 1071.5,1514.9 1071.9,1540.0 1072.2,1473.7 1072.5,1520.1 1072.9,1539.9 1073.2,1513.9 1073.6,1480.4 1073.9,1486.8 1074.3,1542.1 1074.6,1555.3 1075.0,1507.5 1075.3,1552.5 1075.7,1474.8 1076.0,1514.5 1076.3,1501.6 1076.7,1515.5 1077.0,1448.5 1077.4,1504.2 1077.7,1478.4 1078.1,1450.2 1078.4,1455.7 1078.8,1458.7 1079.1,1466.6 1079.5,1433.7 1079.8,1429.6 1080.1,1449.6 1080.5,1440.8 1080.8,1451.3 1081.2,1457.0 1081.5,1386.0 1081.9,1425.4 1082.2,1428.8 1082.6,1419.9 1082.9,1389.2 1083.3,1427.9 1083.6,1447.4 1083.9,1397.3 1084.3,1376.1 1084.6,1410.3 1085.0,1389.6 1085.3,1386.0 1085.7,1387.6 1086.0,1368.2 1086.4,1375.7 1086.7,1357.5 1087.1,1328.0 1087.4,1399.7 1087.7,1380.2 1088.1,1370.3 1088.4,1406.1 1088.8,1369.8 1089.1,1398.5 1089.5,1391.1 1089.8,1364.5 1090.2,1342.8 1090.5,1383.5 1090.9,1376.1 1091.2,1395.2 1091.5,1335.1 1091.9,1368.5 1092.2,1375.6 1092.6,1377.8 1092.9,1372.9 1093.3,1377.5 1093.6,1314.9 1094.0,1362.6 1094.3,1355.1 1094.7,1333.2 1095.0,1371.2 1095.3,1358.9 1095.7,1341.7 1096.0,1336.4 1096.4,1374.4 1096.7,1309.2 1097.1,1363.9 1097.4,1339.5 1097.8,1367.8 1098.1,1408.2 1098.5,1388.6 1098.8,1364.2 1099.1,1397.4 1099.5,1406.6 1099.8,1387.1 1100.2,1406.0 1100.5,1367.4 1100.9,1376.8 1101.2,1359.8 1101.6,1354.9 1101.9,1362.0 1102.3,1345.2 1102.6,1359.8 1102.9,1413.0 1103.3,1379.9 1103.6,1359.1 1104.0,1403.1 1104.3,1399.3 1104.7,1342.8 1105.0,1353.6 1105.4,1407.7 1105.7,1373.1 1106.1,1376.9 1106.4,1361.6 1106.7,1351.0 1107.1,1403.0 1107.4,1361.3 1107.8,1391.5 1108.1,1421.8 1108.5,1394.4 1108.8,1379.0 1109.2,1399.5 1109.5,1398.6 1109.9,1378.5 1110.2,1396.8 1110.5,1364.8 1110.9,1354.4 1111.2,1382.5 1111.6,1357.8 1111.9,1383.6 1112.3,1397.3 1112.6,1406.3 1113.0,1444.1 1113.3,1385.9 1113.7,1397.3 1114.0,1399.1 1114.3,1388.8 1114.7,1455.4 1115.0,1397.1 1115.4,1410.9 1115.7,1412.5 1116.1,1471.8 1116.4,1413.4 1116.8,1405.3 1117.1,1450.0 1117.5,1410.7 1117.8,1380.9 1118.1,1451.9 1118.5,1448.5 1118.8,1399.5 1119.2,1405.7 1119.5,1433.4 1119.9,1413.1 1120.2,1402.4 1120.6,1410.9 1120.9,1477.0 1121.3,1461.5 1121.6,1417.2 1121.9,1437.6 1122.3,1446.1 1122.6,1437.7 1123.0,1443.7 1123.3,1483.4 1123.7,1434.2 1124.0,1433.0 1124.4,1448.6 1124.7,1437.8 1125.1,1443.9 1125.4,1445.1 1125.8,1434.3 1126.1,1481.2 1126.4,1444.0 1126.8,1486.0 1127.1,1441.6 1127.5,1442.7 1127.8,1467.9 1128.2,1457.0 1128.5,1482.1 1128.9,1478.3 1129.2,1515.3 1129.6,1405.9 1129.9,1447.6 1130.2,1467.7 1130.6,1466.1 1130.9,1469.3 1131.3,1525.3 1131.6,1425.4 1132.0,1486.2 1132.3,1470.3 1132.7,1475.9 1133.0,1498.4 1133.4,1475.2 1133.7,1492.8 1134.0,1505.6 1134.4,1503.9 1134.7,1442.3 1135.1,1467.0 1135.4,1453.3 1135.8,1465.9 1136.1,1478.5 1136.5,1524.6 1136.8,1469.9 1137.2,1477.5 1137.5,1480.3 1137.8,1514.2 1138.2,1473.6 1138.5,1492.9 1138.9,1500.2 1139.2,1495.4 1139.6,1444.9 1139.9,1459.1 1140.3,1497.3 1140.6,1449.1 1141.0,1477.5 1141.3,1453.1 1141.6,1488.7 1142.0,1481.0 1142.3,1449.3 1142.7,1475.1 1143.0,1457.7 1143.4,1466.7 1143.7,1502.1 1144.1,1482.2 1144.4,1483.9 1144.8,1504.8 1145.1,1477.7 1145.4,1501.0 1145.8,1481.1 1146.1,1477.9 1146.5,1465.2 1146.8,1454.9 1147.2,1451.8 1147.5,1453.5 1147.9,1479.3 1148.2,1476.2 1148.6,1451.6 1148.9,1491.8 1149.2,1455.3 1149.6,1459.6 1149.9,1439.9 1150.3,1451.5 1150.6,1482.4 1151.0,1474.8 1151.3,1452.9 1151.7,1488.6 1152.0,1464.4 1152.4,1466.5 1152.7,1483.0 1153.0,1473.2 1153.4,1458.6 1153.7,1444.0 1154.1,1486.9 1154.4,1419.5 1154.8,1450.5 1155.1,1431.1 1155.5,1452.5 1155.8,1478.7 1156.2,1456.9 1156.5,1454.3 1156.8,1461.3 1157.2,1497.1 1157.5,1484.8 1157.9,1465.4 1158.2,1448.4 1158.6,1452.9 1158.9,1467.1 1159.3,1454.8 1159.6,1456.9 1160.0,1442.2 1160.3,1434.7 1160.6,1439.2 1161.0,1462.8 1161.3,1443.2 1161.7,1502.8 1162.0,1466.3 1162.4,1468.3 1162.7,1475.0 1163.1,1438.5 1163.4,1435.5 1163.8,1451.8 1164.1,1465.6 1164.4,1462.6 1164.8,1481.2 1165.1,1475.8 1165.5,1470.4 1165.8,1472.2 1166.2,1457.1 1166.5,1466.1 1166.9,1446.2 1167.2,1443.2 1167.6,1466.5 1167.9,1422.7 1168.2,1472.4 1168.6,1479.0 1168.9,1439.9 1169.3,1458.5 1169.6,1448.3 1170.0,1430.9 1170.3,1451.9 1170.7,1453.7 1171.0,1460.3 1171.4,1438.0 1171.7,1444.6 1172.0,1431.9 1172.4,1457.6 1172.7,1440.0 1173.1,1453.7 1173.4,1428.9 1173.8,1440.2 1174.1,1425.0 1174.5,1426.6 1174.8,1454.6 1175.2,1432.2 1175.5,1433.8 1175.8,1445.1 1176.2,1420.3 1176.5,1462.8 1176.9,1421.2 1177.2,1425.3 1177.6,1463.0 1177.9,1404.8 1178.3,1454.5 1178.6,1434.7 1179.0,1436.6 1179.3,1412.0 1179.6,1430.8 1180.0,1408.7 1180.3,1441.9 1180.7,1422.4 1181.0,1414.9 1181.4,1417.1 1181.7,1421.7 1182.1,1438.4 1182.4,1431.2 1182.8,1414.4 1183.1,1412.1 1183.4,1409.7 1183.8,1436.2 1184.1,1431.5 1184.5,1410.1 1184.8,1400.6 1185.2,1424.8 1185.5,1417.8 1185.9,1432.4 1186.2,1423.0 1186.6,1430.4 1186.9,1437.9 1187.2,1440.6 1187.6,1424.1 1187.9,1436.4 1188.3,1419.9 1188.6,1410.6 1189.0,1430.1 1189.3,1444.8 1189.7,1450.0 1190.0,1428.7 1190.4,1405.1 1190.7,1434.2 1191.0,1427.4 1191.4,1439.7 1191.7,1444.9 1192.1,1423.6 1192.4,1421.6 1192.8,1426.7 1193.1,1422.3 1193.5,1417.8 1193.8,1435.0 1194.2,1423.3 1194.5,1428.4 1194.9,1428.8 1195.2,1424.3 1195.5,1441.4 1195.9,1427.2 1196.2,1432.3 1196.6,1447.0 1196.9,1432.8 1197.3,1413.9 1197.6,1428.5 1198.0,1428.7 1198.3,1445.7 1198.7,1457.9 1199.0,1438.9 1199.3,1434.4 1199.7,1456.2 1200.0,1427.6 1200.4,1442.2 1200.7,1444.9 1201.1,1437.9 1201.4,1435.7 1201.8,1440.8 1202.1,1457.8 1202.5,1446.0 1202.8,1429.5 1203.1,1441.7 1203.5,1451.5 1203.8,1463.8 1204.2,1449.6 1204.5,1442.6 1204.9,1459.7 1205.2,1452.7 1205.6,1443.3 1205.9,1431.5 1206.3,1441.3 1206.6,1453.6 1206.9,1427.4 1207.3,1420.4 1207.6,1449.4 1208.0,1420.8 1208.3,1425.8 1208.7,1440.4 1209.0,1438.2 1209.4,1443.2 1209.7,1445.7 1210.1,1450.7 1210.4,1441.3 1210.7,1431.8 1211.1,1405.6 1211.4,1461.0 1211.8,1453.9 1212.1,1451.6 1212.5,1444.6 1212.8,1432.7 1213.2,1449.6 1213.5,1442.5 1213.9,1425.8 1214.2,1457.1 1214.5,1426.0 1214.9,1438.1 1215.2,1467.0 1215.6,1433.4 1215.9,1447.9 1216.3,1457.5 1216.6,1445.6 1217.0,1426.4 1217.3,1438.4 1217.7,1443.2 1218.0,1424.0 1218.3,1462.4 1218.7,1448.0 1219.0,1452.8 1219.4,1447.9 1219.7,1450.3 1220.1,1440.7 1220.4,1426.2 1220.8,1452.6 1221.1,1445.4 1221.5,1464.5 1221.8,1428.5 1222.1,1445.2 1222.5,1471.6 1222.8,1425.9 1223.2,1428.2 1223.5,1447.4 1223.9,1466.5 1224.2,1428.0 1224.6,1444.8 1224.9,1439.9 1225.3,1435.0 1225.6,1439.8 1225.9,1458.9 1226.3,1444.4 1226.6,1425.1 1227.0,1434.6 1227.3,1444.2 1227.7,1424.9 1228.0,1434.4 1228.4,1436.7 1228.7,1415.0 1229.1,1465.3 1229.4,1422.1 1229.7,1443.6 1230.1,1438.7 1230.4,1433.8 1230.8,1457.7 1231.1,1443.2 1231.5,1431.2 1231.8,1457.5 1232.2,1447.8 1232.5,1428.5 1232.9,1421.3 1233.2,1452.4 1233.5,1440.3 1233.9,1423.5 1234.2,1447.4 1234.6,1423.3 1234.9,1432.9 1235.3,1430.4 1235.6,1416.0 1236.0,1449.5 1236.3,1480.7 1236.7,1449.4 1237.0,1444.6 1237.3,1437.3 1237.7,1439.7 1238.0,1444.5 1238.4,1449.3 1238.7,1434.8 1239.1,1442.0 1239.4,1437.2 1239.8,1446.8 1240.1,1451.6 1240.5,1454.0 1240.8,1434.8 1241.1,1434.8 1241.5,1449.2 1241.8,1437.2 1242.2,1439.6 1242.5,1446.9 1242.9,1446.9 1243.2,1458.9 1243.6,1425.3 1243.9,1454.1 1244.3,1435.0 1244.6,1449.4 1244.9,1425.4 1245.3,1439.8 1245.6,1435.1 1246.0,1463.9 1246.3,1430.3 1246.7,1456.8 1247.0,1432.8 1247.4,1428.0 1247.7,1444.9 1248.1,1454.5 1248.4,1442.5 1248.7,1449.8 1249.1,1445.0 1249.4,1442.6 1249.8,1459.5 1250.1,1442.7 1250.5,1452.4 1250.8,1428.4 1251.2,1440.4 1251.5,1454.9 1251.9,1438.1 1252.2,1416.6 1252.5,1452.6 1252.9,1450.2 1253.2,1438.3 1253.6,1445.5 1253.9,1438.4 1254.3,1448.0 1254.6,1457.7 1255.0,1448.1 1255.3,1443.3 1255.7,1438.6 1256.0,1441.0 1256.3,1436.2 1256.7,1455.5 1257.0,1431.5 1257.4,1436.4 1257.7,1448.4 1258.1,1448.4 1258.4,1446.1 1258.8,1438.9 1259.1,1446.1 1259.5,1426.9 1259.8,1424.6 1260.1,1429.4 1260.5,1448.6 1260.8,1460.7 1261.2,1439.1 1261.5,1436.7 1261.9,1441.5 1262.2,1465.5 1262.6,1446.3 1262.9,1446.4 1263.3,1436.8 1263.6,1451.2 1264.0,1460.8 1264.3,1446.4 1264.6,1434.4 1265.0,1460.8 1265.3,1444.0 1265.7,1465.6 1266.0,1431.9 1266.4,1441.5 1266.7,1448.6 1267.1,1422.1 1267.4,1446.0 1267.8,1450.6 1268.1,1443.3 1268.4,1447.9 1268.8,1445.4 1269.1,1433.2 1269.5,1452.2 1269.8,1432.8 1270.2,1439.8 1270.5,1432.4 1270.9,1448.9 1271.2,1436.7 1271.6,1436.5 1271.9,1414.6 1272.2,1438.3 1272.6,1452.5 1272.9,1416.2 1273.3,1444.8 1273.6,1439.7 1274.0,1417.8 1274.3,1434.3 1274.7,1450.9 1275.0,1438.6 1275.4,1443.1 1275.7,1452.5 1276.0,1433.0 1276.4,1447.1 1276.7,1422.9 1277.1,1427.4 1277.4,1453.6 1277.8,1453.3 1278.1,1448.3 1278.5,1419.3 1278.8,1433.4 1279.2,1426.0 1279.5,1459.4 1279.8,1420.8 1280.2,1420.6 1280.5,1427.7 1280.9,1439.5 1281.2,1427.4 1281.6,1432.0 1281.9,1439.1 1282.3,1434.2 1282.6,1412.6 1283.0,1419.7 1283.3,1453.2 1283.6,1434.0 1284.0,1455.6 1284.3,1450.8 1284.7,1448.5 1285.0,1436.5 1285.4,1453.4 1285.7,1429.5 1286.1,1460.9 1286.4,1441.8 1286.8,1442.0 1287.1,1430.2 1287.4,1430.4 1287.8,1433.0 1288.1,1430.9 1288.5,1426.3 1288.8,1424.2 1289.2,1438.9 1289.5,1451.1 1289.9,1461.0 1290.2,1446.9 1290.6,1437.7 1290.9,1445.2 1291.2,1459.9 1291.6,1441.0 1291.9,1450.9 1292.3,1444.1 1292.6,1442.0 1293.0,1435.1 1293.3,1449.8 1293.7,1433.3 1294.0,1431.2 1294.4,1445.9 1294.7,1453.4 1295.0,1453.7 1295.4,1454.0 1295.7,1439.8 1296.1,1442.5 1296.4,1457.1 1296.8,1466.9 1297.1,1414.3 1297.5,1457.7 1297.8,1448.3 1298.2,1443.6 1298.5,1436.6 1298.8,1439.1 1299.2,1431.9 1299.5,1448.8 1299.9,1434.4 1300.2,1444.0 1300.6,1429.6 1300.9,1458.4 1301.3,1453.6 1301.6,1432.0 1302.0,1451.2 1302.3,1441.6 1302.6,1434.4 1303.0,1446.4 1303.3,1453.6 1303.7,1460.8 1304.0,1448.8 1304.4,1458.4 1304.7,1453.6 1305.1,1453.6 1305.4,1456.0 1305.8,1429.6 1306.1,1441.6 1306.4,1460.8 1306.8,1429.6 1307.1,1436.8 1307.5,1465.6 1307.8,1434.4 1308.2,1446.4 1308.5,1448.8 1308.9,1441.6 1309.2,1456.0 1309.6,1453.6 1309.9,1436.8 1310.2,1463.2 1310.6,1436.8 1310.9,1439.2 1311.3,1444.0 1311.6,1446.4 1312.0,1432.0 1312.3,1446.4 1312.7,1420.0 1313.0,1439.2 1313.4,1434.4 1313.7,1436.8 1314.0,1444.0 1314.4,1446.4 1314.7,1436.8 1315.1,1444.0 1315.4,1427.2 1315.8,1439.2 1316.1,1453.6 1316.5,1436.8 1316.8,1439.2 1317.2,1444.0 1317.5,1453.6 1317.8,1448.8 1318.2,1441.6 1318.5,1432.0 1318.9,1446.4 1319.2,1412.8 1319.6,1448.8 1319.9,1434.4 1320.3,1451.2 1320.6,1444.0 1321.0,1458.4 1321.3,1436.8 1321.6,1422.4 1322.0,1444.0 1322.3,1439.2 1322.7,1441.6 1323.0,1456.0 1323.4,1434.4 1323.7,1451.2 1324.1,1453.6 1324.4,1456.0 1324.8,1422.4 1325.1,1444.0 1325.4,1436.8 1325.8,1441.6 1326.1,1434.4 1326.5,1439.2 1326.8,1453.6 1327.2,1463.2 1327.5,1451.2 1327.9,1429.6 1328.2,1456.0 1328.6,1429.6 1328.9,1439.2 1329.2,1456.0 1329.6,1436.8 1329.9,1451.2 1330.3,1441.6 1330.6,1432.0 1331.0,1446.4 1331.3,1436.8 1331.7,1463.2 1332.0,1463.2 1332.4,1460.8 1332.7,1432.0 1333.1,1463.2 1333.4,1446.4 1333.7,1448.8 1334.1,1446.4 1334.4,1436.8 1334.8,1444.0 1335.1,1453.6 1335.5,1460.8 1335.8,1448.8 1336.2,1444.0 1336.5,1439.2 1336.9,1439.2 1337.2,1460.8 1337.5,1451.2 1337.9,1446.4 1338.2,1424.8 1338.6,1424.8 1338.9,1451.2 1339.3,1451.2 1339.6,1456.0 1340.0,1446.4 1340.3,1436.8 1340.7,1424.8 1341.0,1434.4 1341.3,1417.6 1341.7,1446.4 1342.0,1448.8 1342.4,1458.4 1342.7,1424.8 1343.1,1427.2 1343.4,1451.2 1343.8,1446.4 1344.1,1422.4 1344.5,1436.8 1344.8,1444.0 1345.1,1439.2 1345.5,1446.4 1345.8,1444.0 1346.2,1436.8 1346.5,1448.8 1346.9,1441.6 1347.2,1456.0 1347.6,1427.2 1347.9,1441.6 1348.3,1436.8 1348.6,1441.6 1348.9,1448.8 1349.3,1451.2 1349.6,1420.0 1350.0,1456.0 1350.3,1448.8 1350.7,1448.8 1351.0,1444.0 1351.4,1453.6 1351.7,1448.8 1352.1,1424.8 1352.4,1436.8 1352.7,1441.6 1353.1,1439.2 1353.4,1439.2 1353.8,1451.2 1354.1,1432.0 1354.5,1434.4 1354.8,1432.0 1355.2,1444.0 1355.5,1448.8 1355.9,1434.4 1356.2,1448.8 1356.5,1436.8 1356.9,1458.4 1357.2,1420.0 1357.6,1444.0 1357.9,1456.0 1358.3,1439.2 1358.6,1432.0 1359.0,1434.4 1359.3,1448.8 1359.7,1436.8 1360.0,1456.0 1360.3,1444.0 1360.7,1436.8 1361.0,1439.2 1361.4,1448.8 1361.7,1453.6 1362.1,1434.4 1362.4,1429.6 1362.8,1429.6 1363.1,1448.8 1363.5,1463.2 1363.8,1436.8 1364.1,1451.2 1364.5,1439.2 1364.8,1453.6 1365.2,1427.2 1365.5,1451.2 1365.9,1429.6 1366.2,1434.4 1366.6,1446.4 1366.9,1441.6 1367.3,1444.0 1367.6,1448.8 1367.9,1446.4 1368.3,1460.8 1368.6,1451.2 1369.0,1434.4 1369.3,1444.0 1369.7,1436.8 1370.0,1439.2 1370.4,1463.2 1370.7,1434.4 1371.1,1458.4 1371.4,1460.8 1371.7,1472.8 1372.1,1444.0 1372.4,1446.4 1372.8,1446.4 1373.1,1439.2 1373.5,1463.2 1373.8,1465.6 1374.2,1417.6 1374.5,1439.2 1374.9,1456.0 1375.2,1432.0 1375.5,1436.8 1375.9,1444.0 1376.2,1444.0 1376.6,1441.6 1376.9,1441.6 1377.3,1463.2 1377.6,1417.6 1378.0,1439.2 1378.3,1432.0 1378.7,1446.4 1379.0,1439.2 1379.3,1448.8 1379.7,1444.0 1380.0,1468.0 1380.4,1429.6 1380.7,1439.2 1381.1,1453.6 1381.4,1439.2 1381.8,1446.4 1382.1,1427.2 1382.5,1451.2 1382.8,1441.6 1383.1,1448.8 1383.5,1434.4 1383.8,1436.8 1384.2,1434.4 1384.5,1460.8 1384.9,1424.8 1385.2,1448.8 1385.6,1446.4 1385.9,1458.4 1386.3,1446.4 1386.6,1432.0 1386.9,1448.8 1387.3,1424.8 1387.6,1456.0 1388.0,1441.6 1388.3,1434.4 1388.7,1436.8 1389.0,1448.8 1389.4,1424.8 1389.7,1463.2 1390.1,1436.8 1390.4,1460.8 1390.7,1446.4 1391.1,1465.6 1391.4,1429.6 1391.8,1453.6 1392.1,1444.0 1392.5,1436.8 1392.8,1453.6 1393.2,1441.6 1393.5,1434.4 1393.9,1441.6 1394.2,1434.4 1394.5,1441.6 1394.9,1444.0 1395.2,1456.0 1395.6,1441.6 1395.9,1434.4 1396.3,1451.2 1396.6,1439.2 1397.0,1432.0 1397.3,1429.6 1397.7,1463.2 1398.0,1441.6 1398.3,1460.8 1398.7,1432.0 1399.0,1432.0 1399.4,1463.2 1399.7,1441.6 1400.1,1441.6 1400.4,1441.6 1400.8,1432.0 1401.1,1453.6 1401.5,1429.6 1401.8,1451.2 1402.2,1432.0 1402.5,1472.8 1402.8,1451.2 1403.2,1456.0 1403.5,1424.8 1403.9,1446.4 1404.2,1436.8 1404.6,1434.4 1404.9,1434.3 1405.3,1453.5 1405.6,1443.9 1406.0,1436.7 1406.3,1436.7 1406.6,1436.7 1407.0,1436.7 1407.3,1439.1 1407.7,1429.5 1408.0,1431.9 1408.4,1417.4 1408.7,1443.8 1409.1,1448.6 1409.4,1436.6 1409.8,1458.2 1410.1,1434.2 1410.4,1443.7 1410.8,1455.7 1411.1,1446.1 1411.5,1434.1 1411.8,1446.1 1412.2,1438.9 1412.5,1455.6 1412.9,1450.8 1413.2,1441.2 1413.6,1448.4 1413.9,1462.8 1414.2,1455.5 1414.6,1453.1 1414.9,1441.1 1415.3,1436.3 1415.6,1433.8 1416.0,1453.0 1416.3,1431.4 1416.7,1448.2 1417.0,1460.1 1417.4,1424.1 1417.7,1445.7 1418.0,1431.3 1418.4,1440.8 1418.7,1448.0 1419.1,1431.2 1419.4,1428.7 1419.8,1438.3 1420.1,1445.5 1420.5,1438.3 1420.8,1431.0 1421.2,1450.2 1421.5,1431.0 1421.8,1426.1 1422.2,1442.9 1422.5,1466.9 1422.9,1435.6 1423.2,1440.4 1423.6,1430.8 1423.9,1435.5 1424.3,1430.7 1424.6,1445.0 1425.0,1435.4 1425.3,1433.0 1425.6,1452.1 1426.0,1425.7 1426.3,1452.0 1426.7,1440.0 1427.0,1432.8 1427.4,1442.3 1427.7,1437.5 1428.1,1444.6 1428.4,1439.8 1428.8,1461.4 1429.1,1454.1 1429.4,1454.1 1429.8,1427.6 1430.1,1437.2 1430.5,1453.9 1430.8,1449.0 1431.2,1441.7 1431.5,1439.2 1431.9,1453.5 1432.2,1419.7 1432.6,1431.6 1432.9,1424.2 1433.2,1452.8 1433.6,1423.8 1433.9,1438.0 1434.3,1454.5 1434.6,1435.1 1435.0,1442.1 1435.3,1439.4 1435.7,1446.4 1436.0,1462.9 1436.4,1424.2 1436.7,1438.4 1437.0,1454.9 1437.4,1464.2 1437.7,1435.2 1438.1,1451.7 1438.4,1444.3 1438.8,1444.0 1439.1,1419.7 1439.5,1417.1 1439.8,1438.5 1440.2,1433.4 1440.5,1433.2 1440.8,1421.0 1441.2,1452.0 1441.5,1432.6 1441.9,1463.6 1442.2,1432.3 1442.6,1439.3 1442.9,1441.6 1443.3,1429.5 1443.6,1422.2 1444.0,1426.9 1444.3,1434.0 1444.6,1429.2 1445.0,1455.6 1445.3,1429.2 1445.7,1441.3 1446.0,1443.8 1446.4,1436.8 1446.7,1422.6 1447.1,1439.7 1447.4,1444.8 1447.8,1437.9 1448.1,1435.9 1448.4,1412.3 1448.8,1424.7 1449.1,1434.8 1449.5,1440.0 1449.8,1445.4 1450.2,1436.3 1450.5,1441.6 1450.9,1427.8 1451.2,1447.5 1451.6,1448.1 1451.9,1439.1 1452.2,1451.7 1452.6,1440.3 1452.9,1438.4 1453.3,1441.4 1453.6,1466.0 1454.0,1428.2 1454.3,1447.9 1454.7,1441.3 1455.0,1446.6 1455.4,1430.3 1455.7,1454.8 1456.0,1455.3 1456.4,1446.1 1456.7,1444.1 1457.1,1449.3 1457.4,1459.3 1457.8,1433.2 1458.1,1464.7 1458.5,1448.1 1458.8,1460.3 1459.2,1441.2 1459.5,1472.5 1459.8,1453.4 1460.2,1470.2 1460.5,1443.8 1460.9,1443.8 1461.2,1462.9 1461.6,1458.1 1461.9,1455.6 1462.3,1465.2 1462.6,1455.5 1463.0,1448.2 1463.3,1431.3 1463.6,1426.4 1464.0,1457.5 1464.3,1457.4 1464.7,1440.4 1465.0,1457.1 1465.4,1447.4 1465.7,1449.6 1466.1,1459.1 1466.4,1432.5 1466.8,1453.9 1467.1,1456.2 1467.4,1446.4 1467.8,1451.0 1468.1,1436.5 1468.5,1450.7 1468.8,1455.3 1469.2,1457.5 1469.5,1440.6 1469.9,1457.2 1470.2,1452.2 1470.6,1454.4 1470.9,1447.0 1471.3,1454.0 1471.6,1449.1 1471.9,1472.9 1472.3,1443.9 1472.6,1458.1 1473.0,1446.0 1473.3,1431.4 1473.7,1450.5 1474.0,1459.9 1474.4,1455.0 1474.7,1454.8 1475.1,1437.9 1475.4,1449.7 1475.7,1430.4 1476.1,1463.9 1476.4,1461.4 1476.8,1434.9 1477.1,1439.6 1477.5,1432.3 1477.8,1437.0 1478.2,1439.4 1478.5,1432.1 1478.9,1439.3 1479.2,1451.2 1479.5,1441.6 1479.9,1451.2 1480.2,1441.6 1480.6,1446.4 1480.9,1432.0 1481.3,1453.6 1481.6,1432.0 1482.0,1441.6 1482.3,1432.0 1482.7,1448.8 1483.0,1434.4 1483.3,1451.2 1483.7,1465.6 1484.0,1448.8 1484.4,1420.0 1484.7,1453.6 1485.1,1446.4 1485.4,1451.2 1485.8,1448.8 1486.1,1456.0 1486.5,1456.0 1486.8,1444.0 1487.1,1432.0 1487.5,1444.0 1487.8,1453.6 1488.2,1424.8 1488.5,1446.4 1488.9,1424.8 1489.2,1456.0 1489.6,1463.2 1489.9,1453.6 1490.3,1439.2 1490.6,1453.6 1490.9,1458.4 1491.3,1463.2 1491.6,1458.4 1492.0,1456.0 1492.3,1434.4 1492.7,1444.0 1493.0,1448.8 1493.4,1444.0 1493.7,1424.8 1494.1,1444.0 1494.4,1436.8 1494.7,1446.4 1495.1,1448.8 1495.4,1429.6 1495.8,1436.8 1496.1,1446.4 1496.5,1434.4 1496.8,1444.0 1497.2,1436.8 1497.5,1436.8 1497.9,1453.6 1498.2,1444.0 1498.5,1439.2 1498.9,1460.8 1499.2,1441.6 1499.6,1444.0 1499.9,1444.0 1500.3,1475.2 1500.6,1451.2 1501.0,1453.6 1501.3,1441.6 1501.7,1453.6 1502.0,1456.0 1502.3,1432.0 1502.7,1448.8 1503.0,1460.8 1503.4,1463.2 1503.7,1446.4 1504.1,1468.0 1504.4,1436.8 1504.8,1456.0 1505.1,1451.2 1505.5,1434.4 1505.8,1456.0 1506.1,1432.0 1506.5,1436.8 1506.8,1444.0 1507.2,1432.0 1507.5,1456.0 1507.9,1439.2 1508.2,1432.0 1508.6,1446.4 1508.9,1444.0 1509.3,1434.4 1509.6,1439.2 1509.9,1453.6 1510.3,1453.6 1510.6,1427.2 1511.0,1456.0 1511.3,1456.0 1511.7,1456.0 1512.0,1439.2 1512.4,1436.8 1512.7,1444.0 1513.1,1439.2 1513.4,1441.6 1513.7,1439.2 1514.1,1441.6 1514.4,1439.2 1514.8,1446.4 1515.1,1446.4 1515.5,1441.6 1515.8,1439.2 1516.2,1460.8 1516.5,1453.6 1516.9,1448.8 1517.2,1436.8 1517.5,1451.2 1517.9,1444.0 1518.2,1451.2 1518.6,1446.4 1518.9,1470.4 1519.3,1444.0 1519.6,1434.4 1520.0,1456.0 1520.3,1456.0 1520.7,1458.4 1521.0,1417.6 1521.3,1434.4 1521.7,1436.8 1522.0,1427.2 1522.4,1446.4 1522.7,1451.2 1523.1,1456.0 1523.4,1453.6 1523.8,1444.0 1524.1,1460.8 1524.5,1446.4 1524.8,1415.2 1525.1,1441.6 1525.5,1436.8 1525.8,1448.8 1526.2,1439.2 1526.5,1441.6 1526.9,1458.4 1527.2,1436.8 1527.6,1429.6 1527.9,1446.4 1528.3,1451.2 1528.6,1441.6 1528.9,1444.0 1529.3,1436.8 1529.6,1429.6 1530.0,1436.8 1530.3,1432.0 1530.7,1456.0 1531.0,1441.6 1531.4,1458.4 1531.7,1441.6 1532.1,1434.4 1532.4,1446.4 1532.7,1446.4 1533.1,1458.4 1533.4,1422.4 1533.8,1439.2 1534.1,1448.8 1534.5,1436.8 1534.8,1444.0 1535.2,1441.6 1535.5,1458.4 1535.9,1456.0 1536.2,1422.4 1536.5,1427.2 1536.9,1434.4 1537.2,1444.0 1537.6,1441.6 1537.9,1439.2 1538.3,1451.2 1538.6,1453.6 1539.0,1444.0 1539.3,1441.6 1539.7,1444.0 1540.0,1434.4 1540.4,1453.6 1540.7,1453.6 1541.0,1434.4 1541.4,1458.4 1541.7,1444.0 1542.1,1453.6 1542.4,1444.0 1542.8,1441.6 1543.1,1451.2 1543.5,1434.4 1543.8,1441.6 1544.2,1432.0 1544.5,1448.8 1544.8,1441.6 1545.2,1441.6 1545.5,1439.2 1545.9,1451.2 1546.2,1446.4 1546.6,1441.6 1546.9,1439.2 1547.3,1463.2 1547.6,1460.8 1548.0,1432.0 1548.3,1456.0 1548.6,1448.8 1549.0,1446.4 1549.3,1448.8 1549.7,1429.6 1550.0,1470.4 1550.4,1465.6 1550.7,1444.0 1551.1,1444.0 1551.4,1446.4 1551.8,1436.8 1552.1,1448.8 1552.4,1444.0 1552.8,1432.0 1553.1,1439.2 1553.5,1436.8 1553.8,1436.8 1554.2,1439.2 1554.5,1451.2 1554.9,1439.2 1555.2,1427.2 1555.6,1458.4 1555.9,1436.8 1556.2,1458.4 1556.6,1446.4 1556.9,1448.8 1557.3,1434.4 1557.6,1444.0 1558.0,1439.2 1558.3,1444.0 1558.7,1448.8 1559.0,1439.2 1559.4,1453.6 1559.7,1427.2 1560.0,1432.0 1560.4,1448.8 1560.7,1448.8 1561.1,1456.0 1561.4,1460.8 1561.8,1448.8 1562.1,1451.2 1562.5,1446.4 1562.8,1446.4 1563.2,1441.6 1563.5,1444.0 1563.8,1436.8 1564.2,1441.6 1564.5,1453.6 1564.9,1448.8 1565.2,1456.0 1565.6,1439.2 1565.9,1439.2 1566.3,1448.8 1566.6,1434.4 1567.0,1434.4 1567.3,1451.2 1567.6,1441.6 1568.0,1453.6 1568.3,1444.0 1568.7,1439.3 1569.0,1432.1 1569.4,1456.1 1569.7,1441.7 1570.1,1434.5 1570.4,1427.3 1570.8,1429.7 1571.1,1439.3 1571.4,1456.1 1571.8,1434.5 1572.1,1446.5 1572.5,1446.5 1572.8,1410.5 1573.2,1429.7 1573.5,1451.3 1573.9,1420.1 1574.2,1456.1 1574.6,1444.1 1574.9,1424.9 1575.2,1463.4 1575.6,1441.8 1575.9,1461.0 1576.3,1446.6 1576.6,1434.6 1577.0,1456.2 1577.3,1463.4 1577.7,1456.2 1578.0,1429.8 1578.4,1449.0 1578.7,1429.8 1579.0,1437.0 1579.4,1458.6 1579.7,1427.4 1580.1,1470.7 1580.4,1425.1 1580.8,1427.5 1581.1,1451.5 1581.5,1441.9 1581.8,1441.9 1582.2,1432.3 1582.5,1451.5 1582.8,1446.7 1583.2,1441.9 1583.5,1434.7 1583.9,1425.1 1584.2,1442.0 1584.6,1418.0 1584.9,1434.8 1585.3,1449.2 1585.6,1451.6 1586.0,1439.6 1586.3,1413.2 1586.6,1449.2 1587.0,1454.0 1587.3,1444.4 1587.7,1458.8 1588.0,1454.1 1588.4,1425.3 1588.7,1439.7 1589.1,1437.3 1589.4,1461.3 1589.8,1456.5 1590.1,1444.5 1590.4,1449.3 1590.8,1454.1 1591.1,1434.9 1591.5,1442.1 1591.8,1442.2 1592.2,1439.8 1592.5,1439.8 1592.9,1447.0 1593.2,1427.8 1593.6,1430.2 1593.9,1451.8 1594.2,1461.4 1594.6,1463.8 1594.9,1423.0 1595.3,1447.1 1595.6,1432.7 1596.0,1437.5 1596.3,1439.9 1596.7,1447.1 1597.0,1449.5 1597.4,1415.9 1597.7,1437.5 1598.0,1456.7 1598.4,1444.8 1598.7,1425.6 1599.1,1432.8 1599.4,1435.2 1599.8,1454.4 1600.1,1464.0 1600.5,1430.4 1600.8,1449.6 1601.2,1440.0 1601.5,1449.6 1601.8,1440.1 1602.2,1430.5 1602.5,1435.3 1602.9,1435.3 1603.2,1459.3 1603.6,1435.3 1603.9,1449.7 1604.3,1432.9 1604.6,1435.3 1605.0,1444.9 1605.3,1437.8 1605.6,1466.6 1606.0,1459.4 1606.3,1430.6 1606.7,1449.8 1607.0,1461.8 1607.4,1428.2 1607.7,1437.8 1608.1,1461.8 1608.4,1433.0 1608.8,1449.9 1609.1,1442.7 1609.5,1445.1 1609.8,1430.7 1610.1,1442.7 1610.5,1437.9 1610.8,1464.3 1611.2,1449.9 1611.5,1445.1 1611.9,1442.7 1612.2,1452.4 1612.6,1426.0 1612.9,1430.8 1613.3,1433.2 1613.6,1433.2 1613.9,1423.6 1614.3,1450.0 1614.6,1438.0 1615.0,1457.2 1615.3,1442.8 1615.7,1438.0 1616.0,1447.7 1616.4,1447.7 1616.7,1440.5 1617.1,1450.1 1617.4,1457.3 1617.7,1438.1 1618.1,1459.7 1618.4,1440.5 1618.8,1454.9 1619.1,1442.9 1619.5,1438.1 1619.8,1447.7 1620.2,1431.0 1620.5,1423.8 1620.9,1443.0 1621.2,1440.6 1621.5,1431.0 1621.9,1469.4 1622.2,1447.8 1622.6,1435.8 1622.9,1450.2 1623.3,1450.2 1623.6,1438.2 1624.0,1440.6 1624.3,1421.4 1624.7,1445.4 1625.0,1467.1 1625.3,1457.5 1625.7,1455.1 1626.0,1435.9 1626.4,1431.1 1626.7,1455.1 1627.1,1447.9 1627.4,1440.7 1627.8,1440.7 1628.1,1455.1 1628.5,1450.3 1628.8,1438.3 1629.1,1443.1 1629.5,1423.9 1629.8,1428.7 1630.2,1450.3 1630.5,1438.3 1630.9,1433.5 1631.2,1447.9 1631.6,1460.0 1631.9,1433.6 1632.3,1440.8 1632.6,1440.8 1632.9,1474.4 1633.3,1455.2 1633.6,1448.0 1634.0,1426.4 1634.3,1452.8 1634.7,1450.4 1635.0,1440.8 1635.4,1433.6 1635.7,1438.4 1636.1,1424.0 1636.4,1438.4 1636.7,1438.4 1637.1,1433.6 1637.4,1440.8 1637.8,1424.0 1638.1,1457.6 1638.5,1440.8 1638.8,1428.8 1639.2,1452.8 1639.5,1450.4 1639.9,1438.4 1640.2,1426.4 1640.5,1443.2 1640.9,1450.4 1641.2,1450.4 1641.6,1455.2 1641.9,1455.2 1642.3,1426.3 1642.6,1445.5 1643.0,1421.5 1643.3,1455.1 1643.7,1447.9 1644.0,1455.0 1644.3,1443.0 1644.7,1443.0 1645.0,1435.7 1645.4,1409.3 1645.7,1440.5 1646.1,1474.0 1646.4,1459.6 1646.8,1440.4 1647.1,1447.5 1647.5,1447.5 1647.8,1435.4 1648.1,1442.6 1648.5,1447.3 1648.8,1437.7 1649.2,1449.6 1649.5,1459.2 1649.9,1454.3 1650.2,1447.0 1650.6,1439.8 1650.9,1451.7 1651.3,1434.9 1651.6,1434.8 1651.9,1458.7 1652.3,1437.1 1652.6,1425.0 1653.0,1453.7 1653.3,1451.2 1653.7,1456.0 1654.0,1441.5 1654.4,1455.8 1654.7,1441.4 1655.1,1429.3 1655.4,1438.8 1655.7,1445.9 1656.1,1429.0 1656.4,1438.6 1656.8,1445.7 1657.1,1436.0 1657.5,1443.1 1657.8,1440.6 1658.2,1431.0 1658.5,1445.3 1658.9,1447.6 1659.2,1416.3 1659.5,1433.0 1659.9,1452.1 1660.2,1447.2 1660.6,1416.0 1660.9,1444.7 1661.3,1459.0 1661.6,1451.7 1662.0,1451.6 1662.3,1439.5 1662.7,1441.8 1663.0,1424.9 1663.3,1441.7 1663.7,1470.4 1664.0,1439.1 1664.4,1429.4 1664.7,1446.1 1665.1,1414.8 1665.4,1469.9 1665.8,1448.2 1666.1,1436.2 1666.5,1436.1 1666.8,1428.8 1667.1,1440.7 1667.5,1440.6 1667.8,1418.9 1668.2,1452.4 1668.5,1435.6 1668.9,1425.9 1669.2,1452.2 1669.6,1449.7 1669.9,1432.8 1670.3,1430.3 1670.6,1454.2 1670.9,1435.0 1671.3,1442.1 1671.6,1456.4 1672.0,1422.6 1672.3,1420.1 1672.7,1427.2 1673.0,1431.9 1673.4,1439.0 1673.7,1450.9 1674.1,1431.5 1674.4,1460.2 1674.7,1440.9 1675.1,1411.9 1675.4,1438.2 1675.8,1447.7 1676.1,1452.3 1676.5,1428.2 1676.8,1435.2 1677.2,1466.3 1677.5,1439.7 1677.9,1425.2 1678.2,1417.8 1678.6,1432.1 1678.9,1441.6 1679.2,1422.2 1679.6,1453.3 1679.9,1426.7 1680.3,1409.8 1680.6,1445.7 1681.0,1435.9 1681.3,1433.4 1681.7,1452.5 1682.0,1428.3 1682.4,1445.0 1682.7,1428.1 1683.0,1456.8 1683.4,1435.0 1683.7,1434.9 1684.1,1442.0 1684.4,1434.7 1684.8,1441.8 1685.1,1432.1 1685.5,1441.6 1685.8,1434.3 1686.2,1427.1 1686.5,1441.4 1686.8,1441.3 1687.2,1419.7 1687.5,1429.2 1687.9,1412.3 1688.2,1436.3 1688.6,1445.9 1688.9,1467.4 1689.3,1438.6 1689.6,1448.2 1690.0,1453.0 1690.3,1443.4 1690.6,1409.8 1691.0,1426.6 1691.3,1438.7 1691.7,1438.7 1692.0,1436.4 1692.4,1422.0 1692.7,1407.7 1693.1,1439.0 1693.4,1451.1 1693.8,1427.2 1694.1,1441.7 1694.4,1427.4 1694.8,1432.3 1695.1,1427.7 1695.5,1447.0 1695.8,1423.1 1696.2,1437.7 1696.5,1447.4 1696.9,1435.6 1697.2,1419.0 1697.6,1440.8 1697.9,1433.7 1698.2,1419.5 1698.6,1434.1 1698.9,1431.9 1699.3,1446.5 1699.6,1429.9 1700.0,1439.7 1700.3,1447.1 1700.7,1411.4 1701.0,1452.4 1701.4,1438.2 1701.7,1424.0 1702.0,1441.1 1702.4,1453.3 1702.7,1429.5 1703.1,1432.2 1703.4,1458.8 1703.8,1461.4 1704.1,1468.9 1704.5,1440.3 1704.8,1426.2 1705.2,1426.4 1705.5,1436.3 1705.8,1426.9 1706.2,1448.8 1706.5,1461.0 1706.9,1427.6 1707.2,1463.9 1707.6,1430.5 1707.9,1433.2 1708.3,1423.8 1708.6,1452.8 1709.0,1443.5 1709.3,1443.7 1709.6,1403.1 1710.0,1434.6 1710.3,1449.2 1710.7,1403.8 1711.0,1473.6 1711.4,1449.8 1711.7,1462.1 1712.1,1440.7 1712.4,1460.1 1712.8,1465.1 1713.1,1484.5 1713.4,1431.9 1713.8,1477.7 1714.1,1432.3 1714.5,1449.3 1714.8,1442.3 1715.2,1444.9 1715.5,1418.8 1715.9,1445.4 1716.2,1431.2 1716.6,1445.9 1716.9,1453.3 1717.2,1451.2 1717.6,1449.0 1717.9,1470.9 1718.3,1456.8 1718.6,1459.4 1719.0,1471.7 1719.3,1450.3 1719.7,1453.0 1720.0,1462.9 1720.4,1448.7 1720.7,1470.6 1721.0,1444.5 1721.4,1449.5 1721.7,1452.2 1722.1,1447.7 1722.4,1452.7 1722.8,1445.8 1723.1,1417.3 1723.5,1472.7 1723.8,1449.0 1724.2,1466.0 1724.5,1439.9 1724.8,1464.1 1725.2,1435.6 1725.5,1479.0 1725.9,1455.3 1726.2,1450.7 1726.6,1412.5 1726.9,1422.3 1727.3,1448.9 1727.6,1446.8 1728.0,1447.0 1728.3,1449.6 1728.6,1471.3 1729.0,1449.9 1729.3,1450.1 1729.7,1445.5 1730.0,1440.8 1730.4,1462.6 1730.7,1450.7 1731.1,1453.2 1731.4,1463.0 1731.8,1458.3 1732.1,1470.4 1732.4,1470.5 1732.8,1439.4 1733.1,1446.6 1733.5,1473.1 1733.8,1453.9 1734.2,1468.4 1734.5,1444.4 1734.9,1420.4 1735.2,1422.8 1735.6,1446.8 1735.9,1451.5 1736.2,1497.1 1736.6,1470.6 1736.9,1470.5 1737.3,1472.8 1737.6,1431.9 1738.0,1460.5 1738.3,1457.9 1738.7,1489.0 1739.0,1448.0 1739.4,1433.4 1739.7,1459.6 1740.0,1454.5 1740.4,1459.1 1740.7,1461.2 1741.1,1458.5 1741.4,1446.3 1741.8,1448.4 1742.1,1493.7 1742.5,1445.4 1742.8,1464.2 1743.2,1439.9 1743.5,1427.6 1743.8,1470.4 1744.2,1458.1 1744.5,1476.9 1744.9,1471.7 1745.2,1456.9 1745.6,1442.2 1745.9,1485.0 1746.3,1453.4 1746.6,1489.0 1747.0,1464.6 1747.3,1466.6 1747.7,1461.4 1748.0,1458.6 1748.3,1448.6 1748.7,1488.9 1749.0,1435.7 1749.4,1425.7 1749.7,1456.5 1750.1,1439.3 1750.4,1465.3 1750.8,1445.7 1751.1,1469.3 1751.5,1449.7 1751.8,1434.9 1752.1,1441.7 1752.5,1458.1 1752.8,1436.1 1753.2,1433.3 1753.5,1442.5 1753.9,1451.7 1754.2,1465.8 1754.6,1451.0 1754.9,1457.8 1755.3,1440.5 1755.6,1473.7 1755.9,1478.0 1756.3,1431.9 1756.6,1445.8 1757.0,1440.4 1757.3,1447.1 1757.7,1434.5 1758.0,1429.2 1758.4,1419.0 1758.7,1430.4 1759.1,1437.0 1759.4,1453.2 1759.7,1445.4 1760.1,1430.4 1760.4,1425.0 1760.8,1409.9 1761.1,1445.3 1761.5,1435.1 1761.8,1441.7 1762.2,1443.5 1762.5,1440.5 1762.9,1430.3 1763.2,1424.9 1763.5,1414.7 1763.9,1418.9 1764.2,1435.1 1764.6,1463.4 1764.9,1419.6 1765.3,1431.1 1765.6,1473.8 1766.0,1427.7 1766.3,1420.0 1766.7,1424.3 1767.0,1419.1 1767.3,1392.2 1767.7,1435.0 1768.0,1393.9 1768.4,1412.7 1768.7,1414.8 1769.1,1428.9 1769.4,1416.6 1769.8,1411.6 1770.1,1406.6 1770.5,1423.2 1770.8,1413.4 1771.1,1408.5 1771.5,1396.4 1771.8,1406.0 1772.2,1420.4 1772.5,1394.0 1772.9,1420.4 1773.2,1420.4 1773.6,1437.2 1773.9,1406.0 1774.3,1403.6 1774.6,1415.6 1774.9,1410.8 1775.3,1377.2 1775.6,1437.2 1776.0,1420.4 1776.3,1420.4 1776.7,1403.6 1777.0,1422.8 1777.4,1413.2 1777.7,1442.0 1778.1,1427.6 1778.4,1439.6 1778.7,1398.8 1779.1,1403.6 1779.4,1410.8 1779.8,1408.4 1780.1,1442.0 1780.5,1422.8 1780.8,1401.2 1781.2,1413.2 1781.5,1446.8 1781.9,1413.2 1782.2,1427.6 1782.5,1391.6 1782.9,1408.4 1783.2,1415.6 1783.6,1413.2 1783.9,1418.0 1784.3,1422.8 1784.6,1434.8 1785.0,1391.6 1785.3,1418.0 1785.7,1427.6 1786.0,1420.4 1786.3,1434.8 1786.7,1415.6 1787.0,1410.9 1787.4,1403.8 1787.7,1432.7 1788.1,1399.4 1788.4,1411.6 1788.8,1416.8 1789.1,1429.2 1789.5,1415.2 1789.8,1406.1 1790.1,1428.2 1790.5,1402.3 1790.8,1410.1 1791.2,1391.5 1791.5,1425.8 1791.9,1424.1 1792.2,1398.4 1792.6,1420.7 1792.9,1433.4 1793.3,1415.0 1793.6,1401.4 1793.9,1426.1 1794.3,1436.5 1794.6,1401.3 1795.0,1442.9 1795.3,1429.3 1795.7,1444.5 1796.0,1416.5 1796.4,1446.1 1796.7,1437.3 1797.1,1445.3 1797.4,1436.4 1797.7,1451.5 1798.1,1433.0 1798.4,1431.3 1798.8,1422.4 1799.1,1415.8 1799.5,1440.4 1799.8,1433.8 1800.2,1439.1 1800.5,1437.2 1800.9,1447.2 1801.2,1442.8 1801.5,1433.6 1801.9,1453.3 1802.2,1472.9 1802.6,1430.1 1802.9,1437.7 1803.3,1452.5 1803.6,1433.7 1804.0,1460.6 1804.3,1434.6 1804.7,1427.8 1805.0,1433.0 1805.3,1462.2 1805.7,1417.0 1806.0,1448.7 1806.4,1417.9 1806.7,1459.1 1807.1,1454.6 1807.4,1459.8 1807.8,1481.8 1808.1,1448.6 1808.5,1468.1 1808.8,1461.3 1809.1,1466.4 1809.5,1442.8 1809.8,1469.5 1810.2,1448.2 1810.5,1474.9 1810.9,1468.0 1811.2,1456.2 1811.6,1463.7 1811.9,1463.9 1812.3,1459.4 1812.6,1495.6 1812.9,1445.4 1813.3,1438.3 1813.6,1438.5 1814.0,1453.0 1814.3,1457.9 1814.7,1467.6 1815.0,1472.5 1815.4,1460.6 1815.7,1460.6 1816.1,1443.8 1816.4,1472.6 1816.8,1477.4 1817.1,1455.8 1817.4,1467.8 1817.8,1448.6 1818.1,1458.2 1818.5,1460.6 1818.8,1470.2 1819.2,1436.6 1819.5,1458.2 1819.9,1470.2 1820.2,1462.9 1820.6,1467.7 1820.9,1422.1 1821.2,1446.1 1821.6,1450.9 1821.9,1446.1 1822.3,1424.5 1822.6,1472.5 1823.0,1460.4 1823.3,1429.2 1823.7,1450.8 1824.0,1458.0 1824.4,1470.0 1824.7,1467.6 1825.0,1443.5 1825.4,1448.3 1825.7,1460.3 1826.1,1469.9 1826.4,1450.6 1826.8,1448.2 1827.1,1465.0 1827.5,1457.8 1827.8,1474.5 1828.2,1462.5 1828.5,1469.7 1828.8,1428.9 1829.2,1436.0 1829.5,1433.6 1829.9,1445.6 1830.2,1459.9 1830.6,1452.7 1830.9,1462.3 1831.3,1445.4 1831.6,1469.4 1832.0,1467.0 1832.3,1430.9 1832.6,1440.5 1833.0,1447.6 1833.3,1466.8 1833.7,1466.8 1834.0,1478.7 1834.4,1433.1 1834.7,1457.0 1835.1,1454.6 1835.4,1449.8 1835.8,1452.1 1836.1,1425.7 1836.4,1459.2 1836.8,1447.2 1837.1,1437.5 1837.5,1473.5 1837.8,1444.6 1838.2,1456.6 1838.5,1444.5 1838.9,1432.5 1839.2,1446.8 1839.6,1458.8 1839.9,1439.5 1840.2,1461.1 1840.6,1477.8 1840.9,1470.5 1841.3,1448.9 1841.6,1441.6 1842.0,1465.6 1842.3,1434.3 1842.7,1439.0 1843.0,1477.4 1843.4,1458.1 1843.7,1460.4 1844.0,1448.4 1844.4,1491.5 1844.7,1493.9 1845.1,1450.6 1845.4,1464.9 1845.8,1450.3 1846.1,1459.7 1846.5,1471.5 1846.8,1471.2 1847.2,1449.3 1847.5,1458.6 1847.8,1489.4 1848.2,1465.0 1848.5,1471.8 1848.9,1459.4 1849.2,1449.3 1849.6,1434.4 1849.9,1436.3 1850.3,1426.2 1850.6,1432.8 1851.0,1437.1 1851.3,1458.1 1851.6,1423.9 1852.0,1452.2 1852.3,1420.4 1852.7,1479.8 1853.0,1436.1 1853.4,1445.1 1853.7,1466.1 1854.1,1439.2 1854.4,1443.5 1854.8,1442.9 1855.1,1449.6 1855.4,1434.8 1855.8,1463.1 1856.1,1455.5 1856.5,1440.6 1856.8,1454.7 1857.2,1437.5 1857.5,1432.4 1857.9,1436.9 1858.2,1443.8 1858.6,1417.2 1858.9,1433.8 1859.2,1443.3 1859.6,1424.0 1859.9,1440.8 1860.3,1421.6 1860.6,1440.8 1861.0,1436.0 1861.3,1440.8 1861.7,1426.4 1862.0,1412.0 1862.4,1402.4 1862.7,1474.5 1863.0,1416.9 1863.4,1426.5 1863.7,1414.5 1864.1,1455.3 1864.4,1445.7 1864.8,1448.2 1865.1,1421.8 1865.5,1450.6 1865.8,1426.6 1866.2,1453.1 1866.5,1436.3 1866.8,1407.5 1867.2,1436.4 1867.5,1426.8 1867.9,1467.6 1868.2,1419.7 1868.6,1434.1 1868.9,1434.1 1869.3,1427.0 1869.6,1427.0 1870.0,1436.6 1870.3,1441.5 1870.6,1431.9 1871.0,1434.4 1871.3,1436.8 1871.7,1424.8 1872.0,1434.5 1872.4,1436.9 1872.7,1451.4 1873.1,1446.6 1873.4,1444.3 1873.8,1449.1 1874.1,1427.5 1874.4,1451.6 1874.8,1432.4 1875.1,1434.9 1875.5,1432.5 1875.8,1446.9 1876.2,1430.2 1876.5,1444.6 1876.9,1432.7 1877.2,1430.3 1877.6,1442.3 1877.9,1425.6 1878.2,1452.0 1878.6,1428.1 1878.9,1430.5 1879.3,1452.1 1879.6,1418.6 1880.0,1449.8 1880.3,1437.8 1880.7,1437.9 1881.0,1440.3 1881.4,1425.9 1881.7,1459.6 1882.0,1445.2 1882.4,1445.2 1882.7,1447.7 1883.1,1450.1 1883.4,1440.5 1883.8,1426.2 1884.1,1421.4 1884.5,1421.4 1884.8,1431.0 1885.2,1450.3 1885.5,1421.5 1885.9,1433.5 1886.2,1445.6 1886.5,1433.6 1886.9,1433.6 1887.2,1424.1 1887.6,1440.9 1887.9,1431.3 1888.3,1429.0 1888.6,1433.8 1889.0,1443.4 1889.3,1450.7 1889.7,1424.3 1890.0,1443.5 1890.3,1424.4 1890.7,1414.8 1891.0,1429.2 1891.4,1438.9 1891.7,1436.5 1892.1,1443.7 1892.4,1412.6 1892.8,1455.8 1893.1,1448.6 1893.5,1446.3 1893.8,1417.5 1894.1,1443.9 1894.5,1432.0 1894.8,1432.0 1895.2,1439.2 1895.5,1417.7 1895.9,1451.3 1896.2,1451.4 1896.6,1449.0 1896.9,1456.2 1897.3,1417.9 1897.6,1434.7 1897.9,1434.7 1898.3,1422.8 1898.6,1449.2 1899.0,1470.8 1899.3,1425.3 1899.7,1446.9 1900.0,1439.7 1900.4,1442.2 1900.7,1439.8 1901.1,1447.0 1901.4,1432.7 1901.7,1435.1 1902.1,1459.2 1902.4,1440.0 1902.8,1440.0 1903.1,1418.5 1903.5,1444.9 1903.8,1447.3 1904.2,1442.6 1904.5,1459.4 1904.9,1416.2 1905.2,1449.9 1905.5,1418.7 1905.9,1425.9 1906.2,1414.0 1906.6,1450.0 1906.9,1438.0 1907.3,1433.3 1907.6,1440.5 1908.0,1414.1 1908.3,1431.0 1908.7,1443.0 1909.0,1431.0 1909.3,1438.3 1909.7,1419.1 1910.0,1440.7 1910.4,1436.0 1910.7,1443.2 1911.1,1460.0 1911.4,1440.9 1911.8,1431.3 1912.1,1443.3 1912.5,1426.6 1912.8,1460.2 1913.1,1438.6 1913.5,1438.7 1913.8,1445.9 1914.2,1424.3 1914.5,1438.8 1914.9,1436.4 1915.2,1465.2 1915.6,1458.0 1915.9,1462.9 1916.3,1441.3 1916.6,1441.3 1916.9,1453.4 1917.3,1431.8 1917.6,1429.4 1918.0,1458.3 1918.3,1446.3 1918.7,1446.3 1919.0,1417.5 1919.4,1434.4 1919.7,1434.4 1920.1,1432.0 1920.4,1444.0 1920.7,1427.3 1921.1,1424.9 1921.4,1463.3 1921.8,1446.6 1922.1,1427.4 1922.5,1465.8 1922.8,1446.6 1923.2,1444.3 1923.5,1405.9 1923.9,1458.7 1924.2,1441.9 1924.5,1456.4 1924.9,1461.2 1925.2,1425.2 1925.6,1463.6 1925.9,1451.6 1926.3,1442.1 1926.6,1413.3 1927.0,1466.1 1927.3,1444.5 1927.7,1449.3 1928.0,1427.8 1928.3,1449.4 1928.7,1449.4 1929.0,1461.4 1929.4,1430.2 1929.7,1415.9 1930.1,1435.1 1930.4,1430.3 1930.8,1444.7 1931.1,1439.9 1931.5,1444.7 1931.8,1456.8 1932.1,1464.0 1932.5,1442.4 1932.8,1423.2 1933.2,1442.4 1933.5,1440.0 1933.9,1440.0 1934.2,1440.1 1934.6,1442.5 1934.9,1413.7 1935.3,1447.3 1935.6,1447.3 1935.9,1444.9 1936.3,1440.1 1936.6,1452.1 1937.0,1420.9 1937.3,1440.2 1937.7,1447.4 1938.0,1435.4 1938.4,1440.2 1938.7,1454.6 1939.1,1440.2 1939.4,1430.6 1939.7,1435.4 1940.1,1445.0 1940.4,1428.2 1940.8,1440.2 1941.1,1435.4 1941.5,1442.6 1941.8,1449.8 1942.2,1449.8 1942.5,1442.6 1942.9,1445.0 1943.2,1449.8 1943.5,1430.6 1943.9,1442.6 1944.2,1428.3 1944.6,1457.1 1944.9,1442.7 1945.3,1425.9 1945.6,1435.5 1946.0,1449.9 1946.3,1445.1 1946.7,1421.1 1947.0,1461.9 1947.3,1445.1 1947.7,1445.1 1948.0,1437.9 1948.4,1430.7 1948.7,1423.5 1949.1,1442.7 1949.4,1440.3 1949.8,1437.9 1950.1,1449.9 1950.5,1445.1 1950.8,1428.3 1951.1,1435.5 1951.5,1454.7 1951.8,1425.9 1952.2,1466.7 1952.5,1435.5 1952.9,1473.9 1953.2,1447.5 1953.6,1423.6 1953.9,1447.6 1954.3,1442.8 1954.6,1438.0 1955.0,1442.8 1955.3,1442.8 1955.6,1404.4 1956.0,1450.0 1956.3,1438.0 1956.7,1442.8 1957.0,1450.0 1957.4,1442.8 1957.7,1428.4 1958.1,1452.4 1958.4,1438.0 1958.8,1445.2 1959.1,1433.2 1959.4,1440.4 1959.8,1430.8 1960.1,1462.0 1960.5,1428.4 1960.8,1454.8 1961.2,1418.8 1961.5,1445.2 1961.9,1438.0 1962.2,1454.8 1962.6,1445.2 1962.9,1469.2 1963.2,1478.8 1963.6,1435.6 1963.9,1450.0 1964.3,1430.8 1964.6,1430.9 1965.0,1442.9 1965.3,1452.5 1965.7,1450.1 1966.0,1440.5 1966.4,1457.3 1966.7,1428.5 1967.0,1430.9 1967.4,1440.5 1967.7,1421.3 1968.1,1459.7 1968.4,1440.5 1968.8,1438.1 1969.1,1447.7 1969.5,1426.1 1969.8,1440.5 1970.2,1421.3 1970.5,1440.5 1970.8,1445.3 1971.2,1462.1 1971.5,1442.9 1971.9,1459.7 1972.2,1442.9 1972.6,1423.7 1972.9,1452.5 1973.3,1442.9 1973.6,1435.7 1974.0,1454.9 1974.3,1430.9 1974.6,1438.1 1975.0,1452.5 1975.3,1452.5 1975.7,1435.7 1976.0,1447.7 1976.4,1442.9 1976.7,1450.1 1977.1,1440.5 1977.4,1416.5 1977.8,1438.1 1978.1,1462.1 1978.4,1433.3 1978.8,1440.5 1979.1,1452.5 1979.5,1440.5 1979.8,1428.6 1980.2,1443.0 1980.5,1440.6 1980.9,1431.0 1981.2,1440.6 1981.6,1426.2 1981.9,1423.8 1982.2,1428.6 1982.6,1440.6 1982.9,1443.0 1983.3,1435.8 1983.6,1457.4 1984.0,1450.2 1984.3,1443.0 1984.7,1457.4 1985.0,1462.2 1985.4,1452.6 1985.7,1435.8 1986.0,1455.0 1986.4,1457.4 1986.7,1447.8 1987.1,1440.6 1987.4,1447.8 1987.8,1447.8 1988.1,1419.0 1988.5,1464.6 1988.8,1443.0 1989.2,1469.4 1989.5,1443.0 1989.8,1433.4 1990.2,1455.0 1990.5,1445.4 1990.9,1455.0 1991.2,1438.2 1991.6,1438.2 1991.9,1433.4 1992.3,1433.4 1992.6,1447.8 1993.0,1426.2 1993.3,1445.4 1993.6,1457.4 1994.0,1431.0 1994.3,1440.6 1994.7,1433.4 1995.0,1438.2 1995.4,1445.4 1995.7,1452.6 1996.1,1455.0 1996.4,1433.4 1996.8,1452.6 1997.1,1435.8 1997.4,1428.6 1997.8,1431.0 1998.1,1416.6 1998.5,1443.0 1998.8,1419.0 1999.2,1445.4 1999.5,1476.6 1999.9,1431.0 2000.2,1416.6 2000.6,1447.8 2000.9,1428.6 2001.2,1443.0 2001.6,1443.0 2001.9,1445.4 2002.3,1471.7 2002.6,1447.7 2003.0,1445.3 2003.3,1440.5 2003.7,1433.3 2004.0,1435.6 2004.4,1428.4 2004.7,1454.8 2005.0,1440.3 2005.4,1452.3 2005.7,1447.4 2006.1,1471.4 2006.4,1442.6 2006.8,1452.1 2007.1,1435.3 2007.5,1459.2 2007.8,1440.0 2008.2,1442.3 2008.5,1425.5 2008.8,1449.4 2009.2,1466.1 2009.5,1461.3 2009.9,1427.6 2010.2,1454.0 2010.6,1432.3 2010.9,1420.2 2011.3,1425.0 2011.6,1458.5 2012.0,1439.2 2012.3,1427.2 2012.6,1446.3 2013.0,1446.2 2013.3,1438.9 2013.7,1448.5 2014.0,1436.4 2014.4,1457.9 2014.7,1453.0 2015.1,1441.0 2015.4,1445.7 2015.8,1452.8 2016.1,1440.7 2016.4,1447.8 2016.8,1440.6 2017.1,1435.7 2017.5,1416.4 2017.8,1423.5 2018.2,1428.2 2018.5,1440.1 2018.9,1476.1 2019.2,1428.0 2019.6,1435.1 2019.9,1423.0 2020.2,1434.9 2020.6,1437.2 2020.9,1449.1 2021.3,1420.3 2021.6,1446.6 2022.0,1441.7 2022.3,1434.4 2022.7,1422.3 2023.0,1424.6 2023.4,1436.5 2023.7,1446.0 2024.1,1436.4 2024.4,1429.1 2024.7,1443.4 2025.1,1424.1 2025.4,1448.0 2025.8,1479.1 2026.1,1431.1 2026.5,1452.6 2026.8,1423.7 2027.2,1438.0 2027.5,1445.1 2027.9,1454.7 2028.2,1437.8 2028.5,1456.9 2028.9,1420.8 2029.2,1435.2 2029.6,1437.5 2029.9,1439.8 2030.3,1434.9 2030.6,1463.7 2031.0,1432.4 2031.3,1451.5 2031.7,1444.3 2032.0,1465.8 2032.3,1434.5 2032.7,1446.5 2033.0,1444.0 2033.4,1393.6 2033.7,1443.9 2034.1,1451.0 2034.4,1458.2 2034.8,1422.1 2035.1,1434.1 2035.5,1453.2 2035.8,1422.0 2036.1,1426.8 2036.5,1445.9 2036.8,1445.9 2037.2,1455.4 2037.5,1453.0 2037.9,1441.0 2038.2,1421.7 2038.6,1428.9 2038.9,1436.1 2039.3,1443.2 2039.6,1438.4 2039.9,1448.0 2040.3,1426.4 2040.6,1431.2 2041.0,1419.1 2041.3,1464.7 2041.7,1435.9 2042.0,1450.3 2042.4,1455.1 2042.7,1443.1 2043.1,1435.8 2043.4,1431.0 2043.7,1433.4 2044.1,1414.2 2044.4,1431.0 2044.8,1447.7 2045.1,1440.5 2045.5,1447.7 2045.8,1447.7 2046.2,1447.7 2046.5,1438.1 2046.9,1440.4 2047.2,1450.0 2047.5,1433.2 2047.9,1418.8 2048.2,1447.6 2048.6,1438.0 2048.9,1452.3 2049.3,1428.3 2049.6,1413.9 2050.0,1435.5 2050.3,1428.3 2050.7,1423.5 2051.0,1457.1 2051.3,1440.2 2051.7,1421.0 2052.0,1413.8 2052.4,1435.4 2052.7,1445.0 2053.1,1440.2 2053.4,1452.2 2053.8,1440.1 2054.1,1442.5 2054.5,1411.3 2054.8,1454.5 2055.1,1428.1 2055.5,1449.7 2055.8,1416.1 2056.2,1423.3 2056.5,1452.0 2056.9,1418.4 2057.2,1440.0 2057.6,1430.4 2057.9,1461.6 2058.3,1442.4 2058.6,1454.4 2058.9,1435.2 2059.3,1413.6 2059.6,1463.9 2060.0,1427.9 2060.3,1437.5 2060.7,1435.1 2061.0,1413.5 2061.4,1447.1 2061.7,1430.3 2062.1,1411.1 2062.4,1415.9 2062.7,1403.9 2063.1,1425.5 2063.4,1432.7 2063.8,1423.1 2064.1,1435.0 2064.5,1430.2 2064.8,1442.2 2065.2,1435.0 2065.5,1432.6 2065.9,1425.4 2066.2,1418.2 2066.5,1423.0 2066.9,1439.8 2067.2,1427.8 2067.6,1456.6 2067.9,1447.0 2068.3,1415.8 2068.6,1442.2 2069.0,1451.8 2069.3,1425.4 2069.7,1451.8 2070.0,1425.4 2070.3,1456.6 2070.7,1442.2 2071.0,1432.6 2071.4,1413.5 2071.7,1435.1 2072.1,1425.6 2072.4,1440.0 2072.8,1423.3 2073.1,1442.6 2073.5,1428.3 2073.8,1445.2 2074.1,1447.7 2074.5,1438.2 2074.8,1443.1 2075.2,1452.8 2075.5,1424.1 2075.9,1445.9 2076.2,1441.2 2076.6,1460.5 2076.9,1434.3 2077.3,1451.2 2077.6,1413.0 2077.9,1454.0 2078.3,1444.5 2078.6,1442.3 2079.0,1449.7 2079.3,1421.0 2079.7,1435.6 2080.0,1440.6 2080.4,1433.6 2080.7,1431.3 2081.1,1453.1 2081.4,1438.9 2081.7,1436.7 2082.1,1439.3 2082.4,1458.7 2082.8,1466.1 2083.1,1456.6 2083.5,1447.2 2083.8,1421.0 2084.2,1433.2 2084.5,1428.6 2084.9,1428.8 2085.2,1457.7 2085.5,1433.9 2085.9,1460.5 2086.2,1443.9 2086.6,1439.2 2086.9,1439.4 2087.3,1422.8 2087.6,1437.3 2088.0,1454.3 2088.3,1452.0 2088.7,1445.0 2089.0,1452.3 2089.3,1445.2 2089.7,1450.2 2090.0,1476.7 2090.4,1445.6 2090.7,1419.3 2091.1,1414.6 2091.4,1433.9 2091.8,1446.0 2092.1,1458.1 2092.5,1443.7 2092.8,1446.2 2093.2,1453.5 2093.5,1431.9 2093.8,1443.9 2094.2,1448.8 2094.5,1439.2 2094.9,1434.4 2095.2,1451.2 2095.6,1458.4 2095.9,1446.4 2096.3,1412.7 2096.6,1434.3 2097.0,1439.1 2097.3,1451.0 2097.6,1439.0 2098.0,1438.9 2098.3,1458.0 2098.7,1460.4 2099.0,1445.9 2099.4,1429.0 2099.7,1426.5 2100.1,1452.8 2100.4,1433.5 2100.8,1443.0 2101.1,1440.5 2101.4,1445.2 2101.8,1447.4 2102.1,1428.1 2102.5,1432.8 2102.8,1444.7 2103.2,1442.1 2103.5,1425.2 2103.9,1465.8 2104.2,1422.5 2104.6,1456.0 2104.9,1419.8 2105.2,1453.3 2105.6,1417.1 2105.9,1452.9 2106.3,1443.2 2106.6,1450.2 2107.0,1430.9 2107.3,1442.7 2107.7,1442.6 2108.0,1442.4 2108.4,1432.6 2108.7,1456.5 2109.0,1415.5 2109.4,1420.2 2109.7,1420.0 2110.1,1455.8 2110.4,1426.9 2110.8,1429.1 2111.1,1429.0 2111.5,1433.6 2111.8,1435.9 2112.2,1430.9 2112.5,1418.8 2112.8,1442.7 2113.2,1437.7 2113.5,1456.8 2113.9,1442.3 2114.2,1434.9 2114.6,1420.4 2114.9,1437.1 2115.3,1444.2 2115.6,1456.1 2116.0,1441.6 2116.3,1446.3 2116.6,1443.8 2117.0,1455.7 2117.3,1450.8 2117.7,1436.4 2118.0,1419.5 2118.4,1455.4 2118.7,1436.2 2119.1,1426.5 2119.4,1419.3 2119.8,1414.5 2120.1,1438.4 2120.4,1433.6 2120.8,1438.4 2121.1,1450.4 2121.5,1428.8 2121.8,1438.4 2122.2,1428.8 2122.5,1426.5 2122.9,1409.7 2123.2,1426.5 2123.6,1448.2 2123.9,1429.0 2124.2,1438.6 2124.6,1438.7 2124.9,1460.4 2125.3,1453.2 2125.6,1429.3 2126.0,1431.7 2126.3,1448.6 2126.7,1439.1 2127.0,1439.2 2127.4,1451.3 2127.7,1444.1 2128.0,1439.4 2128.4,1473.1 2128.7,1442.0 2129.1,1422.9 2129.4,1442.2 2129.8,1439.9 2130.1,1456.8 2130.5,1442.6 2130.8,1430.7 2131.2,1442.8 2131.5,1423.7 2131.8,1433.4 2132.2,1443.1 2132.5,1428.8 2132.9,1414.6 2133.2,1426.7 2133.6,1429.2 2133.9,1446.1 2134.3,1434.3 2134.6,1439.2 2135.0,1427.3 2135.3,1439.4 2135.6,1432.4 2136.0,1446.9 2136.3,1442.2 2136.7,1456.7 2137.0,1447.3 2137.4,1435.4 2137.7,1430.7 2138.1,1442.8 2138.4,1447.7 2138.8,1457.5 2139.1,1433.6 2139.4,1426.5 2139.8,1419.4 2140.1,1429.1 2140.5,1438.8 2140.8,1436.5 2141.2,1436.6 2141.5,1439.2 2141.9,1444.1 2142.2,1422.6 2142.6,1441.9 2142.9,1439.5 2143.2,1439.6 2143.6,1437.3 2143.9,1420.6 2144.3,1447.1 2144.6,1435.2 2145.0,1440.0 2145.3,1444.9 2145.7,1442.6 2146.0,1445.0 2146.4,1445.1 2146.7,1430.7 2147.0,1428.4 2147.4,1450.0 2147.7,1433.3 2148.1,1464.5 2148.4,1428.5 2148.8,1443.0 2149.1,1440.6 2149.5,1445.4 2149.8,1431.0 2150.2,1445.4 2150.5,1464.6 2150.8,1435.8 2151.2,1416.6 2151.5,1447.8 2151.9,1445.4 2152.2,1447.8 2152.6,1433.4 2152.9,1445.4 2153.3,1450.2 2153.6,1435.8 2154.0,1443.0 2154.3,1447.8 2154.6,1450.2 2155.0,1438.2 2155.3,1443.0 2155.7,1462.2 2156.0,1464.6 2156.4,1431.0 2156.7,1464.6 2157.1,1438.2 2157.4,1452.6 2157.8,1428.6 2158.1,1440.6 2158.4,1435.8 2158.8,1450.2 2159.1,1443.0 2159.5,1445.4 2159.8,1445.4 2160.2,1443.0 2160.5,1452.6 2160.9,1443.0 2161.2,1440.6 2161.6,1435.8 2161.9,1431.0 2162.3,1435.8 2162.6,1445.4 2162.9,1452.6 2163.3,1440.6 2163.6,1462.2 2164.0,1455.0 2164.3,1443.0 2164.7,1445.4 2165.0,1440.6 2165.4,1421.4 2165.7,1450.2 2166.1,1443.0 2166.4,1423.8 2166.7,1450.2 2167.1,1435.8 2167.4,1438.2 2167.8,1423.7 2168.1,1440.5 2168.5,1445.3 2168.8,1435.7 2169.2,1440.5 2169.5,1421.3 2169.9,1447.7 2170.2,1440.5 2170.5,1440.5 2170.9,1447.7 2171.2,1452.5 2171.6,1440.5 2171.9,1450.1 2172.3,1459.7 2172.6,1430.9 2173.0,1442.9 2173.3,1423.7 2173.7,1445.3 2174.0,1454.9 2174.3,1440.5 2174.7,1428.5 2175.0,1435.7 2175.4,1445.3 2175.7,1426.0 2176.1,1426.0 2176.4,1445.2 2176.8,1426.0 2177.1,1442.8 2177.5,1430.8 2177.8,1423.6 2178.1,1450.0 2178.5,1452.4 2178.8,1433.2 2179.2,1464.4 2179.5,1442.8 2179.9,1447.6 2180.2,1442.7 2180.6,1430.7 2180.9,1452.3 2181.3,1442.7 2181.6,1447.5 2181.9,1442.7 2182.3,1437.9 2182.6,1466.7 2183.0,1445.1 2183.3,1437.9 2183.7,1447.5 2184.0,1428.2 2184.4,1445.0 2184.7,1469.0 2185.1,1435.4 2185.4,1447.4 2185.7,1428.2 2186.1,1442.6 2186.4,1452.2 2186.8,1430.5 2187.1,1432.9 2187.5,1452.1 2187.8,1444.9 2188.2,1447.3 2188.5,1447.3 2188.9,1428.1 2189.2,1423.3 2189.5,1420.8 2189.9,1447.2 2190.2,1425.6 2190.6,1423.2 2190.9,1435.2 2191.3,1440.0 2191.6,1444.7 2192.0,1423.1 2192.3,1454.3 2192.7,1430.3 2193.0,1442.3 2193.3,1439.9 2193.7,1430.2 2194.0,1444.6 2194.4,1444.6 2194.7,1451.8 2195.1,1461.4 2195.4,1463.7 2195.8,1451.7 2196.1,1446.9 2196.5,1437.3 2196.8,1425.3 2197.1,1444.4 2197.5,1434.8 2197.8,1437.2 2198.2,1437.2 2198.5,1444.4 2198.9,1437.1 2199.2,1465.9 2199.6,1449.1 2199.9,1434.7 2200.3,1444.2 2200.6,1456.2 2200.9,1429.8 2201.3,1444.2 2201.6,1434.5 2202.0,1441.7 2202.3,1436.9 2202.7,1441.7 2203.0,1446.4 2203.4,1446.4 2203.7,1424.8 2204.1,1448.8 2204.4,1441.5 2204.7,1434.3 2205.1,1439.1 2205.4,1455.8 2205.8,1439.0 2206.1,1431.8 2206.5,1448.6 2206.8,1438.9 2207.2,1448.5 2207.5,1443.7 2207.9,1453.2 2208.2,1434.0 2208.5,1436.4 2208.9,1450.7 2209.2,1457.9 2209.6,1443.5 2209.9,1453.0 2210.3,1445.8 2210.6,1441.0 2211.0,1424.1 2211.3,1462.5 2211.7,1452.9 2212.0,1416.8 2212.3,1448.0 2212.7,1433.6 2213.0,1431.1 2213.4,1433.5 2213.7,1447.8 2214.1,1440.6 2214.4,1438.2 2214.8,1438.1 2215.1,1435.7 2215.5,1445.2 2215.8,1418.8 2216.1,1426.0 2216.5,1437.9 2216.8,1428.3 2217.2,1440.2 2217.5,1435.4 2217.9,1442.6 2218.2,1437.7 2218.6,1444.9 2218.9,1440.0 2219.3,1447.2 2219.6,1435.1 2219.9,1423.1 2220.3,1439.8 2220.6,1439.8 2221.0,1434.9 2221.3,1449.3 2221.7,1444.4 2222.0,1454.0 2222.4,1434.7 2222.7,1434.7 2223.1,1444.2 2223.4,1453.8 2223.7,1432.1 2224.1,1444.1 2224.4,1439.2 2224.8,1436.8 2225.1,1448.7 2225.5,1448.7 2225.8,1446.2 2226.2,1434.2"/>
</g>
<path d="M1081.1 1161.4V1206.3M1083.7 1161.4V1206.3M1239.5 1161.4V1206.3M1242.5 1161.4V1206.3M1742.8 1161.4V1206.3M1747.2 1161.4V1206.3M2052.2 1161.4V1206.3M2057.6 1161.4V1206.3M2148.1 1161.4V1206.3M2153.7 1161.4V1206.3" stroke="#ff8000" stroke-width="5.2" stroke-linecap="round" fill="none"/>
<path d="M490.0 1220.3V1266.2M491.0 1220.3V1266.2M898.4 1220.3V1266.2M900.4 1220.3V1266.2M1248.1 1220.3V1266.2M1251.1 1220.3V1266.2M1266.9 1220.3V1266.2M1269.9 1220.3V1266.2M1316.4 1220.3V1266.2M1319.6 1220.3V1266.2M1320.4 1220.3V1266.2M1323.6 1220.3V1266.2M1406.3 1220.3V1266.2M1409.7 1220.3V1266.2M1518.5 1220.3V1266.2M1522.3 1220.3V1266.2M1653.2 1220.3V1266.2M1657.4 1220.3V1266.2M1748.1 1220.3V1266.2M1752.5 1220.3V1266.2M1806.5 1220.3V1266.2M1811.1 1220.3V1266.2M1975.9 1220.3V1266.2M1980.9 1220.3V1266.2M2158.5 1220.3V1266.2M2164.9 1220.3V1266.2M2171.5 1220.3V1266.2M2203.5 1220.3V1266.2M2209.3 1220.3V1266.2M2212.3 1220.3V1266.2M2218.4 1220.3V1266.2" stroke="#008000" stroke-width="5.2" stroke-linecap="round" fill="none"/>
<path d="M287.1 1275.3V1321.2M287.7 1275.3V1321.2M490.0 1275.3V1321.2M491.0 1275.3V1321.2M693.2 1275.3V1321.2M694.8 1275.3V1321.2M898.4 1275.3V1321.2M900.4 1275.3V1321.2M942.5 1275.3V1321.2M944.7 1275.3V1321.2M966.4 1275.3V1321.2M968.6 1275.3V1321.2M1035.3 1275.3V1321.2M1037.7 1275.3V1321.2M1105.7 1275.3V1321.2M1108.3 1275.3V1321.2M1141.2 1275.3V1321.2M1143.8 1275.3V1321.2M1275.7 1275.3V1321.2M1278.7 1275.3V1321.2M1315.7 1275.3V1321.2M1318.9 1275.3V1321.2M1430.7 1275.3V1321.2M1434.1 1275.3V1321.2M1529.9 1275.3V1321.2M1533.7 1275.3V1321.2M1594.5 1275.3V1321.2M1597.5 1275.3V1321.2M1600.5 1275.3V1321.2M1603.5 1275.3V1321.2M1606.5 1275.3V1321.2M1609.5 1275.3V1321.2M1613.7 1275.3V1321.2M1653.2 1275.3V1321.2M1657.4 1275.3V1321.2M1724.2 1275.3V1321.2M1728.6 1275.3V1321.2M1748.1 1275.3V1321.2M1752.5 1275.3V1321.2M1786.0 1275.3V1321.2M1790.6 1275.3V1321.2M1819.7 1275.3V1321.2M1824.3 1275.3V1321.2M1843.7 1275.3V1321.2M1848.3 1275.3V1321.2M1856.6 1275.3V1321.2M1861.4 1275.3V1321.2M1895.3 1275.3V1321.2M1900.1 1275.3V1321.2M1937.3 1275.3V1321.2M1942.3 1275.3V1321.2M1959.3 1275.3V1321.2M1964.3 1275.3V1321.2M1972.5 1275.3V1321.2M1976.4 1275.3V1321.2M1980.8 1275.3V1321.2M1986.5 1275.3V1321.2M2047.3 1275.3V1321.2M2052.7 1275.3V1321.2M2074.4 1275.3V1321.2M2080.3 1275.3V1321.2M2155.9 1275.3V1321.2M2161.5 1275.3V1321.2M2188.6 1275.3V1321.2M2194.4 1275.3V1321.2M2203.5 1275.3V1321.2M2209.6 1275.3V1321.2" stroke="#8000e0" stroke-width="5.2" stroke-linecap="round" fill="none"/>
<path d="M431.5 1617V1649M776.5 1617V1649M1122.5 1617V1649M1467.5 1617V1649M1813.5 1617V1649M2158.5 1617V1649M258.5 1617V1634M603.5 1617V1634M949.5 1617V1634M1294.5 1617V1634M1640.5 1617V1634M1985.5 1617V1634" stroke="#000" stroke-width="7" fill="none"/>
<text x="431.7" y="1752.3" font-size="105.5" text-anchor="middle">10</text>
<text x="777.1" y="1752.3" font-size="105.5" text-anchor="middle">20</text>
<text x="1122.5" y="1752.3" font-size="105.5" text-anchor="middle">30</text>
<text x="1467.9" y="1752.3" font-size="105.5" text-anchor="middle">40</text>
<text x="1813.3" y="1752.3" font-size="105.5" text-anchor="middle">50</text>
<text x="2158.7" y="1752.3" font-size="105.5" text-anchor="middle">60</text>
<text class="b" x="1242.8" y="1948" font-size="134.5" letter-spacing="0.75" text-anchor="middle">2 Theta (degrees)</text>
<text class="b" transform="translate(118.5 801.3) rotate(-90)" font-size="134.5" letter-spacing="0.3" text-anchor="middle">Intensity (a.u.)</text>
<text class="b" x="316.6" y="153" font-size="91.5" letter-spacing="-0.4">ZAC-100S</text>
<g fill="none" stroke-linecap="butt">
<path d="M1372 159.5H1530" stroke="#000" stroke-width="3" shape-rendering="crispEdges"/>
<path d="M1373.5 261.5H1528.5" stroke="#f00" stroke-width="9.2" stroke-linecap="round"/>
<path d="M1372 363.5H1530" stroke="#00f" stroke-width="3" shape-rendering="crispEdges"/>
<path d="M1451.4 443.5V488.3" stroke="#ff8000" stroke-width="4.9" stroke-linecap="round"/>
<path d="M1451.4 528.8V574.3" stroke="#008000" stroke-width="4.9" stroke-linecap="round"/>
<path d="M1451.4 630.5V676.4" stroke="#8000e0" stroke-width="4.9" stroke-linecap="round"/>
</g>
<g font-size="71">
<text x="1547" y="183.6">Y<tspan font-size="46.5" dy="19">obs</tspan></text>
<text x="1547" y="286.2">Y<tspan font-size="46.5" dy="17.6" dx="17.5">cal</tspan></text>
<text x="1547" y="388.9">Y<tspan font-size="46.5" dy="19">obs</tspan><tspan dy="-19" dx="1">-Y</tspan><tspan font-size="46.5" dy="19">cal</tspan></text>
<text x="1544" y="490.4">ZnS (96.64%)</text>
<text x="1546.5" y="576" letter-spacing="-0.2">CdSO<tspan font-size="46.5" dy="18.6" dx="-1.5">4</tspan><tspan dy="-18.6" dx="-0.5"> (1.71 %)</tspan></text>
<text x="1544" y="677.6" letter-spacing="-0.4">ZnAl-LDH (1.65%)</text>
</g>
</svg></body></html>
